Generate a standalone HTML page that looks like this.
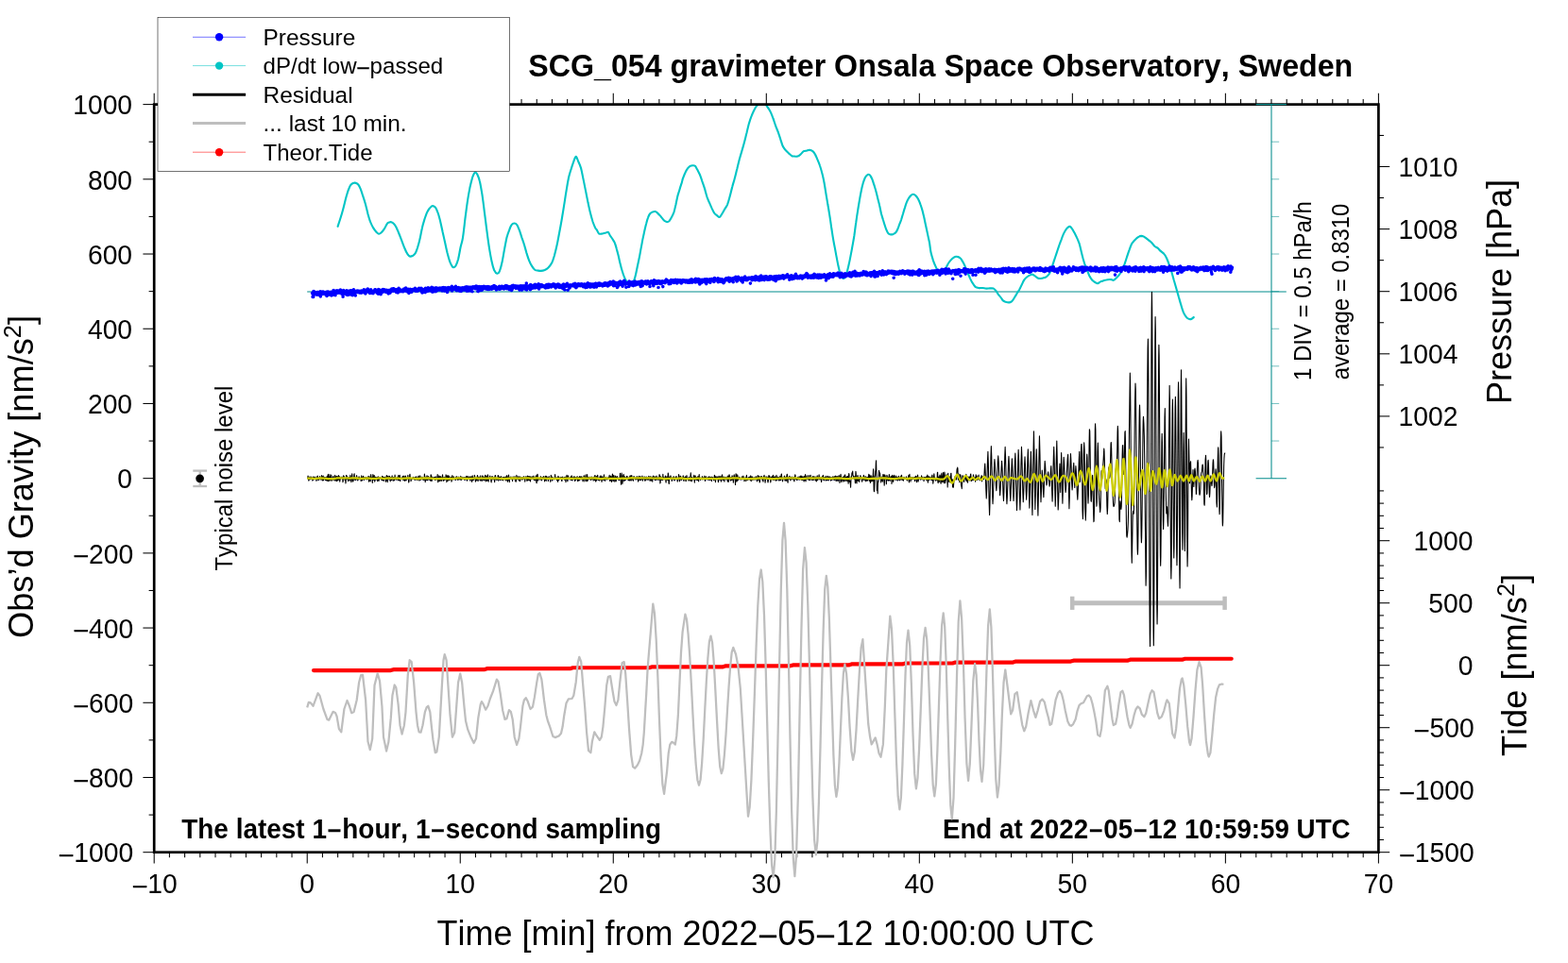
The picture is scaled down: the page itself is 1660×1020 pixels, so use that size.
<!DOCTYPE html>
<html lang="en">
<head>
<meta charset="utf-8">
<title>SCG_054 gravimeter Onsala Space Observatory, Sweden</title>
<style>
html,body{margin:0;padding:0;background:#fff;}
body{width:1660px;height:1020px;overflow:hidden;}
svg{display:block;}
text{font-family:"Liberation Sans",sans-serif;font-kerning:none;font-variant-ligatures:none;}
</style>
</head>
<body>
<svg width="1660" height="1020" viewBox="0 0 1660 1020">
<rect x="0" y="0" width="1660" height="1020" fill="#fff"/>
<defs><clipPath id="clip"><rect x="163.2" y="110.6" width="1296.2" height="792.1"/></clipPath></defs>
<g id="data" fill="none" stroke-linejoin="round" stroke-linecap="butt">
<line x1="325.2" y1="308.9" x2="1361.8" y2="308.9" stroke="#008b8b" stroke-width="1.05"/>
<path d="M357.6,239.8C358.5,237.1 361.3,228.8 362.7,223.5C364.2,218.3 365.4,212.4 366.6,208.2C367.7,204.1 368.8,200.9 369.8,198.7C370.7,196.4 371.3,195.7 372.3,194.9C373.3,194.0 374.7,193.5 375.9,193.6C377.0,193.7 378.3,194.3 379.3,195.5C380.3,196.7 381.0,198.5 381.9,200.6C382.7,202.7 383.6,205.6 384.4,208.2C385.3,210.9 386.1,213.4 387.0,216.5C387.8,219.6 388.7,223.6 389.5,226.7C390.4,229.8 391.1,232.6 392.1,235.0C393.0,237.4 394.2,239.6 395.2,241.4C396.3,243.2 397.5,244.8 398.4,245.8C399.4,246.9 400.1,247.6 401.0,247.7C401.8,247.8 402.6,247.3 403.5,246.5C404.5,245.6 405.6,244.2 406.7,242.6C407.8,241.0 409.0,238.1 409.9,236.9C410.7,235.7 411.1,235.9 411.8,235.6C412.5,235.4 413.3,235.0 414.1,235.2C415.0,235.5 416.0,236.0 416.9,236.9C417.8,237.8 418.6,239.1 419.5,240.7C420.3,242.3 421.0,244.1 422.0,246.5C423.0,248.8 424.1,252.0 425.2,254.7C426.2,257.5 427.3,260.6 428.4,263.0C429.4,265.5 430.6,268.0 431.6,269.4C432.5,270.8 433.2,271.4 434.1,271.6C435.1,271.8 436.3,271.2 437.3,270.7C438.3,270.1 439.1,269.4 439.8,268.1C440.6,266.9 441.0,265.4 441.8,263.0C442.5,260.7 443.5,257.7 444.3,254.1C445.2,250.5 446.0,245.0 446.9,241.4C447.7,237.8 448.6,235.1 449.4,232.4C450.3,229.8 451.1,227.3 451.9,225.4C452.8,223.5 453.6,222.1 454.5,221.0C455.3,219.8 456.4,218.9 457.0,218.4C457.7,218.0 457.9,218.0 458.6,218.2C459.2,218.4 460.1,218.6 460.9,219.7C461.7,220.8 462.6,222.5 463.4,224.8C464.3,227.1 465.1,230.3 466.0,233.7C466.8,237.1 467.7,241.4 468.5,245.2C469.4,249.0 470.2,252.8 471.1,256.7C471.9,260.5 472.8,264.7 473.6,268.1C474.5,271.5 475.3,274.7 476.2,277.0C477.0,279.4 478.0,281.1 478.7,282.1C479.4,283.2 479.6,283.3 480.2,283.2C480.9,283.1 481.7,283.0 482.5,281.5C483.3,280.1 484.2,277.8 485.1,274.5C485.9,271.2 486.8,265.6 487.6,261.8C488.5,257.9 489.2,256.7 490.0,251.6C490.8,246.5 491.7,237.8 492.5,231.2C493.4,224.6 494.2,217.6 495.1,212.1C495.9,206.5 496.8,202.1 497.6,198.0C498.5,194.0 499.5,190.3 500.2,187.8C500.9,185.4 501.6,184.3 502.1,183.4C502.6,182.5 502.8,182.3 503.4,182.5C503.9,182.7 504.5,183.1 505.3,184.7C506.0,186.2 507.0,188.2 507.8,191.7C508.7,195.2 509.5,200.2 510.4,205.7C511.2,211.2 512.1,218.2 512.9,224.8C513.8,231.4 514.6,238.8 515.5,245.2C516.3,251.6 517.2,257.7 518.0,263.0C518.9,268.3 519.7,273.2 520.6,277.0C521.4,280.9 522.2,283.8 523.1,286.0C524.1,288.1 525.4,289.6 526.3,289.8C527.3,290.0 528.0,289.2 528.9,287.2C529.7,285.3 530.6,282.1 531.4,278.3C532.3,274.5 533.1,268.8 534.0,264.3C534.8,259.8 535.7,255.0 536.5,251.6C537.4,248.2 538.2,246.1 539.1,243.9C539.9,241.7 540.7,239.4 541.6,238.2C542.5,236.9 543.6,236.5 544.5,236.5C545.5,236.5 546.5,236.9 547.3,238.2C548.2,239.4 549.0,241.7 549.9,243.9C550.7,246.1 551.6,249.0 552.4,251.6C553.3,254.1 554.1,256.4 555.0,259.2C555.8,262.0 556.7,265.4 557.5,268.1C558.4,270.9 559.1,273.4 560.1,275.8C561.0,278.1 562.2,280.4 563.3,282.1C564.3,283.8 565.4,285.2 566.5,286.0C567.5,286.7 568.6,286.5 569.6,286.6C570.7,286.8 571.7,287.0 572.8,286.9C574.0,286.8 575.4,286.5 576.7,286.0C577.9,285.4 579.2,284.7 580.5,283.4C581.8,282.1 583.2,280.4 584.3,278.3C585.4,276.2 586.0,273.6 586.9,270.7C587.7,267.7 588.6,264.3 589.4,260.5C590.3,256.7 591.1,252.2 591.9,247.7C592.8,243.3 593.6,238.6 594.5,233.7C595.3,228.8 596.2,223.7 597.0,218.4C597.9,213.1 598.7,207.0 599.6,201.9C600.4,196.8 601.3,191.7 602.1,187.8C603.0,184.0 603.8,181.7 604.7,178.9C605.5,176.2 606.4,173.5 607.2,171.3C608.1,169.1 608.9,165.9 609.8,165.9C610.6,165.9 611.5,169.3 612.3,171.3C613.2,173.2 614.0,174.7 614.9,177.6C615.7,180.6 616.6,185.1 617.4,189.1C618.3,193.2 619.1,197.6 620.0,201.9C620.8,206.1 621.7,210.6 622.5,214.6C623.4,218.6 624.2,222.7 625.1,226.1C625.9,229.5 626.8,232.4 627.6,235.0C628.5,237.5 629.5,239.9 630.2,241.4C630.9,242.8 631.3,242.7 631.9,243.7C632.6,244.7 633.1,246.9 634.1,247.5C635.0,248.2 636.4,247.7 637.6,247.5C638.9,247.4 640.4,246.8 641.5,246.5C642.5,246.2 643.0,245.4 643.8,245.9C644.5,246.4 645.1,248.2 645.9,249.5C646.7,250.7 647.6,251.9 648.5,253.3C649.3,254.7 650.3,255.9 651.0,257.7C651.8,259.5 652.3,261.8 652.9,264.1C653.6,266.4 654.2,269.1 654.9,271.8C655.5,274.4 656.1,277.5 656.8,280.0C657.4,282.6 657.9,284.7 658.7,287.0C659.4,289.4 660.4,292.3 661.2,294.1C662.0,295.9 662.4,296.7 663.4,297.9C664.3,299.1 665.7,301.3 667.0,301.3C668.2,301.3 669.8,299.4 670.8,297.9C671.7,296.4 672.1,294.6 672.7,292.1C673.3,289.7 674.0,286.2 674.6,283.2C675.2,280.3 675.9,277.5 676.5,274.3C677.2,271.1 677.8,267.5 678.4,264.1C679.1,260.7 679.7,257.1 680.3,253.9C681.0,250.7 681.6,247.9 682.2,245.0C682.9,242.1 683.5,239.2 684.2,236.7C684.8,234.3 685.4,232.0 686.1,230.3C686.7,228.6 687.2,227.5 688.0,226.5C688.7,225.6 689.6,225.0 690.5,224.6C691.5,224.2 692.8,223.8 693.7,224.0C694.7,224.2 695.4,225.1 696.3,225.9C697.1,226.6 698.0,227.5 698.8,228.4C699.7,229.4 700.5,230.7 701.4,231.6C702.2,232.6 703.1,233.6 703.9,234.2C704.7,234.7 705.5,235.1 706.2,235.1C707.0,235.1 707.6,234.9 708.4,234.2C709.2,233.4 710.1,231.9 710.9,230.3C711.8,228.7 712.7,226.8 713.5,224.6C714.2,222.4 714.7,219.7 715.4,217.0C716.0,214.2 716.7,210.6 717.3,208.0C717.9,205.5 718.5,204.1 719.2,201.7C719.9,199.2 721.1,195.5 721.8,193.4C722.4,191.3 722.3,191.0 722.9,189.2C723.6,187.4 724.6,184.6 725.5,182.8C726.3,181.0 727.2,179.5 728.0,178.4C728.9,177.2 729.7,176.4 730.6,175.8C731.5,175.3 732.5,175.2 733.4,175.2C734.3,175.2 735.1,175.1 735.9,175.8C736.7,176.6 737.4,178.2 738.2,179.6C739.0,181.1 739.9,182.7 740.8,184.7C741.6,186.8 742.5,189.3 743.3,191.8C744.2,194.2 745.0,196.6 745.9,199.4C746.7,202.2 747.6,205.8 748.4,208.3C749.3,210.9 750.1,212.7 751.0,214.7C751.8,216.7 752.7,218.6 753.5,220.4C754.4,222.2 755.2,224.3 756.1,225.5C757.0,226.8 757.9,227.3 758.9,228.1C759.8,228.8 760.8,230.4 761.8,230.0C762.8,229.6 764.0,227.0 765.0,225.5C765.9,224.0 766.7,222.6 767.5,221.1C768.4,219.6 769.2,218.7 770.1,216.6C770.9,214.5 771.8,211.4 772.6,208.3C773.5,205.2 774.3,201.3 775.2,198.1C776.0,194.9 776.9,192.4 777.7,189.2C778.6,186.0 779.4,182.4 780.3,179.0C781.1,175.6 782.0,172.0 782.8,168.8C783.7,165.6 784.5,162.9 785.4,159.9C786.2,156.9 787.1,154.2 787.9,151.0C788.8,147.8 789.6,144.2 790.5,140.8C791.3,137.4 792.2,133.6 793.0,130.6C793.9,127.6 794.7,125.2 795.6,122.9C796.4,120.7 797.3,118.9 798.1,117.2C799.0,115.5 799.9,113.8 800.7,112.7C801.4,111.7 801.9,111.6 802.6,111.0C803.3,110.3 804.1,109.2 804.8,108.7C805.4,108.2 806.0,107.9 806.7,107.9C807.3,107.9 807.9,108.2 808.6,108.7C809.3,109.2 810.1,110.0 810.9,111.0C811.7,112.0 812.6,113.3 813.4,114.7C814.3,116.0 815.1,117.3 816.0,119.1C816.8,120.9 817.7,123.2 818.5,125.5C819.4,127.8 820.2,130.8 821.1,133.1C821.9,135.5 822.8,137.2 823.6,139.5C824.5,141.8 825.3,144.6 826.2,147.2C827.0,149.7 827.9,152.9 828.7,154.8C829.6,156.7 830.2,157.3 831.3,158.6C832.3,159.9 833.9,161.3 835.1,162.4C836.3,163.5 837.4,164.7 838.3,165.2C839.1,165.8 839.0,165.5 840.0,165.5C841.0,165.6 843.2,165.9 844.5,165.5C845.7,165.2 846.6,164.3 847.6,163.4C848.7,162.5 849.8,160.8 850.8,160.2C851.9,159.6 853.0,159.8 854.0,159.6C855.1,159.3 856.1,158.8 857.2,158.9C858.3,159.0 859.4,159.5 860.4,160.2C861.3,160.9 862.1,161.9 862.9,163.4C863.8,164.9 864.6,167.1 865.5,169.1C866.3,171.1 867.2,172.9 868.0,175.5C868.9,178.0 869.8,181.4 870.6,184.4C871.3,187.4 871.9,189.9 872.5,193.3C873.1,196.7 873.8,201.0 874.4,204.8C875.0,208.6 875.7,212.4 876.3,216.3C877.0,220.1 877.6,223.7 878.2,227.7C878.9,231.8 879.5,236.2 880.1,240.5C880.8,244.7 881.4,249.4 882.1,253.2C882.7,257.0 883.3,260.0 884.0,263.4C884.6,266.8 885.3,270.6 885.9,273.6C886.5,276.6 886.8,278.6 887.4,281.3C888.0,283.9 888.8,287.5 889.4,289.5C890.1,291.6 890.7,292.8 891.2,293.7C891.8,294.7 892.3,295.0 892.9,295.0C893.4,295.0 894.0,294.7 894.5,293.7C895.1,292.8 895.7,291.6 896.3,289.5C897.0,287.5 897.7,284.3 898.4,281.3C899.1,278.2 899.9,274.5 900.5,271.1C901.2,267.7 901.8,264.5 902.4,260.9C903.1,257.3 903.7,253.6 904.4,249.4C905.0,245.2 905.6,239.8 906.3,235.4C906.9,230.9 907.5,226.7 908.2,222.6C908.8,218.6 909.5,214.8 910.1,211.2C910.7,207.6 911.4,203.9 912.0,201.0C912.6,198.0 913.3,195.5 913.9,193.3C914.6,191.2 915.2,189.5 915.8,188.2C916.5,187.0 917.1,186.3 917.7,185.7C918.4,185.1 919.0,184.7 919.6,184.8C920.3,184.9 920.9,185.4 921.6,186.3C922.2,187.2 922.8,188.5 923.5,190.1C924.1,191.7 924.7,193.9 925.4,195.9C926.0,197.9 926.7,199.9 927.3,202.2C927.9,204.6 928.6,207.3 929.2,209.9C929.8,212.4 930.5,214.8 931.1,217.5C931.8,220.3 932.4,223.9 933.0,226.5C933.7,229.0 934.3,230.7 934.9,232.8C935.6,235.0 936.2,237.3 936.9,239.2C937.5,241.1 938.1,242.9 938.8,244.3C939.4,245.7 940.0,246.8 940.7,247.5C941.4,248.2 942.1,248.3 943.0,248.4C943.8,248.4 944.9,248.2 945.8,247.9C946.7,247.5 947.6,247.0 948.3,246.2C949.1,245.4 949.6,244.4 950.2,243.0C950.9,241.6 951.5,239.6 952.1,237.9C952.8,236.2 953.4,234.7 954.1,232.8C954.7,230.9 955.3,228.6 956.0,226.5C956.6,224.3 957.2,222.1 957.9,220.1C958.5,218.1 959.2,215.9 959.8,214.4C960.4,212.8 961.0,211.7 961.7,210.5C962.4,209.3 963.4,207.9 964.3,207.1C965.1,206.3 966.0,205.8 966.8,205.8C967.6,205.8 968.5,206.3 969.3,207.1C970.2,207.9 971.0,209.0 971.9,210.5C972.7,212.1 973.7,214.2 974.4,216.3C975.2,218.3 975.7,220.3 976.4,222.6C977.0,225.0 977.6,227.5 978.3,230.3C978.9,233.0 979.5,236.2 980.2,239.2C980.8,242.2 981.5,245.2 982.1,248.1C982.7,251.1 983.4,253.9 984.0,257.0C984.6,260.2 984.8,264.0 985.5,267.2C986.2,270.3 987.2,273.5 988.0,276.1C988.9,278.6 989.7,280.5 990.6,282.4C991.4,284.4 992.3,286.3 993.1,287.5C994.0,288.8 994.6,289.8 995.7,289.8C996.7,289.8 998.4,288.8 999.5,287.5C1000.6,286.3 1001.2,284.0 1002.1,282.4C1002.9,280.9 1003.6,279.4 1004.6,278.0C1005.6,276.6 1006.7,275.2 1007.8,274.2C1008.9,273.2 1010.0,272.4 1011.0,272.0C1011.9,271.6 1012.6,271.6 1013.5,271.9C1014.5,272.1 1015.8,272.6 1016.7,273.5C1017.7,274.4 1018.4,275.9 1019.3,277.3C1020.1,278.8 1021.0,280.5 1021.8,282.4C1022.7,284.4 1023.5,286.8 1024.4,288.8C1025.2,290.8 1026.1,292.7 1026.9,294.6C1027.8,296.4 1028.5,298.1 1029.5,299.6C1030.4,301.2 1031.5,302.9 1032.6,303.9C1033.8,304.8 1035.2,304.9 1036.5,305.1C1037.7,305.3 1039.0,304.9 1040.3,305.0C1041.6,305.1 1042.8,305.6 1044.1,305.6C1045.4,305.7 1046.7,305.4 1047.9,305.4C1049.2,305.4 1050.7,305.2 1051.8,305.6C1052.8,306.1 1053.5,306.9 1054.3,307.9C1055.2,309.0 1056.0,310.6 1056.9,311.8C1057.7,312.9 1058.6,313.8 1059.4,314.9C1060.3,316.0 1061.1,317.6 1061.9,318.4C1062.8,319.2 1063.4,319.4 1064.5,319.8C1065.6,320.1 1067.3,320.5 1068.3,320.4C1069.4,320.4 1070.0,320.1 1070.9,319.4C1071.7,318.7 1072.6,317.5 1073.4,316.2C1074.3,314.9 1075.0,313.3 1076.0,311.8C1076.9,310.2 1078.2,308.4 1079.2,306.7C1080.1,305.0 1080.9,303.3 1081.7,301.6C1082.6,299.9 1083.3,297.8 1084.3,296.5C1085.2,295.1 1086.4,294.1 1087.4,293.3C1088.5,292.4 1089.7,291.8 1090.6,291.4C1091.6,290.9 1092.1,290.4 1093.2,290.7C1094.2,291.0 1095.9,292.6 1097.0,293.3C1098.1,294.0 1098.9,294.7 1100.0,294.9C1101.1,295.1 1102.5,294.8 1103.8,294.6C1105.1,294.3 1106.5,294.0 1107.6,293.3C1108.8,292.5 1109.9,291.7 1110.8,290.1C1111.8,288.5 1112.5,286.1 1113.4,283.7C1114.2,281.4 1115.1,278.6 1115.9,276.1C1116.8,273.5 1117.6,271.0 1118.5,268.4C1119.3,265.9 1120.2,263.2 1121.0,260.8C1121.9,258.3 1122.7,256.0 1123.6,253.8C1124.4,251.5 1125.3,249.2 1126.1,247.4C1127.0,245.6 1127.8,244.1 1128.7,242.9C1129.5,241.8 1130.5,240.9 1131.2,240.4C1131.9,239.9 1132.2,239.7 1132.9,240.0C1133.5,240.3 1134.3,241.2 1135.0,242.3C1135.8,243.4 1136.7,245.2 1137.6,246.8C1138.4,248.4 1139.3,249.9 1140.1,251.9C1141.0,253.8 1141.9,255.9 1142.7,258.2C1143.4,260.6 1144.0,263.3 1144.6,265.9C1145.2,268.4 1145.9,271.2 1146.5,273.5C1147.2,275.9 1147.7,277.8 1148.4,279.9C1149.2,282.0 1150.1,284.1 1151.0,286.3C1151.8,288.4 1152.7,290.9 1153.5,292.6C1154.4,294.3 1155.1,295.4 1156.1,296.5C1157.0,297.5 1158.3,298.4 1159.3,299.0C1160.3,299.6 1161.1,300.4 1162.1,300.3C1163.0,300.2 1163.9,298.9 1165.0,298.4C1166.1,297.8 1167.5,297.5 1168.8,297.1C1170.1,296.7 1171.4,296.4 1172.6,296.2C1173.9,296.0 1175.4,296.0 1176.5,296.1C1177.5,296.2 1178.2,297.1 1179.0,296.8C1179.9,296.6 1180.6,295.5 1181.6,294.6C1182.5,293.6 1183.7,292.7 1184.7,291.4C1185.8,290.0 1187.0,288.2 1187.9,286.3C1188.9,284.4 1189.6,282.2 1190.5,279.9C1191.3,277.6 1192.2,274.8 1193.0,272.2C1193.9,269.7 1194.7,266.9 1195.6,264.6C1196.4,262.3 1197.3,259.8 1198.1,258.2C1199.0,256.6 1199.8,256.0 1200.7,255.0C1201.5,254.1 1202.4,253.2 1203.2,252.5C1204.1,251.8 1204.9,251.0 1205.8,250.6C1206.6,250.2 1207.6,250.0 1208.3,249.9C1209.1,249.9 1209.5,249.9 1210.2,250.2C1211.0,250.5 1211.8,251.2 1212.8,251.9C1213.7,252.6 1214.9,253.6 1216.0,254.4C1217.0,255.3 1218.1,255.9 1219.2,257.0C1220.2,258.0 1221.3,259.8 1222.3,260.8C1223.4,261.7 1224.5,261.8 1225.5,262.7C1226.6,263.5 1227.5,264.8 1228.7,265.9C1229.9,266.9 1231.5,267.8 1232.5,269.1C1233.6,270.3 1234.2,271.7 1235.1,273.5C1235.9,275.3 1236.8,277.6 1237.6,279.9C1238.5,282.2 1239.3,284.8 1240.2,287.5C1241.0,290.3 1241.9,293.5 1242.7,296.5C1243.6,299.4 1244.4,302.4 1245.3,305.4C1246.1,308.4 1247.0,311.3 1247.8,314.3C1248.7,317.3 1249.5,320.5 1250.4,323.2C1251.2,326.0 1252.1,328.9 1252.9,330.9C1253.8,332.9 1254.5,334.2 1255.5,335.3C1256.4,336.5 1257.7,337.5 1258.7,337.9C1259.6,338.3 1260.4,338.2 1261.2,337.9C1262.1,337.6 1263.3,336.3 1263.8,336.0" stroke="#00c5c5" stroke-width="2.1" stroke-linecap="round" clip-path="url(#clip)"/>
<path d="M330.6,310.5h0M330.9,311.1h0M331.1,314.4h0M331.4,310.0h0M331.7,314.5h0M332.0,308.6h0M332.2,312.2h0M332.5,310.0h0M332.8,310.9h0M333.0,312.0h0M333.3,310.2h0M333.6,311.8h0M333.8,309.6h0M334.1,310.5h0M334.4,310.6h0M334.7,311.3h0M334.9,310.5h0M335.2,311.6h0M335.5,310.8h0M335.7,312.2h0M336.0,309.6h0M336.3,309.5h0M336.6,311.3h0M336.8,310.2h0M337.1,312.1h0M337.4,310.5h0M337.6,310.6h0M337.9,311.6h0M338.2,310.6h0M338.4,311.6h0M338.7,311.3h0M339.0,308.8h0M339.3,313.9h0M339.5,310.9h0M339.8,310.3h0M340.1,311.5h0M340.3,311.4h0M340.6,311.8h0M340.9,311.4h0M341.2,309.0h0M341.4,310.5h0M341.7,311.0h0M342.0,309.7h0M342.2,309.1h0M342.5,311.1h0M342.8,310.1h0M343.0,309.5h0M343.3,310.0h0M343.6,310.9h0M343.9,311.3h0M344.1,309.7h0M344.4,309.8h0M344.7,311.0h0M344.9,312.2h0M345.2,309.5h0M345.5,309.2h0M345.8,309.7h0M346.0,313.5h0M346.3,309.4h0M346.6,309.3h0M346.8,309.1h0M347.1,312.4h0M347.4,309.0h0M347.6,309.5h0M347.9,309.9h0M348.2,311.7h0M348.5,309.9h0M348.7,309.8h0M349.0,312.0h0M349.3,311.5h0M349.5,309.7h0M349.8,310.3h0M350.1,309.4h0M350.4,311.2h0M350.6,310.2h0M350.9,312.9h0M351.2,312.4h0M351.4,310.8h0M351.7,309.2h0M352.0,312.4h0M352.2,309.5h0M352.5,310.4h0M352.8,310.7h0M353.1,307.5h0M353.3,309.0h0M353.6,308.6h0M353.9,310.0h0M354.1,309.2h0M354.4,310.0h0M354.7,312.0h0M355.0,312.7h0M355.2,308.4h0M355.5,310.7h0M355.8,310.4h0M356.0,309.0h0M356.3,308.2h0M356.6,309.8h0M356.8,307.8h0M357.1,309.4h0M357.4,308.3h0M357.7,310.2h0M357.9,309.7h0M358.2,308.3h0M358.5,308.2h0M358.7,309.3h0M359.0,309.0h0M359.3,310.2h0M359.6,308.7h0M359.8,309.4h0M360.1,309.9h0M360.4,307.0h0M360.6,309.6h0M360.9,309.6h0M361.2,309.4h0M361.4,310.2h0M361.7,310.0h0M362.0,311.4h0M362.3,309.6h0M362.5,308.8h0M362.8,309.1h0M363.1,314.2h0M363.3,311.5h0M363.6,307.6h0M363.9,311.0h0M364.2,310.3h0M364.4,309.2h0M364.7,311.0h0M365.0,309.6h0M365.2,308.7h0M365.5,310.5h0M365.8,310.2h0M366.0,309.7h0M366.3,311.8h0M366.6,309.9h0M366.9,307.7h0M367.1,310.7h0M367.4,308.3h0M367.7,308.4h0M367.9,312.4h0M368.2,308.8h0M368.5,310.3h0M368.8,308.5h0M369.0,312.2h0M369.3,310.1h0M369.6,308.2h0M369.8,310.7h0M370.1,308.2h0M370.4,308.7h0M370.6,309.6h0M370.9,307.9h0M371.2,308.9h0M371.5,308.4h0M371.7,312.0h0M372.0,307.8h0M372.3,309.6h0M372.5,311.8h0M372.8,309.0h0M373.1,312.8h0M373.4,312.5h0M373.6,311.5h0M373.9,309.9h0M374.2,308.2h0M374.4,306.8h0M374.7,310.5h0M375.0,309.2h0M375.2,309.0h0M375.5,308.6h0M375.8,309.4h0M376.1,308.3h0M376.3,313.0h0M376.6,308.5h0M376.9,309.1h0M377.1,309.6h0M377.4,309.1h0M377.7,308.4h0M378.0,309.5h0M378.2,308.8h0M378.5,308.0h0M378.8,309.3h0M379.0,308.8h0M379.3,309.4h0M379.6,308.3h0M379.8,309.5h0M380.1,309.1h0M380.4,309.9h0M380.7,308.6h0M380.9,308.4h0M381.2,309.9h0M381.5,308.8h0M381.7,309.4h0M382.0,309.3h0M382.3,310.3h0M382.6,308.0h0M382.8,308.7h0M383.1,309.9h0M383.4,309.2h0M383.6,309.2h0M383.9,308.8h0M384.2,308.0h0M384.4,309.2h0M384.7,308.8h0M385.0,307.7h0M385.3,306.9h0M385.5,309.7h0M385.8,309.4h0M386.1,309.8h0M386.3,309.4h0M386.6,307.8h0M386.9,310.9h0M387.2,308.1h0M387.4,308.3h0M387.7,307.5h0M388.0,307.1h0M388.2,308.3h0M388.5,307.3h0M388.8,308.7h0M389.0,308.8h0M389.3,306.0h0M389.6,308.6h0M389.9,308.1h0M390.1,309.2h0M390.4,308.1h0M390.7,308.0h0M390.9,308.1h0M391.2,307.7h0M391.5,310.5h0M391.7,310.4h0M392.0,308.9h0M392.3,308.6h0M392.6,306.8h0M392.8,307.5h0M393.1,308.8h0M393.4,310.1h0M393.6,308.9h0M393.9,309.2h0M394.2,308.4h0M394.5,308.8h0M394.7,309.2h0M395.0,310.7h0M395.3,309.4h0M395.5,308.8h0M395.8,309.3h0M396.1,307.7h0M396.3,308.6h0M396.6,308.0h0M396.9,306.9h0M397.2,307.3h0M397.4,306.8h0M397.7,307.9h0M398.0,308.2h0M398.2,308.9h0M398.5,307.8h0M398.8,307.6h0M399.1,310.2h0M399.3,308.4h0M399.6,308.3h0M399.9,308.3h0M400.1,310.9h0M400.4,311.2h0M400.7,306.6h0M400.9,308.3h0M401.2,309.1h0M401.5,307.4h0M401.8,310.9h0M402.0,309.8h0M402.3,309.0h0M402.6,307.2h0M402.8,311.1h0M403.1,311.7h0M403.4,309.8h0M403.7,309.9h0M403.9,308.2h0M404.2,308.6h0M404.5,309.8h0M404.7,308.6h0M405.0,307.4h0M405.3,306.6h0M405.5,308.3h0M405.8,307.9h0M406.1,308.8h0M406.4,306.9h0M406.6,308.5h0M406.9,308.0h0M407.2,308.6h0M407.4,307.7h0M407.7,307.0h0M408.0,309.1h0M408.3,307.2h0M408.5,308.9h0M408.8,308.3h0M409.1,308.0h0M409.3,309.5h0M409.6,307.2h0M409.9,308.0h0M410.1,309.3h0M410.4,308.1h0M410.7,308.5h0M411.0,309.8h0M411.2,310.9h0M411.5,308.6h0M411.8,308.2h0M412.0,309.1h0M412.3,307.2h0M412.6,307.8h0M412.9,307.7h0M413.1,310.1h0M413.4,307.8h0M413.7,307.9h0M413.9,307.1h0M414.2,308.8h0M414.5,306.7h0M414.7,306.1h0M415.0,306.9h0M415.3,307.0h0M415.6,307.0h0M415.8,306.9h0M416.1,305.8h0M416.4,307.0h0M416.6,308.2h0M416.9,305.8h0M417.2,306.7h0M417.5,307.1h0M417.7,307.5h0M418.0,308.2h0M418.3,308.1h0M418.5,307.4h0M418.8,308.3h0M419.1,307.4h0M419.3,306.8h0M419.6,309.4h0M419.9,306.9h0M420.2,307.7h0M420.4,308.4h0M420.7,307.0h0M421.0,308.1h0M421.2,309.9h0M421.5,306.3h0M421.8,308.3h0M422.1,305.4h0M422.3,307.2h0M422.6,307.3h0M422.9,306.3h0M423.1,306.8h0M423.4,308.1h0M423.7,307.6h0M423.9,308.8h0M424.2,307.5h0M424.5,307.9h0M424.8,308.5h0M425.0,308.1h0M425.3,307.2h0M425.6,308.2h0M425.8,308.2h0M426.1,308.8h0M426.4,308.4h0M426.7,308.1h0M426.9,307.7h0M427.2,308.6h0M427.5,306.8h0M427.7,306.1h0M428.0,306.5h0M428.3,306.3h0M428.5,307.7h0M428.8,307.2h0M429.1,306.9h0M429.4,307.8h0M429.6,305.0h0M429.9,307.5h0M430.2,306.5h0M430.4,306.9h0M430.7,308.7h0M431.0,307.5h0M431.3,308.2h0M431.5,307.7h0M431.8,306.4h0M432.1,308.4h0M432.3,309.0h0M432.6,306.5h0M432.9,310.4h0M433.1,307.9h0M433.4,308.9h0M433.7,307.6h0M434.0,309.4h0M434.2,306.4h0M434.5,307.9h0M434.8,306.8h0M435.0,307.5h0M435.3,308.8h0M435.6,307.5h0M435.9,309.2h0M436.1,306.7h0M436.4,307.6h0M436.7,307.4h0M436.9,306.6h0M437.2,306.5h0M437.5,306.9h0M437.7,307.0h0M438.0,307.2h0M438.3,306.5h0M438.6,306.3h0M438.8,306.5h0M439.1,306.8h0M439.4,305.3h0M439.6,308.1h0M439.9,307.6h0M440.2,307.9h0M440.5,307.1h0M440.7,308.3h0M441.0,308.3h0M441.3,308.3h0M441.5,306.7h0M441.8,307.1h0M442.1,308.2h0M442.3,306.2h0M442.6,306.8h0M442.9,305.7h0M443.2,307.3h0M443.4,305.5h0M443.7,305.3h0M444.0,306.8h0M444.2,306.6h0M444.5,306.6h0M444.8,307.5h0M445.1,306.1h0M445.3,306.6h0M445.6,307.6h0M445.9,305.3h0M446.1,307.1h0M446.4,305.8h0M446.7,309.5h0M446.9,310.0h0M447.2,309.9h0M447.5,306.8h0M447.8,307.0h0M448.0,309.1h0M448.3,307.5h0M448.6,306.9h0M448.8,309.1h0M449.1,309.0h0M449.4,306.2h0M449.7,307.3h0M449.9,307.7h0M450.2,309.6h0M450.5,305.2h0M450.7,307.0h0M451.0,307.8h0M451.3,305.7h0M451.5,306.3h0M451.8,306.9h0M452.1,305.8h0M452.4,306.4h0M452.6,308.4h0M452.9,305.5h0M453.2,304.8h0M453.4,306.3h0M453.7,305.8h0M454.0,306.7h0M454.3,306.2h0M454.5,306.8h0M454.8,306.8h0M455.1,305.6h0M455.3,307.9h0M455.6,305.7h0M455.9,306.9h0M456.1,305.6h0M456.4,305.2h0M456.7,307.4h0M457.0,304.4h0M457.2,305.3h0M457.5,305.3h0M457.8,309.3h0M458.0,306.7h0M458.3,305.2h0M458.6,305.4h0M458.9,305.1h0M459.1,306.4h0M459.4,305.2h0M459.7,308.7h0M459.9,306.6h0M460.2,306.9h0M460.5,307.0h0M460.7,307.2h0M461.0,308.1h0M461.3,308.7h0M461.6,304.8h0M461.8,305.8h0M462.1,305.6h0M462.4,305.7h0M462.6,307.7h0M462.9,307.1h0M463.2,306.2h0M463.5,305.3h0M463.7,306.7h0M464.0,306.7h0M464.3,306.8h0M464.5,305.6h0M464.8,305.2h0M465.1,307.2h0M465.3,305.9h0M465.6,306.0h0M465.9,305.1h0M466.2,306.0h0M466.4,305.2h0M466.7,306.1h0M467.0,307.0h0M467.2,306.7h0M467.5,307.3h0M467.8,305.0h0M468.1,308.0h0M468.3,305.7h0M468.6,304.8h0M468.9,306.4h0M469.1,304.9h0M469.4,305.8h0M469.7,304.6h0M469.9,307.2h0M470.2,307.7h0M470.5,306.7h0M470.8,308.1h0M471.0,307.0h0M471.3,306.9h0M471.6,304.8h0M471.8,306.1h0M472.1,307.6h0M472.4,305.5h0M472.7,306.1h0M472.9,305.7h0M473.2,305.7h0M473.5,309.4h0M473.7,306.1h0M474.0,307.4h0M474.3,306.7h0M474.5,304.6h0M474.8,306.1h0M475.1,305.8h0M475.4,305.6h0M475.6,304.9h0M475.9,306.7h0M476.2,305.2h0M476.4,306.3h0M476.7,305.5h0M477.0,305.4h0M477.3,305.3h0M477.5,306.0h0M477.8,305.5h0M478.1,304.5h0M478.3,303.3h0M478.6,308.0h0M478.9,304.1h0M479.1,304.5h0M479.4,306.4h0M479.7,305.1h0M480.0,305.7h0M480.2,306.3h0M480.5,305.4h0M480.8,305.9h0M481.0,304.5h0M481.3,304.5h0M481.6,306.5h0M481.9,304.9h0M482.1,305.6h0M482.4,303.4h0M482.7,304.5h0M482.9,305.9h0M483.2,305.7h0M483.5,307.7h0M483.7,305.2h0M484.0,305.6h0M484.3,304.7h0M484.6,305.1h0M484.8,305.5h0M485.1,306.9h0M485.4,304.5h0M485.6,306.7h0M485.9,305.9h0M486.2,307.7h0M486.5,306.6h0M486.7,308.2h0M487.0,308.0h0M487.3,305.7h0M487.5,307.5h0M487.8,305.0h0M488.1,308.4h0M488.3,306.1h0M488.6,305.5h0M488.9,306.3h0M489.2,305.3h0M489.4,304.7h0M489.7,305.9h0M490.0,305.6h0M490.2,307.1h0M490.5,306.1h0M490.8,305.6h0M491.1,304.8h0M491.3,305.6h0M491.6,304.8h0M491.9,307.3h0M492.1,304.3h0M492.4,304.5h0M492.7,305.4h0M492.9,304.8h0M493.2,305.2h0M493.5,304.8h0M493.8,303.7h0M494.0,306.1h0M494.3,308.2h0M494.6,304.9h0M494.8,307.3h0M495.1,304.9h0M495.4,304.1h0M495.7,306.3h0M495.9,305.2h0M496.2,307.9h0M496.5,304.8h0M496.7,305.5h0M497.0,304.4h0M497.3,304.7h0M497.5,305.5h0M497.8,304.9h0M498.1,306.5h0M498.4,304.2h0M498.6,307.9h0M498.9,307.5h0M499.2,305.9h0M499.4,305.8h0M499.7,305.6h0M500.0,308.7h0M500.3,304.9h0M500.5,303.8h0M500.8,305.1h0M501.1,305.0h0M501.3,304.6h0M501.6,304.3h0M501.9,304.6h0M502.1,303.7h0M502.4,304.6h0M502.7,304.1h0M503.0,305.8h0M503.2,305.0h0M503.5,305.7h0M503.8,305.8h0M504.0,303.1h0M504.3,305.1h0M504.6,303.2h0M504.9,304.6h0M505.1,305.0h0M505.4,305.1h0M505.7,303.5h0M505.9,308.5h0M506.2,308.6h0M506.5,306.6h0M506.7,304.3h0M507.0,304.1h0M507.3,304.1h0M507.6,306.0h0M507.8,303.6h0M508.1,305.4h0M508.4,304.1h0M508.6,304.8h0M508.9,307.4h0M509.2,304.5h0M509.5,305.1h0M509.7,303.7h0M510.0,304.3h0M510.3,303.9h0M510.5,307.1h0M510.8,304.3h0M511.1,304.3h0M511.3,304.8h0M511.6,305.2h0M511.9,305.3h0M512.2,303.2h0M512.4,304.0h0M512.7,303.7h0M513.0,304.1h0M513.2,304.9h0M513.5,305.7h0M513.8,303.7h0M514.0,304.9h0M514.3,305.6h0M514.6,306.0h0M514.9,305.1h0M515.1,304.9h0M515.4,303.8h0M515.7,303.7h0M515.9,305.4h0M516.2,306.4h0M516.5,304.5h0M516.8,303.6h0M517.0,305.6h0M517.3,305.4h0M517.6,305.4h0M517.8,306.4h0M518.1,304.8h0M518.4,304.9h0M518.6,304.0h0M518.9,304.5h0M519.2,305.4h0M519.5,304.8h0M519.7,305.7h0M520.0,305.3h0M520.3,306.1h0M520.5,306.3h0M520.8,305.0h0M521.1,303.6h0M521.4,305.5h0M521.6,304.1h0M521.9,304.8h0M522.2,303.6h0M522.4,305.5h0M522.7,304.7h0M523.0,302.5h0M523.2,304.2h0M523.5,302.7h0M523.8,304.8h0M524.1,304.8h0M524.3,304.4h0M524.6,305.1h0M524.9,303.5h0M525.1,305.8h0M525.4,306.9h0M525.7,304.6h0M526.0,305.8h0M526.2,305.6h0M526.5,306.3h0M526.8,304.7h0M527.0,304.9h0M527.3,305.6h0M527.6,305.7h0M527.8,304.7h0M528.1,305.8h0M528.4,306.1h0M528.7,303.2h0M528.9,304.3h0M529.2,306.3h0M529.5,304.5h0M529.7,304.4h0M530.0,304.1h0M530.3,304.3h0M530.6,304.6h0M530.8,305.6h0M531.1,303.3h0M531.4,303.4h0M531.6,304.4h0M531.9,304.3h0M532.2,304.6h0M532.4,304.2h0M532.7,304.9h0M533.0,304.7h0M533.3,304.6h0M533.5,306.0h0M533.8,304.6h0M534.1,303.3h0M534.3,305.1h0M534.6,304.6h0M534.9,304.5h0M535.2,304.2h0M535.4,304.3h0M535.7,302.5h0M536.0,303.5h0M536.2,303.0h0M536.5,305.8h0M536.8,304.4h0M537.0,304.7h0M537.3,303.2h0M537.6,303.4h0M537.9,304.1h0M538.1,304.6h0M538.4,304.2h0M538.7,304.7h0M538.9,305.5h0M539.2,306.7h0M539.5,303.8h0M539.8,304.2h0M540.0,303.7h0M540.3,306.3h0M540.6,304.9h0M540.8,304.2h0M541.1,304.7h0M541.4,304.5h0M541.6,307.5h0M541.9,302.9h0M542.2,306.4h0M542.5,304.8h0M542.7,303.5h0M543.0,303.5h0M543.3,302.4h0M543.5,304.4h0M543.8,304.4h0M544.1,304.1h0M544.4,302.7h0M544.6,302.8h0M544.9,303.5h0M545.2,303.0h0M545.4,304.6h0M545.7,302.8h0M546.0,303.6h0M546.2,305.4h0M546.5,304.6h0M546.8,303.2h0M547.1,303.7h0M547.3,304.1h0M547.6,303.1h0M547.9,304.2h0M548.1,304.9h0M548.4,303.9h0M548.7,305.2h0M549.0,305.7h0M549.2,304.0h0M549.5,304.2h0M549.8,303.1h0M550.0,307.1h0M550.3,303.5h0M550.6,303.8h0M550.8,303.5h0M551.1,303.6h0M551.4,302.9h0M551.7,302.8h0M551.9,304.4h0M552.2,304.6h0M552.5,307.1h0M552.7,303.2h0M553.0,304.0h0M553.3,303.4h0M553.6,304.5h0M553.8,302.7h0M554.1,304.4h0M554.4,303.2h0M554.6,304.3h0M554.9,304.1h0M555.2,303.2h0M555.4,306.0h0M555.7,302.9h0M556.0,303.9h0M556.3,305.2h0M556.5,303.5h0M556.8,304.1h0M557.1,303.2h0M557.3,300.0h0M557.6,306.9h0M557.9,306.2h0M558.2,303.1h0M558.4,304.4h0M558.7,304.9h0M559.0,303.1h0M559.2,303.6h0M559.5,304.3h0M559.8,305.3h0M560.0,304.6h0M560.3,302.9h0M560.6,304.2h0M560.9,304.2h0M561.1,303.8h0M561.4,306.7h0M561.7,301.5h0M561.9,303.2h0M562.2,302.3h0M562.5,304.2h0M562.8,303.7h0M563.0,303.3h0M563.3,303.9h0M563.6,303.7h0M563.8,305.3h0M564.1,302.9h0M564.4,302.4h0M564.6,302.5h0M564.9,303.2h0M565.2,303.8h0M565.5,303.4h0M565.7,303.7h0M566.0,304.9h0M566.3,303.4h0M566.5,301.4h0M566.8,303.0h0M567.1,303.0h0M567.4,304.8h0M567.6,303.9h0M567.9,304.0h0M568.2,302.0h0M568.4,303.9h0M568.7,303.2h0M569.0,303.7h0M569.2,302.3h0M569.5,302.9h0M569.8,303.3h0M570.1,300.9h0M570.3,303.5h0M570.6,306.0h0M570.9,302.1h0M571.1,302.2h0M571.4,302.2h0M571.7,301.8h0M572.0,303.7h0M572.2,301.8h0M572.5,303.4h0M572.8,302.3h0M573.0,301.7h0M573.3,303.8h0M573.6,301.7h0M573.8,302.6h0M574.1,303.1h0M574.4,302.2h0M574.7,303.4h0M574.9,303.3h0M575.2,303.2h0M575.5,303.8h0M575.7,303.4h0M576.0,303.8h0M576.3,303.1h0M576.6,302.9h0M576.8,304.2h0M577.1,303.4h0M577.4,303.8h0M577.6,304.9h0M577.9,303.5h0M578.2,303.0h0M578.4,302.3h0M578.7,301.6h0M579.0,303.7h0M579.3,301.8h0M579.5,304.4h0M579.8,302.9h0M580.1,304.3h0M580.3,301.3h0M580.6,304.4h0M580.9,302.7h0M581.2,301.4h0M581.4,303.0h0M581.7,303.0h0M582.0,303.7h0M582.2,303.0h0M582.5,301.8h0M582.8,302.8h0M583.0,301.9h0M583.3,301.9h0M583.6,304.0h0M583.9,302.4h0M584.1,302.2h0M584.4,303.2h0M584.7,302.7h0M584.9,303.2h0M585.2,302.4h0M585.5,302.4h0M585.8,300.7h0M586.0,302.0h0M586.3,303.2h0M586.6,303.2h0M586.8,301.6h0M587.1,302.8h0M587.4,301.2h0M587.6,303.1h0M587.9,302.2h0M588.2,304.9h0M588.5,301.9h0M588.7,303.2h0M589.0,303.0h0M589.3,304.0h0M589.5,303.6h0M589.8,302.7h0M590.1,302.1h0M590.4,302.9h0M590.6,301.0h0M590.9,301.2h0M591.2,302.1h0M591.4,303.4h0M591.7,301.3h0M592.0,303.6h0M592.2,304.4h0M592.5,303.3h0M592.8,303.5h0M593.1,303.2h0M593.3,303.8h0M593.6,302.5h0M593.9,303.3h0M594.1,302.7h0M594.4,303.6h0M594.7,303.8h0M595.0,305.0h0M595.2,302.0h0M595.5,303.6h0M595.8,302.5h0M596.0,305.6h0M596.3,305.0h0M596.6,301.1h0M596.8,304.1h0M597.1,304.5h0M597.4,302.9h0M597.7,304.1h0M597.9,307.0h0M598.2,303.4h0M598.5,302.4h0M598.7,302.4h0M599.0,302.0h0M599.3,301.4h0M599.6,302.1h0M599.8,303.3h0M600.1,301.4h0M600.4,300.4h0M600.6,302.9h0M600.9,302.2h0M601.2,307.3h0M601.4,303.1h0M601.7,302.8h0M602.0,302.2h0M602.3,302.4h0M602.5,302.5h0M602.8,302.3h0M603.1,304.9h0M603.3,303.1h0M603.6,301.7h0M603.9,302.7h0M604.2,303.0h0M604.4,303.0h0M604.7,302.2h0M605.0,302.5h0M605.2,302.3h0M605.5,302.8h0M605.8,301.9h0M606.0,302.7h0M606.3,302.3h0M606.6,302.6h0M606.9,301.0h0M607.1,302.8h0M607.4,302.4h0M607.7,301.7h0M607.9,303.1h0M608.2,302.4h0M608.5,302.1h0M608.8,300.2h0M609.0,302.1h0M609.3,301.0h0M609.6,301.2h0M609.8,304.7h0M610.1,304.4h0M610.4,301.8h0M610.6,302.2h0M610.9,301.4h0M611.2,302.7h0M611.5,303.0h0M611.7,301.7h0M612.0,300.7h0M612.3,302.2h0M612.5,300.7h0M612.8,300.8h0M613.1,301.0h0M613.4,301.7h0M613.6,301.3h0M613.9,302.4h0M614.2,302.8h0M614.4,302.8h0M614.7,301.3h0M615.0,301.7h0M615.2,300.8h0M615.5,302.4h0M615.8,301.0h0M616.1,301.0h0M616.3,301.1h0M616.6,302.4h0M616.9,302.7h0M617.1,302.2h0M617.4,303.7h0M617.7,302.5h0M618.0,302.0h0M618.2,302.3h0M618.5,301.0h0M618.8,301.1h0M619.0,301.3h0M619.3,301.6h0M619.6,302.6h0M619.8,304.6h0M620.1,302.1h0M620.4,302.3h0M620.7,302.3h0M620.9,302.1h0M621.2,300.8h0M621.5,304.2h0M621.7,301.4h0M622.0,300.8h0M622.3,299.8h0M622.6,301.9h0M622.8,301.1h0M623.1,301.9h0M623.4,300.5h0M623.6,302.0h0M623.9,302.9h0M624.2,302.3h0M624.4,303.7h0M624.7,304.1h0M625.0,300.7h0M625.3,301.3h0M625.5,301.9h0M625.8,301.4h0M626.1,302.0h0M626.3,303.7h0M626.6,302.4h0M626.9,301.0h0M627.2,301.0h0M627.4,302.2h0M627.7,302.3h0M628.0,302.1h0M628.2,301.6h0M628.5,301.9h0M628.8,302.1h0M629.0,304.2h0M629.3,300.7h0M629.6,301.3h0M629.9,301.3h0M630.1,300.5h0M630.4,300.2h0M630.7,302.4h0M630.9,300.4h0M631.2,301.5h0M631.5,303.9h0M631.8,301.5h0M632.0,302.9h0M632.3,302.3h0M632.6,301.3h0M632.8,300.6h0M633.1,300.3h0M633.4,301.8h0M633.6,301.2h0M633.9,301.8h0M634.2,300.1h0M634.5,300.5h0M634.7,302.4h0M635.0,300.3h0M635.3,302.2h0M635.5,301.5h0M635.8,300.5h0M636.1,302.0h0M636.3,302.0h0M636.6,301.2h0M636.9,301.8h0M637.2,302.1h0M637.4,301.4h0M637.7,301.1h0M638.0,302.9h0M638.2,301.7h0M638.5,302.3h0M638.8,302.4h0M639.1,301.3h0M639.3,301.3h0M639.6,302.3h0M639.9,302.3h0M640.1,299.7h0M640.4,302.3h0M640.7,300.6h0M640.9,301.7h0M641.2,299.8h0M641.5,301.0h0M641.8,300.8h0M642.0,302.0h0M642.3,301.2h0M642.6,301.6h0M642.8,300.6h0M643.1,300.8h0M643.4,302.9h0M643.7,302.3h0M643.9,299.9h0M644.2,300.9h0M644.5,299.5h0M644.7,301.4h0M645.0,301.9h0M645.3,300.6h0M645.5,301.2h0M645.8,299.6h0M646.1,298.5h0M646.4,300.1h0M646.6,300.2h0M646.9,300.1h0M647.2,300.7h0M647.4,300.9h0M647.7,299.9h0M648.0,299.4h0M648.3,301.3h0M648.5,300.2h0M648.8,299.1h0M649.1,300.6h0M649.3,298.1h0M649.6,302.7h0M649.9,301.2h0M650.1,300.0h0M650.4,302.0h0M650.7,302.5h0M651.0,300.9h0M651.2,299.3h0M651.5,300.6h0M651.8,299.6h0M652.0,299.6h0M652.3,300.9h0M652.6,299.7h0M652.9,300.5h0M653.1,300.6h0M653.4,304.4h0M653.7,299.6h0M653.9,301.6h0M654.2,300.3h0M654.5,303.1h0M654.7,300.7h0M655.0,299.1h0M655.3,301.4h0M655.6,300.8h0M655.8,299.1h0M656.1,298.9h0M656.4,300.4h0M656.6,298.1h0M656.9,299.1h0M657.2,299.7h0M657.5,300.0h0M657.7,300.7h0M658.0,301.6h0M658.3,298.7h0M658.5,299.9h0M658.8,299.0h0M659.1,303.2h0M659.3,301.2h0M659.6,299.4h0M659.9,300.5h0M660.2,301.3h0M660.4,299.9h0M660.7,297.4h0M661.0,299.8h0M661.2,297.8h0M661.5,300.9h0M661.8,298.9h0M662.1,301.1h0M662.3,299.7h0M662.6,299.7h0M662.9,304.2h0M663.1,300.0h0M663.4,299.9h0M663.7,299.9h0M663.9,300.2h0M664.2,300.3h0M664.5,299.5h0M664.8,300.7h0M665.0,300.1h0M665.3,299.5h0M665.6,300.4h0M665.8,303.4h0M666.1,298.1h0M666.4,300.1h0M666.7,299.2h0M666.9,299.5h0M667.2,299.3h0M667.5,298.7h0M667.7,300.0h0M668.0,300.2h0M668.3,301.1h0M668.5,299.4h0M668.8,301.9h0M669.1,299.2h0M669.4,300.1h0M669.6,298.9h0M669.9,299.7h0M670.2,298.9h0M670.4,302.6h0M670.7,300.3h0M671.0,300.1h0M671.3,299.3h0M671.5,300.0h0M671.8,300.1h0M672.1,300.5h0M672.3,298.1h0M672.6,301.9h0M672.9,298.9h0M673.1,299.3h0M673.4,299.1h0M673.7,300.7h0M674.0,299.4h0M674.2,301.0h0M674.5,301.3h0M674.8,299.1h0M675.0,300.2h0M675.3,299.5h0M675.6,298.8h0M675.9,300.6h0M676.1,300.0h0M676.4,298.7h0M676.7,299.0h0M676.9,298.6h0M677.2,298.9h0M677.5,301.6h0M677.7,299.5h0M678.0,298.3h0M678.3,303.5h0M678.6,299.7h0M678.8,298.5h0M679.1,299.5h0M679.4,297.8h0M679.6,299.0h0M679.9,299.3h0M680.2,302.6h0M680.5,299.6h0M680.7,299.9h0M681.0,299.0h0M681.3,299.8h0M681.5,298.7h0M681.8,299.3h0M682.1,299.5h0M682.3,299.5h0M682.6,299.7h0M682.9,298.5h0M683.2,298.1h0M683.4,300.4h0M683.7,300.2h0M684.0,298.1h0M684.2,300.2h0M684.5,301.0h0M684.8,298.2h0M685.1,298.9h0M685.3,298.9h0M685.6,298.6h0M685.9,297.7h0M686.1,299.0h0M686.4,298.3h0M686.7,299.5h0M686.9,299.5h0M687.2,299.9h0M687.5,300.7h0M687.8,301.3h0M688.0,303.5h0M688.3,299.9h0M688.6,299.8h0M688.8,298.3h0M689.1,298.5h0M689.4,297.7h0M689.7,298.6h0M689.9,297.9h0M690.2,299.0h0M690.5,298.4h0M690.7,299.4h0M691.0,298.4h0M691.3,300.7h0M691.5,297.7h0M691.8,302.7h0M692.1,299.2h0M692.4,296.8h0M692.6,297.1h0M692.9,299.3h0M693.2,297.9h0M693.4,297.3h0M693.7,300.1h0M694.0,299.1h0M694.3,299.9h0M694.5,298.8h0M694.8,299.1h0M695.1,299.7h0M695.3,300.5h0M695.6,299.1h0M695.9,298.9h0M696.1,297.8h0M696.4,299.5h0M696.7,300.0h0M697.0,304.5h0M697.2,297.6h0M697.5,298.8h0M697.8,299.0h0M698.0,298.0h0M698.3,299.1h0M698.6,298.5h0M698.9,300.5h0M699.1,298.1h0M699.4,299.5h0M699.7,299.9h0M699.9,300.1h0M700.2,300.4h0M700.5,299.3h0M700.7,299.0h0M701.0,299.3h0M701.3,297.9h0M701.6,298.6h0M701.8,303.6h0M702.1,298.4h0M702.4,299.3h0M702.6,299.1h0M702.9,298.2h0M703.2,298.9h0M703.5,298.0h0M703.7,298.2h0M704.0,299.8h0M704.3,297.4h0M704.5,299.0h0M704.8,297.7h0M705.1,297.4h0M705.3,296.0h0M705.6,298.4h0M705.9,296.8h0M706.2,298.1h0M706.4,297.0h0M706.7,297.2h0M707.0,298.2h0M707.2,298.3h0M707.5,297.6h0M707.8,297.5h0M708.1,300.7h0M708.3,298.3h0M708.6,298.5h0M708.9,299.7h0M709.1,298.9h0M709.4,298.2h0M709.7,300.3h0M709.9,300.5h0M710.2,299.3h0M710.5,296.6h0M710.8,298.0h0M711.0,298.6h0M711.3,298.3h0M711.6,298.5h0M711.8,298.2h0M712.1,298.8h0M712.4,298.4h0M712.7,296.8h0M712.9,298.6h0M713.2,297.8h0M713.5,299.5h0M713.7,298.5h0M714.0,297.6h0M714.3,297.4h0M714.5,296.7h0M714.8,297.1h0M715.1,296.2h0M715.4,297.3h0M715.6,297.2h0M715.9,298.3h0M716.2,297.0h0M716.4,298.6h0M716.7,300.0h0M717.0,299.3h0M717.3,297.0h0M717.5,296.5h0M717.8,299.1h0M718.1,297.8h0M718.3,297.0h0M718.6,297.6h0M718.9,298.4h0M719.1,298.7h0M719.4,297.1h0M719.7,296.8h0M720.0,298.9h0M720.2,296.7h0M720.5,298.8h0M720.8,298.4h0M721.0,298.8h0M721.3,299.9h0M721.6,298.2h0M721.9,297.4h0M722.1,297.7h0M722.4,296.7h0M722.7,298.8h0M722.9,296.9h0M723.2,297.6h0M723.5,296.8h0M723.7,297.4h0M724.0,297.7h0M724.3,297.1h0M724.6,297.9h0M724.8,297.2h0M725.1,297.2h0M725.4,297.0h0M725.6,298.8h0M725.9,298.9h0M726.2,298.1h0M726.5,298.5h0M726.7,297.0h0M727.0,298.3h0M727.3,297.9h0M727.5,298.7h0M727.8,297.1h0M728.1,299.2h0M728.3,299.2h0M728.6,298.6h0M728.9,299.2h0M729.2,297.4h0M729.4,297.4h0M729.7,297.8h0M730.0,297.4h0M730.2,299.2h0M730.5,296.5h0M730.8,297.4h0M731.1,297.5h0M731.3,297.6h0M731.6,296.6h0M731.9,299.0h0M732.1,295.8h0M732.4,297.8h0M732.7,296.5h0M732.9,299.1h0M733.2,298.6h0M733.5,296.8h0M733.8,297.0h0M734.0,297.8h0M734.3,296.5h0M734.6,297.2h0M734.8,297.1h0M735.1,298.2h0M735.4,297.0h0M735.7,297.3h0M735.9,296.8h0M736.2,299.0h0M736.5,295.4h0M736.7,296.9h0M737.0,297.0h0M737.3,295.9h0M737.5,297.4h0M737.8,296.6h0M738.1,297.0h0M738.4,297.9h0M738.6,296.1h0M738.9,298.7h0M739.2,296.4h0M739.4,295.6h0M739.7,296.4h0M740.0,298.2h0M740.3,296.7h0M740.5,296.0h0M740.8,301.0h0M741.1,297.6h0M741.3,297.3h0M741.6,297.2h0M741.9,299.0h0M742.1,297.3h0M742.4,296.6h0M742.7,299.5h0M743.0,298.0h0M743.2,298.4h0M743.5,296.2h0M743.8,297.3h0M744.0,297.8h0M744.3,298.0h0M744.6,297.1h0M744.9,297.7h0M745.1,296.3h0M745.4,296.6h0M745.7,297.0h0M745.9,298.8h0M746.2,295.9h0M746.5,298.8h0M746.7,296.1h0M747.0,296.7h0M747.3,297.4h0M747.6,296.5h0M747.8,300.6h0M748.1,295.7h0M748.4,295.8h0M748.6,297.6h0M748.9,298.5h0M749.2,296.5h0M749.5,296.9h0M749.7,297.3h0M750.0,298.1h0M750.3,298.5h0M750.5,297.2h0M750.8,297.8h0M751.1,296.3h0M751.3,295.9h0M751.6,299.1h0M751.9,299.3h0M752.2,297.0h0M752.4,296.9h0M752.7,296.7h0M753.0,296.0h0M753.2,295.6h0M753.5,296.3h0M753.8,296.1h0M754.1,295.6h0M754.3,296.4h0M754.6,296.4h0M754.9,297.4h0M755.1,297.7h0M755.4,296.4h0M755.7,295.9h0M755.9,298.4h0M756.2,296.5h0M756.5,294.6h0M756.8,295.8h0M757.0,296.7h0M757.3,296.5h0M757.6,296.0h0M757.8,296.3h0M758.1,295.7h0M758.4,295.9h0M758.6,297.0h0M758.9,297.1h0M759.2,296.6h0M759.5,295.7h0M759.7,297.2h0M760.0,294.9h0M760.3,298.7h0M760.5,296.1h0M760.8,295.4h0M761.1,296.8h0M761.4,297.5h0M761.6,298.3h0M761.9,296.6h0M762.2,295.5h0M762.4,297.2h0M762.7,295.9h0M763.0,298.2h0M763.2,296.6h0M763.5,297.8h0M763.8,296.9h0M764.1,295.9h0M764.3,295.9h0M764.6,297.2h0M764.9,297.9h0M765.1,298.7h0M765.4,297.4h0M765.7,296.8h0M766.0,299.7h0M766.2,298.1h0M766.5,297.3h0M766.8,298.6h0M767.0,297.0h0M767.3,297.3h0M767.6,295.9h0M767.8,295.8h0M768.1,296.0h0M768.4,296.2h0M768.7,294.9h0M768.9,296.8h0M769.2,296.0h0M769.5,295.4h0M769.7,296.2h0M770.0,296.2h0M770.3,296.6h0M770.6,295.1h0M770.8,294.6h0M771.1,295.3h0M771.4,296.8h0M771.6,294.3h0M771.9,295.6h0M772.2,298.3h0M772.4,297.6h0M772.7,295.0h0M773.0,295.4h0M773.3,295.7h0M773.5,294.9h0M773.8,297.1h0M774.1,295.5h0M774.3,296.4h0M774.6,296.0h0M774.9,297.2h0M775.2,297.1h0M775.4,297.1h0M775.7,297.2h0M776.0,296.8h0M776.2,298.7h0M776.5,294.6h0M776.8,295.5h0M777.0,295.5h0M777.3,295.3h0M777.6,295.5h0M777.9,294.2h0M778.1,294.0h0M778.4,295.6h0M778.7,294.2h0M778.9,293.4h0M779.2,294.0h0M779.5,296.8h0M779.8,295.7h0M780.0,297.9h0M780.3,295.6h0M780.6,297.6h0M780.8,293.8h0M781.1,294.1h0M781.4,294.9h0M781.6,293.3h0M781.9,295.8h0M782.2,294.9h0M782.5,295.2h0M782.7,295.7h0M783.0,295.4h0M783.3,295.8h0M783.5,295.1h0M783.8,295.4h0M784.1,295.8h0M784.4,295.5h0M784.6,297.2h0M784.9,294.8h0M785.2,294.4h0M785.4,295.9h0M785.7,296.3h0M786.0,295.8h0M786.2,298.9h0M786.5,294.9h0M786.8,296.7h0M787.1,295.8h0M787.3,295.4h0M787.6,294.8h0M787.9,293.9h0M788.1,295.2h0M788.4,296.1h0M788.7,293.0h0M789.0,294.8h0M789.2,296.1h0M789.5,295.1h0M789.8,296.6h0M790.0,296.6h0M790.3,296.3h0M790.6,294.7h0M790.8,295.5h0M791.1,296.6h0M791.4,294.5h0M791.7,295.9h0M791.9,295.1h0M792.2,294.6h0M792.5,294.5h0M792.7,294.4h0M793.0,294.4h0M793.3,294.8h0M793.6,295.1h0M793.8,294.6h0M794.1,295.1h0M794.4,300.1h0M794.6,294.9h0M794.9,294.5h0M795.2,294.4h0M795.4,294.5h0M795.7,293.9h0M796.0,296.4h0M796.3,296.8h0M796.5,295.6h0M796.8,293.7h0M797.1,295.4h0M797.3,295.9h0M797.6,294.2h0M797.9,295.0h0M798.2,294.4h0M798.4,296.1h0M798.7,293.7h0M799.0,294.2h0M799.2,295.5h0M799.5,296.7h0M799.8,294.0h0M800.0,292.6h0M800.3,295.3h0M800.6,294.0h0M800.9,293.9h0M801.1,293.8h0M801.4,294.6h0M801.7,294.2h0M801.9,294.6h0M802.2,295.5h0M802.5,293.5h0M802.8,296.7h0M803.0,294.4h0M803.3,295.1h0M803.6,293.9h0M803.8,293.2h0M804.1,296.9h0M804.4,294.5h0M804.6,295.2h0M804.9,295.6h0M805.2,295.6h0M805.5,295.7h0M805.7,292.0h0M806.0,293.8h0M806.3,296.4h0M806.5,294.3h0M806.8,294.7h0M807.1,293.7h0M807.4,294.7h0M807.6,293.6h0M807.9,293.8h0M808.2,293.2h0M808.4,293.3h0M808.7,296.0h0M809.0,293.5h0M809.2,296.6h0M809.5,293.6h0M809.8,294.5h0M810.1,294.5h0M810.3,292.8h0M810.6,293.4h0M810.9,292.8h0M811.1,295.2h0M811.4,293.7h0M811.7,293.1h0M812.0,294.6h0M812.2,294.7h0M812.5,296.3h0M812.8,294.2h0M813.0,295.6h0M813.3,295.5h0M813.6,294.1h0M813.8,296.1h0M814.1,294.9h0M814.4,294.6h0M814.7,295.9h0M814.9,292.7h0M815.2,295.9h0M815.5,293.7h0M815.7,293.8h0M816.0,294.1h0M816.3,292.7h0M816.6,294.8h0M816.8,293.7h0M817.1,295.3h0M817.4,293.4h0M817.6,293.3h0M817.9,295.0h0M818.2,293.6h0M818.4,294.1h0M818.7,293.3h0M819.0,296.4h0M819.3,293.6h0M819.5,293.7h0M819.8,293.2h0M820.1,292.9h0M820.3,293.2h0M820.6,294.7h0M820.9,293.0h0M821.2,297.6h0M821.4,293.3h0M821.7,296.2h0M822.0,292.5h0M822.2,293.7h0M822.5,294.3h0M822.8,292.9h0M823.0,293.5h0M823.3,293.6h0M823.6,295.0h0M823.9,295.5h0M824.1,294.6h0M824.4,292.9h0M824.7,292.4h0M824.9,293.8h0M825.2,294.0h0M825.5,294.9h0M825.8,293.7h0M826.0,293.4h0M826.3,292.7h0M826.6,292.5h0M826.8,294.5h0M827.1,294.6h0M827.4,293.7h0M827.6,293.4h0M827.9,292.2h0M828.2,292.0h0M828.5,293.8h0M828.7,292.6h0M829.0,291.9h0M829.3,294.0h0M829.5,293.7h0M829.8,295.1h0M830.1,293.8h0M830.4,294.6h0M830.6,294.3h0M830.9,292.4h0M831.2,293.5h0M831.4,293.7h0M831.7,293.2h0M832.0,293.3h0M832.2,292.2h0M832.5,292.5h0M832.8,293.8h0M833.1,291.3h0M833.3,292.1h0M833.6,290.9h0M833.9,292.5h0M834.1,292.9h0M834.4,293.1h0M834.7,292.7h0M835.0,292.6h0M835.2,293.3h0M835.5,293.0h0M835.8,296.2h0M836.0,294.6h0M836.3,294.3h0M836.6,293.8h0M836.8,293.4h0M837.1,292.1h0M837.4,293.8h0M837.7,291.9h0M837.9,293.9h0M838.2,294.0h0M838.5,295.6h0M838.7,294.2h0M839.0,293.8h0M839.3,294.0h0M839.6,292.5h0M839.8,293.3h0M840.1,292.3h0M840.4,294.7h0M840.6,295.0h0M840.9,292.4h0M841.2,293.7h0M841.4,292.9h0M841.7,293.5h0M842.0,294.2h0M842.3,292.0h0M842.5,290.4h0M842.8,294.2h0M843.1,292.1h0M843.3,292.6h0M843.6,292.4h0M843.9,292.5h0M844.2,294.8h0M844.4,292.9h0M844.7,293.6h0M845.0,293.4h0M845.2,294.2h0M845.5,293.5h0M845.8,294.5h0M846.0,293.3h0M846.3,294.6h0M846.6,293.6h0M846.9,293.7h0M847.1,293.0h0M847.4,292.0h0M847.7,293.1h0M847.9,292.9h0M848.2,292.8h0M848.5,293.6h0M848.8,292.2h0M849.0,292.5h0M849.3,295.1h0M849.6,293.3h0M849.8,293.3h0M850.1,294.3h0M850.4,292.4h0M850.6,293.1h0M850.9,293.6h0M851.2,293.2h0M851.5,293.8h0M851.7,292.3h0M852.0,293.2h0M852.3,291.7h0M852.5,291.2h0M852.8,291.3h0M853.1,292.4h0M853.4,292.1h0M853.6,291.9h0M853.9,289.5h0M854.2,290.9h0M854.4,292.3h0M854.7,290.3h0M855.0,293.7h0M855.2,294.2h0M855.5,292.3h0M855.8,292.3h0M856.1,292.1h0M856.3,293.0h0M856.6,292.2h0M856.9,292.7h0M857.1,292.9h0M857.4,292.4h0M857.7,293.3h0M858.0,294.1h0M858.2,294.1h0M858.5,293.6h0M858.8,292.4h0M859.0,292.7h0M859.3,293.6h0M859.6,292.1h0M859.8,294.1h0M860.1,292.1h0M860.4,291.8h0M860.7,291.6h0M860.9,293.4h0M861.2,292.2h0M861.5,294.3h0M861.7,292.4h0M862.0,290.3h0M862.3,293.0h0M862.6,290.8h0M862.8,293.2h0M863.1,291.1h0M863.4,293.0h0M863.6,292.5h0M863.9,293.2h0M864.2,292.4h0M864.4,293.9h0M864.7,293.4h0M865.0,292.2h0M865.3,292.3h0M865.5,293.8h0M865.8,291.0h0M866.1,293.0h0M866.3,292.9h0M866.6,294.5h0M866.9,291.9h0M867.2,293.2h0M867.4,291.6h0M867.7,291.1h0M868.0,293.6h0M868.2,293.0h0M868.5,292.2h0M868.8,292.0h0M869.0,294.2h0M869.3,292.6h0M869.6,293.1h0M869.9,291.3h0M870.1,292.3h0M870.4,291.8h0M870.7,291.7h0M870.9,292.4h0M871.2,293.5h0M871.5,292.4h0M871.8,292.7h0M872.0,292.3h0M872.3,291.9h0M872.6,290.9h0M872.8,292.7h0M873.1,291.0h0M873.4,292.0h0M873.6,293.7h0M873.9,292.1h0M874.2,292.3h0M874.5,297.0h0M874.7,292.6h0M875.0,294.0h0M875.3,292.8h0M875.5,292.8h0M875.8,292.8h0M876.1,292.6h0M876.4,291.1h0M876.6,290.9h0M876.9,291.9h0M877.2,294.7h0M877.4,292.6h0M877.7,292.2h0M878.0,293.4h0M878.2,292.6h0M878.5,289.7h0M878.8,290.7h0M879.1,292.4h0M879.3,292.9h0M879.6,291.8h0M879.9,290.9h0M880.1,291.8h0M880.4,292.9h0M880.7,291.0h0M880.9,291.4h0M881.2,291.4h0M881.5,291.2h0M881.8,292.3h0M882.0,293.3h0M882.3,289.8h0M882.6,291.3h0M882.8,291.9h0M883.1,290.1h0M883.4,290.6h0M883.7,290.8h0M883.9,291.2h0M884.2,290.4h0M884.5,291.5h0M884.7,290.9h0M885.0,291.6h0M885.3,291.6h0M885.5,290.2h0M885.8,290.8h0M886.1,289.7h0M886.4,290.8h0M886.6,291.8h0M886.9,291.7h0M887.2,289.0h0M887.4,290.7h0M887.7,290.8h0M888.0,290.6h0M888.3,291.9h0M888.5,291.0h0M888.8,289.9h0M889.1,291.4h0M889.3,293.7h0M889.6,290.4h0M889.9,292.2h0M890.1,290.0h0M890.4,291.0h0M890.7,289.3h0M891.0,289.7h0M891.2,291.8h0M891.5,292.6h0M891.8,292.9h0M892.0,292.3h0M892.3,290.9h0M892.6,293.6h0M892.9,290.6h0M893.1,291.3h0M893.4,291.2h0M893.7,291.8h0M893.9,290.4h0M894.2,291.4h0M894.5,291.1h0M894.7,289.9h0M895.0,292.9h0M895.3,292.0h0M895.6,290.7h0M895.8,292.3h0M896.1,291.3h0M896.4,291.1h0M896.6,291.6h0M896.9,291.7h0M897.2,290.0h0M897.5,291.0h0M897.7,291.7h0M898.0,291.5h0M898.3,291.7h0M898.5,291.8h0M898.8,292.0h0M899.1,290.5h0M899.3,290.6h0M899.6,288.7h0M899.9,290.7h0M900.2,292.7h0M900.4,290.1h0M900.7,290.8h0M901.0,291.5h0M901.2,293.0h0M901.5,289.3h0M901.8,290.8h0M902.1,291.3h0M902.3,289.4h0M902.6,289.7h0M902.9,288.4h0M903.1,291.8h0M903.4,289.6h0M903.7,290.8h0M903.9,291.1h0M904.2,290.2h0M904.5,290.3h0M904.8,290.4h0M905.0,287.4h0M905.3,291.7h0M905.6,289.8h0M905.8,292.2h0M906.1,290.1h0M906.4,289.9h0M906.7,289.0h0M906.9,289.8h0M907.2,290.4h0M907.5,291.9h0M907.7,290.7h0M908.0,289.6h0M908.3,290.7h0M908.5,289.7h0M908.8,291.6h0M909.1,290.3h0M909.4,290.0h0M909.6,291.0h0M909.9,291.3h0M910.2,291.9h0M910.4,290.3h0M910.7,289.9h0M911.0,290.4h0M911.3,289.4h0M911.5,290.4h0M911.8,290.7h0M912.1,290.9h0M912.3,290.0h0M912.6,290.3h0M912.9,291.2h0M913.1,289.1h0M913.4,290.3h0M913.7,289.6h0M914.0,290.1h0M914.2,287.5h0M914.5,289.8h0M914.8,289.2h0M915.0,289.4h0M915.3,288.1h0M915.6,289.5h0M915.9,291.0h0M916.1,289.4h0M916.4,289.4h0M916.7,288.3h0M916.9,288.4h0M917.2,288.3h0M917.5,291.2h0M917.7,291.8h0M918.0,290.7h0M918.3,291.6h0M918.6,289.3h0M918.8,289.5h0M919.1,290.7h0M919.4,290.7h0M919.6,290.0h0M919.9,289.9h0M920.2,290.2h0M920.5,290.0h0M920.7,291.3h0M921.0,290.8h0M921.3,288.8h0M921.5,290.7h0M921.8,291.4h0M922.1,292.6h0M922.3,290.5h0M922.6,290.3h0M922.9,290.0h0M923.2,288.5h0M923.4,290.2h0M923.7,289.7h0M924.0,290.8h0M924.2,289.3h0M924.5,290.6h0M924.8,289.3h0M925.1,289.1h0M925.3,288.6h0M925.6,287.2h0M925.9,292.9h0M926.1,288.2h0M926.4,290.9h0M926.7,293.0h0M926.9,291.0h0M927.2,290.9h0M927.5,288.8h0M927.8,290.6h0M928.0,289.2h0M928.3,288.7h0M928.6,289.3h0M928.8,288.8h0M929.1,292.4h0M929.4,290.3h0M929.7,290.2h0M929.9,288.6h0M930.2,289.4h0M930.5,289.6h0M930.7,288.5h0M931.0,287.7h0M931.3,289.7h0M931.5,288.1h0M931.8,288.0h0M932.1,288.8h0M932.4,289.4h0M932.6,290.6h0M932.9,290.5h0M933.2,291.3h0M933.4,291.1h0M933.7,289.6h0M934.0,289.8h0M934.3,286.7h0M934.5,289.9h0M934.8,288.8h0M935.1,290.0h0M935.3,288.9h0M935.6,290.9h0M935.9,288.8h0M936.1,289.8h0M936.4,290.0h0M936.7,288.9h0M937.0,287.7h0M937.2,290.3h0M937.5,290.0h0M937.8,289.7h0M938.0,289.6h0M938.3,290.6h0M938.6,289.6h0M938.9,289.4h0M939.1,289.4h0M939.4,288.6h0M939.7,289.3h0M939.9,289.6h0M940.2,287.0h0M940.5,287.5h0M940.7,289.0h0M941.0,288.9h0M941.3,287.4h0M941.6,288.7h0M941.8,288.9h0M942.1,288.7h0M942.4,288.3h0M942.6,287.9h0M942.9,288.7h0M943.2,287.2h0M943.5,288.1h0M943.7,288.9h0M944.0,288.5h0M944.3,289.4h0M944.5,288.4h0M944.8,287.3h0M945.1,288.9h0M945.3,288.1h0M945.6,288.5h0M945.9,290.0h0M946.2,294.2h0M946.4,287.6h0M946.7,289.6h0M947.0,287.8h0M947.2,287.7h0M947.5,287.9h0M947.8,290.6h0M948.1,288.4h0M948.3,288.8h0M948.6,288.4h0M948.9,288.8h0M949.1,290.3h0M949.4,289.5h0M949.7,289.8h0M949.9,288.1h0M950.2,289.7h0M950.5,288.8h0M950.8,289.4h0M951.0,290.3h0M951.3,288.4h0M951.6,290.1h0M951.8,289.6h0M952.1,287.8h0M952.4,288.8h0M952.7,287.4h0M952.9,288.1h0M953.2,289.1h0M953.5,289.5h0M953.7,288.3h0M954.0,289.1h0M954.3,289.6h0M954.5,288.8h0M954.8,288.7h0M955.1,289.0h0M955.4,288.5h0M955.6,286.8h0M955.9,287.0h0M956.2,287.8h0M956.4,289.0h0M956.7,287.2h0M957.0,287.6h0M957.3,289.3h0M957.5,289.5h0M957.8,290.3h0M958.1,287.8h0M958.3,287.8h0M958.6,289.0h0M958.9,287.9h0M959.1,288.5h0M959.4,288.2h0M959.7,289.0h0M960.0,287.3h0M960.2,288.4h0M960.5,287.4h0M960.8,289.6h0M961.0,288.6h0M961.3,287.9h0M961.6,287.1h0M961.9,288.1h0M962.1,288.3h0M962.4,288.0h0M962.7,290.6h0M962.9,288.8h0M963.2,287.3h0M963.5,290.9h0M963.7,288.7h0M964.0,288.8h0M964.3,288.9h0M964.6,288.5h0M964.8,288.8h0M965.1,288.5h0M965.4,288.8h0M965.6,287.2h0M965.9,291.1h0M966.2,287.5h0M966.5,288.2h0M966.7,288.2h0M967.0,287.2h0M967.3,288.8h0M967.5,288.3h0M967.8,288.1h0M968.1,288.0h0M968.3,288.6h0M968.6,289.8h0M968.9,290.3h0M969.2,289.2h0M969.4,288.9h0M969.7,289.1h0M970.0,288.7h0M970.2,289.7h0M970.5,289.0h0M970.8,287.8h0M971.1,290.1h0M971.3,289.1h0M971.6,289.4h0M971.9,287.2h0M972.1,291.3h0M972.4,286.9h0M972.7,287.7h0M972.9,291.5h0M973.2,285.7h0M973.5,289.1h0M973.8,287.6h0M974.0,287.8h0M974.3,290.2h0M974.6,288.6h0M974.8,289.2h0M975.1,289.2h0M975.4,289.7h0M975.7,287.0h0M975.9,287.9h0M976.2,288.3h0M976.5,288.8h0M976.7,287.7h0M977.0,287.5h0M977.3,288.3h0M977.5,289.4h0M977.8,288.3h0M978.1,288.7h0M978.4,288.9h0M978.6,287.2h0M978.9,291.7h0M979.2,289.4h0M979.4,289.6h0M979.7,289.2h0M980.0,288.0h0M980.3,289.8h0M980.5,289.7h0M980.8,291.3h0M981.1,287.3h0M981.3,288.3h0M981.6,288.3h0M981.9,289.0h0M982.1,289.4h0M982.4,287.4h0M982.7,287.2h0M983.0,288.6h0M983.2,287.3h0M983.5,288.2h0M983.8,290.4h0M984.0,288.4h0M984.3,289.0h0M984.6,288.8h0M984.9,289.6h0M985.1,289.0h0M985.4,287.7h0M985.7,287.3h0M985.9,288.8h0M986.2,288.7h0M986.5,287.9h0M986.7,289.8h0M987.0,287.1h0M987.3,289.7h0M987.6,289.0h0M987.8,290.7h0M988.1,288.9h0M988.4,289.2h0M988.6,287.1h0M988.9,289.5h0M989.2,287.5h0M989.5,287.4h0M989.7,287.0h0M990.0,286.8h0M990.3,287.3h0M990.5,288.7h0M990.8,287.5h0M991.1,288.0h0M991.3,287.7h0M991.6,286.7h0M991.9,289.2h0M992.2,286.6h0M992.4,288.6h0M992.7,287.3h0M993.0,286.9h0M993.2,286.4h0M993.5,287.4h0M993.8,288.6h0M994.1,288.7h0M994.3,289.0h0M994.6,287.7h0M994.9,291.2h0M995.1,287.0h0M995.4,288.3h0M995.7,287.9h0M995.9,287.2h0M996.2,289.8h0M996.5,287.0h0M996.8,287.3h0M997.0,285.4h0M997.3,288.3h0M997.6,289.2h0M997.8,287.0h0M998.1,287.0h0M998.4,286.6h0M998.7,287.3h0M998.9,285.6h0M999.2,288.1h0M999.5,285.6h0M999.7,287.7h0M1000.0,287.9h0M1000.3,286.5h0M1000.5,287.4h0M1000.8,286.9h0M1001.1,289.9h0M1001.4,284.9h0M1001.6,288.3h0M1001.9,287.5h0M1002.2,287.1h0M1002.4,286.6h0M1002.7,287.3h0M1003.0,286.6h0M1003.2,285.5h0M1003.5,289.3h0M1003.8,287.5h0M1004.1,289.1h0M1004.3,285.1h0M1004.6,287.1h0M1004.9,286.2h0M1005.1,288.3h0M1005.4,288.1h0M1005.7,288.4h0M1006.0,288.8h0M1006.2,287.5h0M1006.5,287.7h0M1006.8,287.3h0M1007.0,289.7h0M1007.3,287.5h0M1007.6,287.9h0M1007.8,287.5h0M1008.1,287.6h0M1008.4,287.8h0M1008.7,295.2h0M1008.9,286.6h0M1009.2,287.3h0M1009.5,287.4h0M1009.7,286.9h0M1010.0,287.4h0M1010.3,286.8h0M1010.6,287.8h0M1010.8,287.2h0M1011.1,290.2h0M1011.4,286.2h0M1011.6,290.5h0M1011.9,287.8h0M1012.2,287.9h0M1012.4,287.5h0M1012.7,286.4h0M1013.0,286.7h0M1013.3,287.8h0M1013.5,287.7h0M1013.8,287.5h0M1014.1,290.1h0M1014.3,286.4h0M1014.6,286.4h0M1014.9,285.5h0M1015.2,286.7h0M1015.4,285.9h0M1015.7,288.7h0M1016.0,287.0h0M1016.2,287.1h0M1016.5,286.2h0M1016.8,286.7h0M1017.0,292.3h0M1017.3,286.8h0M1017.6,287.3h0M1017.9,287.2h0M1018.1,287.2h0M1018.4,287.2h0M1018.7,287.8h0M1018.9,286.9h0M1019.2,287.8h0M1019.5,286.3h0M1019.8,286.9h0M1020.0,287.1h0M1020.3,288.0h0M1020.6,284.8h0M1020.8,284.7h0M1021.1,286.5h0M1021.4,285.6h0M1021.6,284.7h0M1021.9,285.9h0M1022.2,290.1h0M1022.5,288.0h0M1022.7,286.8h0M1023.0,286.6h0M1023.3,285.5h0M1023.5,285.9h0M1023.8,286.2h0M1024.1,286.0h0M1024.4,287.0h0M1024.6,285.9h0M1024.9,286.8h0M1025.2,285.9h0M1025.4,288.1h0M1025.7,286.3h0M1026.0,286.2h0M1026.2,288.1h0M1026.5,286.6h0M1026.8,287.4h0M1027.1,288.6h0M1027.3,286.9h0M1027.6,286.8h0M1027.9,287.9h0M1028.1,285.8h0M1028.4,286.1h0M1028.7,287.5h0M1029.0,285.5h0M1029.2,287.3h0M1029.5,288.8h0M1029.8,287.3h0M1030.0,291.3h0M1030.3,286.7h0M1030.6,287.3h0M1030.8,287.6h0M1031.1,287.0h0M1031.4,286.4h0M1031.7,287.5h0M1031.9,286.4h0M1032.2,287.1h0M1032.5,285.7h0M1032.7,286.3h0M1033.0,291.2h0M1033.3,287.6h0M1033.6,287.4h0M1033.8,287.0h0M1034.1,285.9h0M1034.4,287.5h0M1034.6,286.3h0M1034.9,286.1h0M1035.2,287.9h0M1035.4,286.9h0M1035.7,288.1h0M1036.0,284.3h0M1036.3,286.9h0M1036.5,285.1h0M1036.8,286.2h0M1037.1,286.2h0M1037.3,286.3h0M1037.6,285.4h0M1037.9,287.1h0M1038.2,285.2h0M1038.4,284.3h0M1038.7,285.5h0M1039.0,286.8h0M1039.2,287.4h0M1039.5,285.7h0M1039.8,287.6h0M1040.0,285.5h0M1040.3,285.6h0M1040.6,285.7h0M1040.9,285.3h0M1041.1,287.6h0M1041.4,285.6h0M1041.7,287.2h0M1041.9,286.4h0M1042.2,286.3h0M1042.5,289.2h0M1042.8,286.7h0M1043.0,286.3h0M1043.3,288.3h0M1043.6,284.7h0M1043.8,288.0h0M1044.1,287.4h0M1044.4,286.8h0M1044.6,286.1h0M1044.9,286.8h0M1045.2,285.3h0M1045.5,285.7h0M1045.7,286.6h0M1046.0,287.0h0M1046.3,285.4h0M1046.5,285.6h0M1046.8,287.1h0M1047.1,284.9h0M1047.4,287.1h0M1047.6,286.9h0M1047.9,286.8h0M1048.2,286.6h0M1048.4,286.0h0M1048.7,286.9h0M1049.0,285.1h0M1049.2,286.0h0M1049.5,286.4h0M1049.8,285.2h0M1050.1,286.6h0M1050.3,286.5h0M1050.6,285.9h0M1050.9,286.6h0M1051.1,286.6h0M1051.4,286.2h0M1051.7,287.0h0M1052.0,287.3h0M1052.2,285.8h0M1052.5,287.2h0M1052.8,285.3h0M1053.0,287.5h0M1053.3,286.4h0M1053.6,288.6h0M1053.8,286.5h0M1054.1,285.6h0M1054.4,286.4h0M1054.7,286.5h0M1054.9,287.3h0M1055.2,287.7h0M1055.5,286.0h0M1055.7,286.1h0M1056.0,286.5h0M1056.3,286.2h0M1056.6,285.8h0M1056.8,287.1h0M1057.1,286.2h0M1057.4,286.1h0M1057.6,285.4h0M1057.9,287.9h0M1058.2,286.9h0M1058.4,285.7h0M1058.7,285.8h0M1059.0,289.0h0M1059.3,285.8h0M1059.5,286.5h0M1059.8,286.1h0M1060.1,285.0h0M1060.3,285.9h0M1060.6,286.3h0M1060.9,285.3h0M1061.2,289.0h0M1061.4,284.7h0M1061.7,285.6h0M1062.0,286.8h0M1062.2,284.4h0M1062.5,285.2h0M1062.8,286.6h0M1063.0,285.0h0M1063.3,285.3h0M1063.6,285.4h0M1063.9,286.8h0M1064.1,285.6h0M1064.4,284.9h0M1064.7,284.4h0M1064.9,287.4h0M1065.2,285.3h0M1065.5,285.4h0M1065.8,285.5h0M1066.0,285.6h0M1066.3,286.5h0M1066.6,288.2h0M1066.8,288.1h0M1067.1,286.4h0M1067.4,285.9h0M1067.6,286.2h0M1067.9,283.9h0M1068.2,285.7h0M1068.5,286.7h0M1068.7,287.5h0M1069.0,285.6h0M1069.3,285.3h0M1069.5,284.8h0M1069.8,285.8h0M1070.1,285.5h0M1070.4,286.4h0M1070.6,285.5h0M1070.9,287.1h0M1071.2,285.9h0M1071.4,286.2h0M1071.7,284.5h0M1072.0,285.9h0M1072.2,287.4h0M1072.5,287.8h0M1072.8,285.5h0M1073.1,285.6h0M1073.3,286.4h0M1073.6,286.1h0M1073.9,284.7h0M1074.1,285.8h0M1074.4,288.0h0M1074.7,286.6h0M1075.0,286.2h0M1075.2,286.7h0M1075.5,285.9h0M1075.8,285.6h0M1076.0,285.5h0M1076.3,286.2h0M1076.6,286.1h0M1076.8,286.0h0M1077.1,284.7h0M1077.4,285.9h0M1077.7,287.9h0M1077.9,284.3h0M1078.2,284.8h0M1078.5,284.7h0M1078.7,285.3h0M1079.0,284.6h0M1079.3,284.7h0M1079.6,284.2h0M1079.8,284.3h0M1080.1,285.6h0M1080.4,285.7h0M1080.6,285.1h0M1080.9,284.8h0M1081.2,285.2h0M1081.4,285.9h0M1081.7,285.4h0M1082.0,285.2h0M1082.3,286.5h0M1082.5,286.8h0M1082.8,285.0h0M1083.1,285.2h0M1083.3,285.1h0M1083.6,288.7h0M1083.9,284.7h0M1084.2,286.5h0M1084.4,286.3h0M1084.7,284.3h0M1085.0,284.9h0M1085.2,285.8h0M1085.5,287.2h0M1085.8,286.4h0M1086.0,285.6h0M1086.3,284.7h0M1086.6,284.4h0M1086.9,286.1h0M1087.1,285.2h0M1087.4,286.2h0M1087.7,284.0h0M1087.9,285.6h0M1088.2,287.5h0M1088.5,285.2h0M1088.8,284.8h0M1089.0,287.5h0M1089.3,288.1h0M1089.6,283.7h0M1089.8,286.2h0M1090.1,287.2h0M1090.4,288.2h0M1090.6,285.2h0M1090.9,285.6h0M1091.2,285.4h0M1091.5,287.6h0M1091.7,286.0h0M1092.0,286.7h0M1092.3,285.0h0M1092.5,284.8h0M1092.8,285.3h0M1093.1,285.8h0M1093.4,286.0h0M1093.6,285.4h0M1093.9,284.0h0M1094.2,285.5h0M1094.4,285.4h0M1094.7,284.0h0M1095.0,284.8h0M1095.2,285.1h0M1095.5,286.6h0M1095.8,284.4h0M1096.1,286.0h0M1096.3,286.7h0M1096.6,285.9h0M1096.9,285.9h0M1097.1,285.3h0M1097.4,285.0h0M1097.7,284.2h0M1098.0,285.6h0M1098.2,284.4h0M1098.5,285.4h0M1098.8,285.4h0M1099.0,285.3h0M1099.3,284.9h0M1099.6,285.7h0M1099.8,286.2h0M1100.1,284.3h0M1100.4,285.2h0M1100.7,285.1h0M1100.9,285.7h0M1101.2,283.6h0M1101.5,286.4h0M1101.7,284.8h0M1102.0,284.9h0M1102.3,285.6h0M1102.6,284.7h0M1102.8,285.7h0M1103.1,286.2h0M1103.4,284.9h0M1103.6,286.4h0M1103.9,285.4h0M1104.2,285.3h0M1104.4,285.5h0M1104.7,287.2h0M1105.0,286.2h0M1105.3,285.9h0M1105.5,285.7h0M1105.8,287.6h0M1106.1,285.7h0M1106.3,285.6h0M1106.6,286.2h0M1106.9,284.1h0M1107.2,287.0h0M1107.4,284.3h0M1107.7,284.9h0M1108.0,284.9h0M1108.2,285.5h0M1108.5,286.3h0M1108.8,285.0h0M1109.0,284.8h0M1109.3,285.3h0M1109.6,284.8h0M1109.9,285.4h0M1110.1,285.6h0M1110.4,284.3h0M1110.7,287.1h0M1110.9,284.6h0M1111.2,284.0h0M1111.5,284.8h0M1111.8,283.2h0M1112.0,285.1h0M1112.3,285.2h0M1112.6,283.9h0M1112.8,283.3h0M1113.1,285.5h0M1113.4,284.7h0M1113.6,284.0h0M1113.9,286.3h0M1114.2,285.6h0M1114.5,286.4h0M1114.7,285.5h0M1115.0,284.2h0M1115.3,282.8h0M1115.5,286.5h0M1115.8,285.1h0M1116.1,285.5h0M1116.4,287.3h0M1116.6,286.9h0M1116.9,286.2h0M1117.2,285.3h0M1117.4,285.8h0M1117.7,285.5h0M1118.0,285.7h0M1118.2,285.1h0M1118.5,286.1h0M1118.8,286.2h0M1119.1,287.9h0M1119.3,286.1h0M1119.6,288.7h0M1119.9,285.6h0M1120.1,286.0h0M1120.4,284.9h0M1120.7,285.3h0M1121.0,284.2h0M1121.2,285.2h0M1121.5,285.2h0M1121.8,284.9h0M1122.0,284.3h0M1122.3,283.2h0M1122.6,284.3h0M1122.8,284.2h0M1123.1,287.0h0M1123.4,285.6h0M1123.7,285.6h0M1123.9,285.3h0M1124.2,283.7h0M1124.5,286.0h0M1124.7,290.0h0M1125.0,285.7h0M1125.3,288.1h0M1125.5,284.1h0M1125.8,284.2h0M1126.1,285.8h0M1126.4,286.1h0M1126.6,283.3h0M1126.9,286.1h0M1127.2,285.8h0M1127.4,286.1h0M1127.7,285.8h0M1128.0,284.6h0M1128.3,285.0h0M1128.5,287.9h0M1128.8,284.2h0M1129.1,286.6h0M1129.3,285.5h0M1129.6,286.0h0M1129.9,285.4h0M1130.1,288.8h0M1130.4,284.4h0M1130.7,286.4h0M1131.0,284.9h0M1131.2,284.8h0M1131.5,282.8h0M1131.8,287.8h0M1132.0,286.4h0M1132.3,283.7h0M1132.6,286.0h0M1132.9,286.2h0M1133.1,286.0h0M1133.4,285.0h0M1133.7,286.2h0M1133.9,286.2h0M1134.2,286.1h0M1134.5,285.0h0M1134.7,286.9h0M1135.0,285.3h0M1135.3,286.2h0M1135.6,285.4h0M1135.8,284.7h0M1136.1,285.8h0M1136.4,282.8h0M1136.6,284.1h0M1136.9,284.4h0M1137.2,285.1h0M1137.5,284.1h0M1137.7,285.3h0M1138.0,284.5h0M1138.3,284.4h0M1138.5,285.3h0M1138.8,283.7h0M1139.1,284.3h0M1139.3,286.4h0M1139.6,284.8h0M1139.9,285.0h0M1140.2,284.1h0M1140.4,285.5h0M1140.7,284.6h0M1141.0,286.3h0M1141.2,284.9h0M1141.5,285.8h0M1141.8,286.7h0M1142.1,285.0h0M1142.3,285.4h0M1142.6,286.1h0M1142.9,286.0h0M1143.1,283.6h0M1143.4,284.4h0M1143.7,284.2h0M1143.9,284.3h0M1144.2,284.4h0M1144.5,283.9h0M1144.8,285.8h0M1145.0,283.1h0M1145.3,284.7h0M1145.6,285.1h0M1145.8,284.2h0M1146.1,288.5h0M1146.4,285.7h0M1146.7,283.0h0M1146.9,285.3h0M1147.2,285.4h0M1147.5,284.4h0M1147.7,285.5h0M1148.0,286.9h0M1148.3,283.3h0M1148.5,284.9h0M1148.8,284.3h0M1149.1,285.8h0M1149.4,286.3h0M1149.6,284.8h0M1149.9,285.1h0M1150.2,284.3h0M1150.4,284.8h0M1150.7,283.2h0M1151.0,285.0h0M1151.3,284.7h0M1151.5,284.1h0M1151.8,284.5h0M1152.1,284.7h0M1152.3,284.8h0M1152.6,285.6h0M1152.9,284.1h0M1153.1,285.5h0M1153.4,285.9h0M1153.7,284.6h0M1154.0,284.6h0M1154.2,286.3h0M1154.5,283.1h0M1154.8,286.6h0M1155.0,286.9h0M1155.3,285.3h0M1155.6,286.2h0M1155.9,284.8h0M1156.1,284.7h0M1156.4,284.3h0M1156.7,284.3h0M1156.9,286.3h0M1157.2,286.7h0M1157.5,285.5h0M1157.7,285.8h0M1158.0,285.1h0M1158.3,285.2h0M1158.6,285.3h0M1158.8,286.7h0M1159.1,286.7h0M1159.4,283.1h0M1159.6,284.7h0M1159.9,287.0h0M1160.2,287.3h0M1160.5,284.5h0M1160.7,284.7h0M1161.0,283.3h0M1161.3,286.0h0M1161.5,284.5h0M1161.8,285.3h0M1162.1,286.4h0M1162.3,287.0h0M1162.6,285.2h0M1162.9,285.0h0M1163.2,285.3h0M1163.4,284.9h0M1163.7,287.8h0M1164.0,285.6h0M1164.2,284.8h0M1164.5,285.5h0M1164.8,284.3h0M1165.1,285.2h0M1165.3,284.6h0M1165.6,286.3h0M1165.9,283.9h0M1166.1,285.3h0M1166.4,287.2h0M1166.7,285.5h0M1166.9,284.3h0M1167.2,284.4h0M1167.5,287.4h0M1167.8,285.3h0M1168.0,284.6h0M1168.3,283.6h0M1168.6,283.8h0M1168.8,283.9h0M1169.1,284.0h0M1169.4,284.2h0M1169.7,284.9h0M1169.9,287.7h0M1170.2,285.7h0M1170.5,285.0h0M1170.7,284.1h0M1171.0,284.8h0M1171.3,286.2h0M1171.5,285.9h0M1171.8,285.0h0M1172.1,284.1h0M1172.4,285.4h0M1172.6,284.2h0M1172.9,283.1h0M1173.2,286.9h0M1173.4,287.6h0M1173.7,284.3h0M1174.0,284.1h0M1174.3,283.8h0M1174.5,283.6h0M1174.8,286.2h0M1175.1,284.5h0M1175.3,286.0h0M1175.6,284.4h0M1175.9,284.8h0M1176.1,283.3h0M1176.4,285.6h0M1176.7,283.9h0M1177.0,285.3h0M1177.2,283.9h0M1177.5,283.5h0M1177.8,283.6h0M1178.0,284.0h0M1178.3,284.0h0M1178.6,285.8h0M1178.9,285.1h0M1179.1,284.4h0M1179.4,284.5h0M1179.7,285.4h0M1179.9,283.7h0M1180.2,283.0h0M1180.5,291.1h0M1180.7,286.8h0M1181.0,283.5h0M1181.3,284.0h0M1181.6,286.8h0M1181.8,282.6h0M1182.1,285.0h0M1182.4,284.5h0M1182.6,287.2h0M1182.9,284.8h0M1183.2,285.8h0M1183.5,284.2h0M1183.7,284.5h0M1184.0,285.1h0M1184.3,284.6h0M1184.5,284.9h0M1184.8,284.6h0M1185.1,286.1h0M1185.3,284.8h0M1185.6,285.8h0M1185.9,284.6h0M1186.2,284.4h0M1186.4,286.6h0M1186.7,283.7h0M1187.0,287.5h0M1187.2,286.2h0M1187.5,284.7h0M1187.8,283.8h0M1188.1,285.5h0M1188.3,285.2h0M1188.6,285.3h0M1188.9,284.6h0M1189.1,284.6h0M1189.4,284.0h0M1189.7,282.8h0M1189.9,284.3h0M1190.2,284.3h0M1190.5,283.5h0M1190.8,283.9h0M1191.0,283.9h0M1191.3,286.3h0M1191.6,284.4h0M1191.8,282.8h0M1192.1,284.8h0M1192.4,284.3h0M1192.7,284.4h0M1192.9,283.6h0M1193.2,283.1h0M1193.5,285.4h0M1193.7,285.7h0M1194.0,284.9h0M1194.3,284.4h0M1194.5,287.1h0M1194.8,287.8h0M1195.1,284.6h0M1195.4,285.4h0M1195.6,282.9h0M1195.9,285.5h0M1196.2,284.1h0M1196.4,283.6h0M1196.7,284.8h0M1197.0,284.5h0M1197.3,284.4h0M1197.5,285.5h0M1197.8,286.2h0M1198.1,285.4h0M1198.3,285.9h0M1198.6,286.7h0M1198.9,284.5h0M1199.1,287.0h0M1199.4,286.5h0M1199.7,285.9h0M1200.0,283.5h0M1200.2,283.9h0M1200.5,284.7h0M1200.8,283.5h0M1201.0,283.3h0M1201.3,283.7h0M1201.6,286.1h0M1201.9,287.2h0M1202.1,285.5h0M1202.4,282.8h0M1202.7,283.4h0M1202.9,284.7h0M1203.2,285.5h0M1203.5,284.9h0M1203.7,284.9h0M1204.0,284.8h0M1204.3,284.2h0M1204.6,284.2h0M1204.8,285.8h0M1205.1,284.5h0M1205.4,284.3h0M1205.6,286.2h0M1205.9,287.5h0M1206.2,283.8h0M1206.5,284.6h0M1206.7,286.4h0M1207.0,285.4h0M1207.3,283.6h0M1207.5,283.4h0M1207.8,285.3h0M1208.1,287.1h0M1208.3,286.6h0M1208.6,284.1h0M1208.9,283.7h0M1209.2,284.0h0M1209.4,283.6h0M1209.7,285.4h0M1210.0,283.9h0M1210.2,284.5h0M1210.5,283.0h0M1210.8,282.8h0M1211.1,287.6h0M1211.3,284.5h0M1211.6,283.6h0M1211.9,283.8h0M1212.1,284.7h0M1212.4,283.9h0M1212.7,284.3h0M1212.9,284.8h0M1213.2,285.1h0M1213.5,285.5h0M1213.8,284.7h0M1214.0,285.7h0M1214.3,283.9h0M1214.6,285.3h0M1214.8,285.3h0M1215.1,285.8h0M1215.4,284.8h0M1215.7,283.8h0M1215.9,286.3h0M1216.2,284.0h0M1216.5,284.9h0M1216.7,287.6h0M1217.0,285.6h0M1217.3,284.5h0M1217.5,285.6h0M1217.8,282.9h0M1218.1,284.8h0M1218.4,284.2h0M1218.6,283.2h0M1218.9,285.9h0M1219.2,283.8h0M1219.4,286.9h0M1219.7,285.3h0M1220.0,285.9h0M1220.3,283.6h0M1220.5,287.6h0M1220.8,286.5h0M1221.1,285.1h0M1221.3,284.0h0M1221.6,284.2h0M1221.9,284.2h0M1222.1,284.7h0M1222.4,284.8h0M1222.7,287.6h0M1223.0,285.7h0M1223.2,285.1h0M1223.5,283.8h0M1223.8,284.4h0M1224.0,286.2h0M1224.3,284.5h0M1224.6,285.9h0M1224.9,284.8h0M1225.1,283.8h0M1225.4,285.9h0M1225.7,285.4h0M1225.9,284.3h0M1226.2,283.3h0M1226.5,285.5h0M1226.7,284.9h0M1227.0,284.7h0M1227.3,285.9h0M1227.6,284.3h0M1227.8,285.3h0M1228.1,284.4h0M1228.4,286.2h0M1228.6,285.7h0M1228.9,283.8h0M1229.2,285.8h0M1229.5,285.5h0M1229.7,282.6h0M1230.0,283.8h0M1230.3,285.6h0M1230.5,284.8h0M1230.8,284.8h0M1231.1,286.2h0M1231.3,284.4h0M1231.6,288.2h0M1231.9,285.2h0M1232.2,284.7h0M1232.4,282.5h0M1232.7,284.7h0M1233.0,286.5h0M1233.2,285.0h0M1233.5,285.1h0M1233.8,283.2h0M1234.1,284.9h0M1234.3,283.4h0M1234.6,286.1h0M1234.9,286.5h0M1235.1,283.5h0M1235.4,284.7h0M1235.7,287.1h0M1235.9,284.3h0M1236.2,284.1h0M1236.5,284.2h0M1236.8,284.2h0M1237.0,284.4h0M1237.3,286.2h0M1237.6,285.7h0M1237.8,284.7h0M1238.1,282.1h0M1238.4,284.5h0M1238.7,284.7h0M1238.9,284.8h0M1239.2,283.7h0M1239.5,285.1h0M1239.7,283.1h0M1240.0,286.3h0M1240.3,284.2h0M1240.5,284.6h0M1240.8,282.8h0M1241.1,285.0h0M1241.4,283.9h0M1241.6,283.8h0M1241.9,286.0h0M1242.2,284.9h0M1242.4,285.9h0M1242.7,285.0h0M1243.0,285.0h0M1243.3,286.0h0M1243.5,285.1h0M1243.8,283.1h0M1244.1,285.6h0M1244.3,285.0h0M1244.6,284.2h0M1244.9,283.8h0M1245.1,284.4h0M1245.4,284.9h0M1245.7,285.4h0M1246.0,284.5h0M1246.2,284.5h0M1246.5,284.3h0M1246.8,289.4h0M1247.0,283.4h0M1247.3,283.9h0M1247.6,282.8h0M1247.8,285.0h0M1248.1,284.6h0M1248.4,284.5h0M1248.7,284.2h0M1248.9,284.2h0M1249.2,286.6h0M1249.5,282.1h0M1249.7,285.7h0M1250.0,287.8h0M1250.3,288.1h0M1250.6,284.8h0M1250.8,285.8h0M1251.1,284.9h0M1251.4,288.0h0M1251.6,283.6h0M1251.9,286.2h0M1252.2,285.5h0M1252.4,285.0h0M1252.7,286.4h0M1253.0,285.4h0M1253.3,283.7h0M1253.5,285.6h0M1253.8,285.9h0M1254.1,284.9h0M1254.3,284.9h0M1254.6,283.8h0M1254.9,284.9h0M1255.2,284.8h0M1255.4,284.8h0M1255.7,284.6h0M1256.0,284.6h0M1256.2,283.7h0M1256.5,284.7h0M1256.8,283.8h0M1257.0,285.4h0M1257.3,283.3h0M1257.6,284.2h0M1257.9,282.5h0M1258.1,284.5h0M1258.4,284.3h0M1258.7,284.5h0M1258.9,284.4h0M1259.2,282.7h0M1259.5,284.7h0M1259.8,284.6h0M1260.0,283.1h0M1260.3,283.1h0M1260.6,283.5h0M1260.8,283.4h0M1261.1,284.1h0M1261.4,283.8h0M1261.6,286.0h0M1261.9,285.2h0M1262.2,285.6h0M1262.5,285.0h0M1262.7,285.6h0M1263.0,285.6h0M1263.3,284.8h0M1263.5,282.7h0M1263.8,284.1h0M1264.1,284.4h0M1264.4,285.7h0M1264.6,283.9h0M1264.9,286.1h0M1265.2,283.9h0M1265.4,284.9h0M1265.7,285.0h0M1266.0,285.0h0M1266.2,284.1h0M1266.5,284.6h0M1266.8,287.2h0M1267.1,283.9h0M1267.3,285.7h0M1267.6,287.8h0M1267.9,284.1h0M1268.1,285.2h0M1268.4,284.8h0M1268.7,284.7h0M1269.0,285.1h0M1269.2,284.4h0M1269.5,285.5h0M1269.8,284.9h0M1270.0,285.7h0M1270.3,285.2h0M1270.6,284.2h0M1270.8,283.9h0M1271.1,283.3h0M1271.4,284.7h0M1271.7,284.5h0M1271.9,284.3h0M1272.2,284.1h0M1272.5,285.3h0M1272.7,284.3h0M1273.0,284.3h0M1273.3,283.8h0M1273.6,283.1h0M1273.8,283.6h0M1274.1,283.4h0M1274.4,283.2h0M1274.6,283.7h0M1274.9,286.6h0M1275.2,284.8h0M1275.4,285.4h0M1275.7,283.7h0M1276.0,285.1h0M1276.3,283.8h0M1276.5,284.8h0M1276.8,282.5h0M1277.1,286.5h0M1277.3,284.8h0M1277.6,283.6h0M1277.9,282.7h0M1278.2,284.0h0M1278.4,285.4h0M1278.7,286.5h0M1279.0,283.2h0M1279.2,284.1h0M1279.5,285.1h0M1279.8,284.2h0M1280.0,285.3h0M1280.3,285.2h0M1280.6,285.2h0M1280.9,285.4h0M1281.1,284.2h0M1281.4,284.3h0M1281.7,284.3h0M1281.9,283.4h0M1282.2,284.8h0M1282.5,288.4h0M1282.8,283.6h0M1283.0,290.2h0M1283.3,285.0h0M1283.6,284.6h0M1283.8,284.2h0M1284.1,283.6h0M1284.4,282.2h0M1284.6,283.9h0M1284.9,283.6h0M1285.2,285.1h0M1285.5,284.8h0M1285.7,283.6h0M1286.0,284.8h0M1286.3,285.6h0M1286.5,286.5h0M1286.8,283.5h0M1287.1,283.9h0M1287.4,283.8h0M1287.6,283.7h0M1287.9,284.4h0M1288.2,284.0h0M1288.4,284.5h0M1288.7,282.7h0M1289.0,283.1h0M1289.2,285.1h0M1289.5,283.2h0M1289.8,283.1h0M1290.1,284.3h0M1290.3,282.7h0M1290.6,286.0h0M1290.9,284.8h0M1291.1,284.2h0M1291.4,284.8h0M1291.7,283.5h0M1292.0,284.3h0M1292.2,284.5h0M1292.5,283.8h0M1292.8,283.2h0M1293.0,283.5h0M1293.3,284.4h0M1293.6,284.5h0M1293.8,286.2h0M1294.1,284.2h0M1294.4,285.3h0M1294.7,284.5h0M1294.9,285.0h0M1295.2,284.1h0M1295.5,285.1h0M1295.7,282.9h0M1296.0,285.5h0M1296.3,284.1h0M1296.6,284.1h0M1296.8,284.8h0M1297.1,286.7h0M1297.4,283.7h0M1297.6,283.2h0M1297.9,284.2h0M1298.2,283.4h0M1298.4,283.7h0M1298.7,282.7h0M1299.0,284.6h0M1299.3,283.9h0M1299.5,285.9h0M1299.8,285.4h0M1300.1,281.8h0M1300.3,283.4h0M1300.6,284.7h0M1300.9,282.6h0M1301.2,282.2h0M1301.4,283.9h0M1301.7,284.0h0M1302.0,283.0h0M1302.2,284.6h0M1302.5,282.6h0M1302.8,288.3h0M1303.0,282.0h0M1303.3,286.2h0M1303.6,285.0h0M1303.9,285.2h0M1304.1,284.8h0M1304.4,283.3h0" stroke="#0000ff" stroke-width="3.6" stroke-linecap="round"/>
<g stroke="#bebebe"><line x1="1135.2" y1="638.8" x2="1296.6" y2="638.8" stroke-width="5.0"/><line x1="1135.2" y1="631.7" x2="1135.2" y2="645.9" stroke-width="4.5"/><line x1="1296.6" y1="631.7" x2="1296.6" y2="645.9" stroke-width="4.5"/></g>
<path id="resid" d="M325.20,506.7L325.47,506.6L325.74,506.7L326.01,504.0L326.28,505.0L326.55,507.5L326.82,509.1L327.09,508.7L327.36,507.2L327.63,505.8L327.90,505.0L328.17,505.1L328.44,507.8L328.71,507.7L328.98,507.5L329.25,506.7L329.52,505.0L329.79,505.5L330.06,506.0L330.33,507.0L330.60,507.7L330.87,509.1L331.14,508.4L331.41,505.8L331.68,504.9L331.95,505.1L332.22,508.0L332.49,507.0L332.76,505.6L333.03,507.3L333.30,507.1L333.57,505.1L333.84,506.1L334.11,507.1L334.38,506.7L334.65,508.2L334.92,509.4L335.19,508.0L335.46,504.8L335.73,506.0L336.00,506.7L336.27,504.1L336.54,505.7L336.81,508.8L337.08,508.1L337.35,506.7L337.62,506.9L337.89,508.3L338.16,506.2L338.43,505.1L338.70,504.5L338.97,506.5L339.24,506.4L339.51,507.8L339.78,507.7L340.05,508.2L340.32,506.9L340.59,503.6L340.86,505.0L341.13,507.3L341.40,509.0L341.67,509.0L341.94,504.7L342.21,504.1L342.48,508.7L342.75,508.5L343.02,506.1L343.29,505.5L343.56,505.4L343.83,506.5L344.10,507.0L344.37,507.7L344.64,508.7L344.91,505.6L345.18,506.7L345.45,509.0L345.72,507.9L345.99,506.6L346.26,504.3L346.53,506.6L346.80,509.4L347.07,504.5L347.34,502.4L347.61,505.0L347.88,509.6L348.15,509.3L348.42,507.9L348.69,505.8L348.96,502.5L349.23,506.1L349.50,509.0L349.77,507.5L350.04,507.7L350.31,505.8L350.58,503.0L350.85,506.3L351.12,509.4L351.39,508.5L351.66,508.4L351.93,507.3L352.20,505.6L352.47,506.7L352.74,504.2L353.01,504.9L353.28,508.3L353.55,508.3L353.82,507.2L354.09,509.1L354.36,507.3L354.63,503.4L354.90,504.4L355.17,505.0L355.44,507.4L355.71,509.3L355.98,506.0L356.25,504.3L356.52,509.2L356.79,509.6L357.06,504.5L357.33,506.0L357.60,507.8L357.87,508.7L358.14,506.6L358.41,503.6L358.68,505.9L358.95,508.1L359.22,504.5L359.49,506.1L359.76,510.1L360.03,508.4L360.30,506.5L360.57,507.2L360.84,506.8L361.11,505.0L361.38,506.6L361.65,506.4L361.92,506.0L362.19,506.1L362.46,505.3L362.73,507.8L363.00,510.7L363.27,509.5L363.54,503.8L363.81,504.2L364.08,504.1L364.35,505.0L364.62,506.1L364.89,507.0L365.16,508.7L365.43,506.9L365.70,508.1L365.97,512.0L366.24,508.9L366.51,503.5L366.78,503.4L367.05,507.8L367.32,505.2L367.59,504.8L367.86,507.2L368.13,505.8L368.40,507.3L368.67,509.6L368.94,507.8L369.21,506.4L369.48,506.1L369.75,505.5L370.02,506.7L370.29,509.1L370.56,508.1L370.83,503.3L371.10,504.7L371.37,506.0L371.64,506.0L371.91,510.7L372.18,509.7L372.45,505.0L372.72,501.8L372.99,505.6L373.26,508.7L373.53,508.0L373.80,510.2L374.07,509.3L374.34,507.7L374.61,506.4L374.88,502.2L375.15,501.8L375.42,506.2L375.69,507.8L375.96,508.5L376.23,507.7L376.50,507.4L376.77,508.4L377.04,506.7L377.31,505.1L377.58,503.5L377.85,505.1L378.12,507.8L378.39,506.5L378.66,509.0L378.93,509.0L379.20,507.2L379.47,507.3L379.74,505.1L380.01,505.4L380.28,507.6L380.55,505.0L380.82,506.5L381.09,506.9L381.36,506.4L381.63,507.3L381.90,507.2L382.17,509.6L382.44,507.2L382.71,503.9L382.98,504.6L383.25,508.6L383.52,508.9L383.79,507.2L384.06,507.8L384.33,505.1L384.60,504.2L384.87,506.0L385.14,507.5L385.41,508.5L385.68,506.1L385.95,506.5L386.22,505.8L386.49,506.1L386.76,506.9L387.03,506.0L387.30,505.7L387.57,507.2L387.84,507.9L388.11,507.0L388.38,507.6L388.65,505.7L388.92,506.2L389.19,507.6L389.46,506.7L389.73,506.0L390.00,504.4L390.27,506.5L390.54,510.3L390.81,507.8L391.08,504.9L391.35,506.3L391.62,507.2L391.89,509.6L392.16,509.8L392.43,505.1L392.70,502.5L392.97,505.5L393.24,505.7L393.51,507.5L393.78,505.8L394.05,507.7L394.32,511.4L394.59,505.9L394.86,502.6L395.13,507.7L395.40,508.2L395.67,507.4L395.94,504.3L396.21,503.5L396.48,506.9L396.75,510.2L397.02,508.8L397.29,505.3L397.56,505.2L397.83,506.3L398.10,507.8L398.37,508.0L398.64,505.7L398.91,506.2L399.18,505.2L399.45,506.6L399.72,509.7L399.99,506.3L400.26,505.3L400.53,504.9L400.80,506.3L401.07,509.5L401.34,507.5L401.61,507.7L401.88,507.3L402.15,505.4L402.42,505.7L402.69,506.0L402.96,506.3L403.23,506.7L403.50,506.6L403.77,507.0L404.04,508.7L404.31,507.1L404.58,504.3L404.85,505.6L405.12,508.7L405.39,508.5L405.66,505.0L405.93,505.2L406.20,509.4L406.47,506.7L406.74,505.7L407.01,507.3L407.28,505.2L407.55,506.7L407.82,505.8L408.09,506.2L408.36,510.1L408.63,510.2L408.90,506.9L409.17,503.7L409.44,503.6L409.71,504.4L409.98,508.7L410.25,510.7L410.52,507.0L410.79,504.6L411.06,504.2L411.33,506.3L411.60,505.9L411.87,507.9L412.14,507.8L412.41,504.2L412.68,505.6L412.95,508.1L413.22,509.9L413.49,506.9L413.76,505.5L414.03,506.9L414.30,507.7L414.57,508.6L414.84,505.9L415.11,503.9L415.38,505.8L415.65,506.2L415.92,508.0L416.19,509.4L416.46,505.6L416.73,505.6L417.00,506.5L417.27,507.0L417.54,509.0L417.81,506.9L418.08,503.0L418.35,505.2L418.62,507.2L418.89,507.5L419.16,507.9L419.43,507.2L419.70,508.1L419.97,506.9L420.24,505.7L420.51,506.5L420.78,505.2L421.05,507.3L421.32,509.0L421.59,505.8L421.86,503.3L422.13,506.4L422.40,508.8L422.67,507.6L422.94,504.9L423.21,503.3L423.48,506.9L423.75,509.7L424.02,507.3L424.29,507.3L424.56,506.9L424.83,507.2L425.10,505.8L425.37,506.4L425.64,507.0L425.91,507.6L426.18,506.7L426.45,504.4L426.72,506.5L426.99,509.0L427.26,508.1L427.53,505.1L427.80,504.1L428.07,504.5L428.34,507.8L428.61,509.5L428.88,507.9L429.15,506.8L429.42,504.1L429.69,505.6L429.96,509.0L430.23,508.4L430.50,506.4L430.77,507.2L431.04,506.9L431.31,506.9L431.58,505.9L431.85,503.4L432.12,505.6L432.39,507.9L432.66,510.9L432.93,510.4L433.20,506.9L433.47,506.2L433.74,503.0L434.01,502.2L434.28,505.8L434.55,506.2L434.82,506.7L435.09,509.6L435.36,507.0L435.63,507.1L435.90,507.9L436.17,507.2L436.44,507.2L436.71,506.9L436.98,506.1L437.25,505.6L437.52,506.8L437.79,505.3L438.06,507.0L438.33,507.6L438.60,506.6L438.87,507.0L439.14,508.5L439.41,505.4L439.68,505.6L439.95,508.2L440.22,506.5L440.49,506.4L440.76,504.7L441.03,506.5L441.30,508.1L441.57,506.0L441.84,508.4L442.11,508.3L442.38,508.0L442.65,506.3L442.92,504.5L443.19,504.1L443.46,505.0L443.73,508.7L444.00,509.1L444.27,508.6L444.54,506.4L444.81,503.8L445.08,504.8L445.35,506.9L445.62,508.3L445.89,506.8L446.16,507.0L446.43,506.7L446.70,505.4L446.97,507.5L447.24,506.5L447.51,505.3L447.78,507.8L448.05,508.4L448.32,507.8L448.59,507.0L448.86,508.3L449.13,506.4L449.40,502.1L449.67,504.4L449.94,508.0L450.21,510.6L450.48,507.5L450.75,505.2L451.02,506.2L451.29,508.6L451.56,507.1L451.83,504.6L452.10,503.7L452.37,506.9L452.64,508.8L452.91,508.8L453.18,507.6L453.45,504.6L453.72,505.1L453.99,506.6L454.26,506.3L454.53,508.2L454.80,506.9L455.07,505.8L455.34,507.7L455.61,509.2L455.88,507.0L456.15,502.8L456.42,503.3L456.69,508.5L456.96,509.8L457.23,508.3L457.50,505.1L457.77,505.6L458.04,507.7L458.31,507.5L458.58,506.0L458.85,506.3L459.12,506.7L459.39,506.0L459.66,505.4L459.93,507.3L460.20,505.9L460.47,507.2L460.74,508.7L461.01,505.3L461.28,504.9L461.55,507.6L461.82,506.1L462.09,508.0L462.36,507.8L462.63,507.2L462.90,506.0L463.17,502.5L463.44,505.8L463.71,510.7L463.98,510.3L464.25,507.8L464.52,506.5L464.79,503.9L465.06,505.6L465.33,509.6L465.60,507.4L465.87,504.9L466.14,504.6L466.41,504.9L466.68,509.1L466.95,507.1L467.22,505.7L467.49,509.1L467.76,509.3L468.03,506.4L468.30,504.1L468.57,502.8L468.84,506.1L469.11,507.9L469.38,507.6L469.65,509.4L469.92,506.4L470.19,505.3L470.46,506.7L470.73,508.2L471.00,508.4L471.27,506.0L471.54,506.6L471.81,507.2L472.08,502.9L472.35,503.8L472.62,506.4L472.89,510.7L473.16,509.2L473.43,503.8L473.70,507.6L473.97,509.4L474.24,506.7L474.51,505.0L474.78,503.6L475.05,507.6L475.32,508.9L475.59,505.6L475.86,504.7L476.13,507.6L476.40,508.2L476.67,506.5L476.94,507.0L477.21,506.3L477.48,505.4L477.75,506.3L478.02,510.1L478.29,509.2L478.56,505.6L478.83,503.5L479.10,505.8L479.37,507.6L479.64,507.1L479.91,507.2L480.18,504.8L480.45,505.6L480.72,507.9L480.99,507.0L481.26,506.6L481.53,507.8L481.80,508.0L482.07,505.9L482.34,507.6L482.61,508.5L482.88,506.3L483.15,504.6L483.42,505.3L483.69,506.1L483.96,505.1L484.23,507.2L484.50,507.6L484.77,508.5L485.04,508.4L485.31,506.2L485.58,505.5L485.85,505.1L486.12,506.8L486.39,507.8L486.66,506.7L486.93,507.6L487.20,508.1L487.47,506.4L487.74,504.2L488.01,505.7L488.28,508.4L488.55,507.8L488.82,506.8L489.09,505.3L489.36,505.8L489.63,507.2L489.90,507.3L490.17,506.9L490.44,505.9L490.71,506.3L490.98,507.0L491.25,505.6L491.52,506.3L491.79,508.5L492.06,508.4L492.33,507.9L492.60,506.5L492.87,505.5L493.14,506.7L493.41,505.7L493.68,504.4L493.95,507.2L494.22,508.7L494.49,509.3L494.76,506.2L495.03,504.2L495.30,504.7L495.57,507.1L495.84,507.8L496.11,507.5L496.38,506.0L496.65,505.3L496.92,507.4L497.19,506.4L497.46,504.8L497.73,508.6L498.00,509.2L498.27,506.2L498.54,505.4L498.81,505.5L499.08,504.8L499.35,507.7L499.62,510.4L499.89,505.9L500.16,503.7L500.43,508.8L500.70,507.4L500.97,505.7L501.24,508.5L501.51,507.6L501.78,506.8L502.05,507.0L502.32,503.4L502.59,504.1L502.86,506.3L503.13,507.1L503.40,510.1L503.67,508.9L503.94,506.1L504.21,506.1L504.48,507.7L504.75,509.0L505.02,507.0L505.29,504.1L505.56,503.6L505.83,506.3L506.10,509.6L506.37,507.6L506.64,506.4L506.91,505.4L507.18,505.1L507.45,505.8L507.72,506.4L507.99,508.3L508.26,509.2L508.53,505.5L508.80,503.8L509.07,506.1L509.34,508.5L509.61,507.5L509.88,508.2L510.15,509.8L510.42,507.4L510.69,504.2L510.96,503.9L511.23,505.7L511.50,508.4L511.77,506.4L512.04,505.1L512.31,507.0L512.58,508.6L512.85,505.6L513.12,507.7L513.39,506.8L513.66,503.4L513.93,509.1L514.20,510.0L514.47,505.3L514.74,504.1L515.01,504.4L515.28,508.2L515.55,509.4L515.82,508.3L516.09,506.1L516.36,502.9L516.63,503.9L516.90,508.8L517.17,510.3L517.44,508.0L517.71,507.2L517.98,506.9L518.25,506.1L518.52,505.0L518.79,504.0L519.06,505.8L519.33,506.0L519.60,507.1L519.87,509.9L520.14,510.9L520.41,507.8L520.68,504.8L520.95,504.5L521.22,504.6L521.49,505.9L521.76,507.8L522.03,508.0L522.30,507.0L522.57,506.3L522.84,506.1L523.11,505.3L523.38,508.1L523.65,510.6L523.92,506.7L524.19,503.6L524.46,503.5L524.73,505.0L525.00,507.5L525.27,508.3L525.54,507.7L525.81,507.6L526.08,508.2L526.35,508.3L526.62,507.1L526.89,506.3L527.16,503.7L527.43,503.5L527.70,509.2L527.97,508.8L528.24,504.7L528.51,506.2L528.78,507.0L529.05,505.5L529.32,507.4L529.59,508.7L529.86,507.5L530.13,505.5L530.40,504.5L530.67,506.4L530.94,506.8L531.21,508.4L531.48,508.5L531.75,507.1L532.02,506.8L532.29,505.4L532.56,505.7L532.83,509.0L533.10,507.5L533.37,505.6L533.64,506.0L533.91,505.6L534.18,506.0L534.45,507.6L534.72,505.3L534.99,505.1L535.26,507.5L535.53,509.0L535.80,508.8L536.07,506.3L536.34,504.1L536.61,503.7L536.88,504.8L537.15,509.2L537.42,510.3L537.69,509.2L537.96,508.7L538.23,504.2L538.50,503.0L538.77,505.0L539.04,507.2L539.31,510.6L539.58,507.8L539.85,505.7L540.12,506.9L540.39,506.9L540.66,505.4L540.93,504.9L541.20,506.8L541.47,506.2L541.74,506.5L542.01,508.0L542.28,507.1L542.55,509.7L542.82,507.7L543.09,504.9L543.36,506.3L543.63,506.6L543.90,505.6L544.17,506.5L544.44,507.1L544.71,506.2L544.98,504.6L545.25,506.8L545.52,509.7L545.79,506.5L546.06,505.9L546.33,510.1L546.60,506.7L546.87,503.3L547.14,505.1L547.41,507.0L547.68,506.7L547.95,508.0L548.22,506.1L548.49,504.7L548.76,505.7L549.03,506.9L549.30,508.3L549.57,509.2L549.84,506.9L550.11,504.6L550.38,507.7L550.65,509.7L550.92,507.6L551.19,505.7L551.46,506.2L551.73,507.4L552.00,506.3L552.27,506.0L552.54,505.6L552.81,508.2L553.08,506.9L553.35,505.7L553.62,507.8L553.89,506.9L554.16,505.5L554.43,505.4L554.70,504.6L554.97,507.0L555.24,507.2L555.51,507.2L555.78,510.2L556.05,506.9L556.32,505.9L556.59,506.4L556.86,504.5L557.13,505.4L557.40,506.5L557.67,507.9L557.94,509.4L558.21,507.0L558.48,504.0L558.75,506.7L559.02,509.0L559.29,504.6L559.56,504.7L559.83,508.2L560.10,508.4L560.37,508.4L560.64,504.6L560.91,505.6L561.18,509.2L561.45,510.0L561.72,504.8L561.99,506.2L562.26,507.8L562.53,505.9L562.80,506.9L563.07,504.7L563.34,504.9L563.61,506.2L563.88,506.9L564.15,507.6L564.42,507.1L564.69,504.5L564.96,504.2L565.23,507.4L565.50,508.6L565.77,506.7L566.04,505.8L566.31,507.0L566.58,507.9L566.85,508.9L567.12,505.9L567.39,503.9L567.66,507.0L567.93,511.4L568.20,511.7L568.47,505.8L568.74,503.1L569.01,502.2L569.28,503.8L569.55,509.2L569.82,507.1L570.09,506.6L570.36,507.2L570.63,507.1L570.90,506.7L571.17,508.2L571.44,507.0L571.71,507.1L571.98,506.7L572.25,504.6L572.52,505.4L572.79,508.3L573.06,507.3L573.33,507.5L573.60,508.9L573.87,506.2L574.14,505.2L574.41,506.5L574.68,505.6L574.95,506.9L575.22,506.4L575.49,504.5L575.76,506.2L576.03,506.9L576.30,507.6L576.57,509.9L576.84,508.2L577.11,504.9L577.38,504.2L577.65,504.8L577.92,508.5L578.19,509.4L578.46,506.6L578.73,504.4L579.00,506.8L579.27,507.2L579.54,507.0L579.81,505.7L580.08,506.3L580.35,509.7L580.62,508.2L580.89,505.8L581.16,504.6L581.43,506.4L581.70,506.9L581.97,507.3L582.24,506.8L582.51,507.8L582.78,510.4L583.05,507.8L583.32,503.4L583.59,504.0L583.86,505.1L584.13,505.6L584.40,506.7L584.67,509.1L584.94,507.2L585.21,506.0L585.48,505.8L585.75,507.7L586.02,507.6L586.29,507.2L586.56,507.6L586.83,507.0L587.10,507.7L587.37,505.9L587.64,502.5L587.91,505.8L588.18,506.8L588.45,506.6L588.72,507.1L588.99,506.7L589.26,505.9L589.53,508.7L589.80,506.1L590.07,506.3L590.34,508.7L590.61,510.5L590.88,504.3L591.15,505.0L591.42,508.6L591.69,505.3L591.96,506.5L592.23,506.1L592.50,506.0L592.77,508.0L593.04,506.6L593.31,507.4L593.58,505.9L593.85,505.3L594.12,506.4L594.39,505.7L594.66,509.5L594.93,509.6L595.20,505.5L595.47,505.1L595.74,505.3L596.01,506.3L596.28,507.5L596.55,506.9L596.82,507.0L597.09,505.8L597.36,506.3L597.63,508.3L597.90,506.4L598.17,505.1L598.44,505.9L598.71,508.4L598.98,510.6L599.25,507.5L599.52,505.7L599.79,504.3L600.06,503.2L600.33,506.3L600.60,508.4L600.87,510.0L601.14,507.8L601.41,503.9L601.68,504.7L601.95,506.5L602.22,506.6L602.49,507.2L602.76,506.8L603.03,507.9L603.30,508.0L603.57,505.8L603.84,506.0L604.11,506.5L604.38,504.9L604.65,508.4L604.92,508.3L605.19,503.9L605.46,505.4L605.73,508.8L606.00,509.0L606.27,507.5L606.54,506.1L606.81,506.1L607.08,505.1L607.35,507.3L607.62,507.6L607.89,505.0L608.16,504.8L608.43,507.7L608.70,509.7L608.97,507.0L609.24,505.5L609.51,506.5L609.78,508.4L610.05,506.0L610.32,505.7L610.59,507.0L610.86,505.0L611.13,504.7L611.40,506.6L611.67,509.8L611.94,508.5L612.21,507.1L612.48,505.8L612.75,505.7L613.02,509.1L613.29,506.5L613.56,504.6L613.83,508.1L614.10,506.6L614.37,505.1L614.64,507.8L614.91,506.1L615.18,504.6L615.45,506.5L615.72,507.8L615.99,505.7L616.26,505.3L616.53,507.4L616.80,508.1L617.07,510.0L617.34,508.6L617.61,508.1L617.88,505.2L618.15,503.7L618.42,505.0L618.69,506.8L618.96,509.9L619.23,507.1L619.50,505.0L619.77,504.9L620.04,502.8L620.31,507.0L620.58,509.3L620.85,508.8L621.12,509.9L621.39,506.4L621.66,502.5L621.93,506.6L622.20,509.3L622.47,505.3L622.74,506.5L623.01,507.7L623.28,506.2L623.55,505.5L623.82,506.4L624.09,507.0L624.36,507.8L624.63,506.7L624.90,505.0L625.17,506.5L625.44,507.9L625.71,508.4L625.98,507.9L626.25,505.9L626.52,505.1L626.79,507.4L627.06,507.2L627.33,505.8L627.60,506.5L627.87,506.9L628.14,509.3L628.41,506.2L628.68,505.4L628.95,505.1L629.22,507.1L629.49,508.7L629.76,503.6L630.03,503.5L630.30,507.0L630.57,510.0L630.84,510.1L631.11,506.5L631.38,504.5L631.65,508.7L631.92,508.0L632.19,505.4L632.46,504.6L632.73,503.2L633.00,506.5L633.27,508.4L633.54,507.2L633.81,506.9L634.08,507.7L634.35,509.1L634.62,508.0L634.89,505.9L635.16,504.7L635.43,507.1L635.70,508.1L635.97,503.8L636.24,504.4L636.51,506.6L636.78,508.8L637.05,510.4L637.32,507.6L637.59,504.8L637.86,505.3L638.13,505.5L638.40,506.6L638.67,508.4L638.94,508.7L639.21,505.2L639.48,502.7L639.75,507.2L640.02,508.0L640.29,507.1L640.56,509.4L640.83,507.4L641.10,505.2L641.37,506.0L641.64,506.5L641.91,506.2L642.18,508.0L642.45,506.9L642.72,506.7L642.99,507.6L643.26,506.2L643.53,506.5L643.80,507.4L644.07,505.4L644.34,505.5L644.61,507.3L644.88,506.6L645.15,503.3L645.42,505.4L645.69,509.5L645.96,509.5L646.23,508.0L646.50,504.6L646.77,504.2L647.04,505.5L647.31,509.5L647.58,510.5L647.85,507.3L648.12,505.5L648.39,502.1L648.66,505.2L648.93,507.6L649.20,509.8L649.47,508.1L649.74,503.3L650.01,504.1L650.28,505.5L650.55,506.8L650.82,510.1L651.09,508.3L651.36,507.1L651.63,504.1L651.90,506.9L652.17,510.0L652.44,508.1L652.71,506.8L652.98,504.8L653.25,504.8L653.52,504.6L653.79,506.4L654.06,506.8L654.33,508.0L654.60,508.0L654.87,506.2L655.14,506.2L655.41,508.8L655.68,508.3L655.95,507.4L656.22,504.8L656.49,501.4L656.76,505.5L657.03,506.6L657.30,510.6L657.57,513.3L657.84,506.3L658.11,501.1L658.38,503.4L658.65,508.8L658.92,512.5L659.19,510.4L659.46,506.1L659.73,504.1L660.00,503.1L660.27,502.4L660.54,506.6L660.81,509.6L661.08,506.8L661.35,504.7L661.62,508.5L661.89,508.7L662.16,506.1L662.43,506.5L662.70,507.9L662.97,507.8L663.24,505.6L663.51,504.4L663.78,505.2L664.05,504.5L664.32,506.0L664.59,507.6L664.86,506.9L665.13,508.9L665.40,508.7L665.67,508.4L665.94,507.0L666.21,505.0L666.48,508.9L666.75,508.5L667.02,503.9L667.29,503.8L667.56,505.7L667.83,508.5L668.10,509.2L668.37,507.9L668.64,503.5L668.91,504.1L669.18,507.9L669.45,507.8L669.72,506.6L669.99,506.9L670.26,509.2L670.53,509.2L670.80,505.1L671.07,504.6L671.34,506.3L671.61,505.1L671.88,506.4L672.15,506.8L672.42,506.5L672.69,507.9L672.96,506.3L673.23,508.0L673.50,507.5L673.77,505.0L674.04,505.9L674.31,507.7L674.58,507.1L674.85,504.6L675.12,505.3L675.39,507.7L675.66,510.2L675.93,509.1L676.20,506.0L676.47,506.1L676.74,504.2L677.01,506.0L677.28,508.7L677.55,507.5L677.82,505.1L678.09,504.7L678.36,507.4L678.63,508.6L678.90,507.9L679.17,507.4L679.44,506.2L679.71,507.6L679.98,504.0L680.25,505.4L680.52,509.3L680.79,506.5L681.06,506.0L681.33,507.4L681.60,505.9L681.87,506.6L682.14,504.9L682.41,505.1L682.68,509.1L682.95,506.9L683.22,505.4L683.49,508.5L683.76,508.9L684.03,506.3L684.30,505.0L684.57,505.6L684.84,507.2L685.11,507.7L685.38,505.8L685.65,506.6L685.92,508.4L686.19,508.0L686.46,507.9L686.73,504.4L687.00,504.6L687.27,504.9L687.54,505.6L687.81,507.8L688.08,509.4L688.35,508.1L688.62,505.6L688.89,504.5L689.16,506.6L689.43,509.2L689.70,507.6L689.97,506.6L690.24,505.7L690.51,506.6L690.78,510.3L691.05,505.4L691.32,504.3L691.59,507.5L691.86,504.1L692.13,505.1L692.40,507.4L692.67,507.7L692.94,505.2L693.21,506.8L693.48,508.7L693.75,504.8L694.02,507.5L694.29,508.0L694.56,507.8L694.83,508.4L695.10,504.1L695.37,505.4L695.64,507.8L695.91,506.0L696.18,508.0L696.45,506.0L696.72,506.2L696.99,508.3L697.26,508.2L697.53,508.0L697.80,504.8L698.07,502.6L698.34,503.4L698.61,505.5L698.88,511.9L699.15,511.0L699.42,505.8L699.69,504.7L699.96,506.3L700.23,508.2L700.50,506.1L700.77,506.9L701.04,508.2L701.31,508.8L701.58,506.2L701.85,502.4L702.12,506.3L702.39,505.9L702.66,505.7L702.93,508.0L703.20,507.3L703.47,507.5L703.74,506.1L704.01,506.0L704.28,504.9L704.55,504.0L704.82,509.5L705.09,511.2L705.36,508.0L705.63,506.5L705.90,504.8L706.17,506.2L706.44,507.6L706.71,508.7L706.98,506.9L707.25,501.0L707.52,502.1L707.79,506.9L708.06,512.2L708.33,512.4L708.60,506.6L708.87,505.1L709.14,505.2L709.41,506.0L709.68,506.5L709.95,503.9L710.22,505.2L710.49,507.5L710.76,506.7L711.03,506.4L711.30,509.4L711.57,509.0L711.84,506.0L712.11,507.2L712.38,505.5L712.65,505.5L712.92,507.0L713.19,504.5L713.46,505.8L713.73,509.0L714.00,507.8L714.27,506.9L714.54,508.6L714.81,505.7L715.08,507.2L715.35,507.5L715.62,504.8L715.89,504.5L716.16,505.0L716.43,507.4L716.70,507.4L716.97,508.2L717.24,510.1L717.51,507.3L717.78,506.2L718.05,507.1L718.32,505.8L718.59,502.6L718.86,504.0L719.13,508.3L719.40,509.9L719.67,509.1L719.94,507.6L720.21,504.2L720.48,504.3L720.75,504.8L721.02,506.3L721.29,508.7L721.56,506.6L721.83,507.3L722.10,507.7L722.37,507.6L722.64,507.2L722.91,505.7L723.18,503.7L723.45,504.8L723.72,508.7L723.99,509.5L724.26,507.4L724.53,506.4L724.80,505.6L725.07,505.5L725.34,505.1L725.61,504.9L725.88,509.0L726.15,509.7L726.42,509.0L726.69,506.7L726.96,503.5L727.23,505.2L727.50,506.7L727.77,506.7L728.04,507.4L728.31,506.6L728.58,507.1L728.85,509.1L729.12,505.7L729.39,505.3L729.66,506.3L729.93,508.3L730.20,508.8L730.47,507.3L730.74,509.3L731.01,504.0L731.28,500.7L731.55,505.3L731.82,508.0L732.09,509.9L732.36,509.6L732.63,505.5L732.90,505.5L733.17,506.8L733.44,506.7L733.71,508.0L733.98,507.7L734.25,506.7L734.52,504.3L734.79,503.4L735.06,508.8L735.33,511.3L735.60,505.3L735.87,504.5L736.14,503.9L736.41,506.2L736.68,508.0L736.95,508.2L737.22,507.3L737.49,505.7L737.76,505.7L738.03,508.6L738.30,508.6L738.57,506.8L738.84,504.5L739.11,504.8L739.38,508.8L739.65,510.0L739.92,505.5L740.19,502.6L740.46,506.9L740.73,507.1L741.00,506.8L741.27,506.1L741.54,508.4L741.81,508.1L742.08,506.7L742.35,506.8L742.62,506.3L742.89,507.5L743.16,507.0L743.43,504.5L743.70,507.4L743.97,508.0L744.24,505.8L744.51,506.5L744.78,506.1L745.05,506.9L745.32,506.3L745.59,506.3L745.86,504.0L746.13,506.0L746.40,509.4L746.67,509.2L746.94,507.5L747.21,504.9L747.48,504.8L747.75,507.1L748.02,506.6L748.29,507.4L748.56,507.8L748.83,506.9L749.10,506.4L749.37,505.3L749.64,506.8L749.91,507.9L750.18,508.8L750.45,506.4L750.72,504.8L750.99,506.2L751.26,505.0L751.53,506.3L751.80,508.8L752.07,506.8L752.34,505.4L752.61,506.2L752.88,506.9L753.15,508.6L753.42,509.6L753.69,505.1L753.96,505.8L754.23,506.9L754.50,505.6L754.77,505.9L755.04,506.2L755.31,507.4L755.58,508.8L755.85,508.8L756.12,506.4L756.39,503.4L756.66,503.7L756.93,506.3L757.20,508.8L757.47,510.7L757.74,507.2L758.01,504.6L758.28,506.4L758.55,506.1L758.82,507.1L759.09,506.6L759.36,505.5L759.63,505.0L759.90,506.2L760.17,508.7L760.44,510.7L760.71,508.0L760.98,504.2L761.25,504.7L761.52,505.8L761.79,508.3L762.06,508.1L762.33,505.9L762.60,505.3L762.87,504.4L763.14,507.4L763.41,510.1L763.68,509.2L763.95,507.4L764.22,505.2L764.49,502.8L764.76,505.5L765.03,506.2L765.30,508.4L765.57,508.7L765.84,505.4L766.11,504.9L766.38,505.5L766.65,507.6L766.92,510.1L767.19,507.2L767.46,506.3L767.73,505.5L768.00,506.2L768.27,505.2L768.54,506.3L768.81,508.0L769.08,506.7L769.35,506.4L769.62,506.2L769.89,505.0L770.16,509.4L770.43,510.1L770.70,504.1L770.97,507.5L771.24,510.4L771.51,509.0L771.78,504.3L772.05,502.7L772.32,503.8L772.59,505.4L772.86,506.3L773.13,508.2L773.40,509.1L773.67,506.3L773.94,505.6L774.21,507.4L774.48,508.5L774.75,507.5L775.02,503.7L775.29,504.5L775.56,508.2L775.83,507.3L776.10,508.0L776.37,511.1L776.64,508.0L776.91,504.3L777.18,502.8L777.45,504.4L777.72,506.9L777.99,505.5L778.26,507.8L778.53,513.4L778.80,508.2L779.07,501.8L779.34,502.2L779.61,507.1L779.88,510.0L780.15,509.9L780.42,507.1L780.69,502.9L780.96,504.1L781.23,508.8L781.50,508.2L781.77,507.1L782.04,507.7L782.31,506.7L782.58,505.2L782.85,505.8L783.12,505.8L783.39,507.3L783.66,508.0L783.93,506.1L784.20,506.8L784.47,506.7L784.74,507.9L785.01,508.0L785.28,507.8L785.55,504.8L785.82,506.1L786.09,507.7L786.36,506.3L786.63,505.6L786.90,504.1L787.17,505.1L787.44,506.6L787.71,505.9L787.98,509.6L788.25,509.4L788.52,506.4L788.79,506.6L789.06,506.7L789.33,506.0L789.60,507.4L789.87,509.7L790.14,504.7L790.41,503.3L790.68,506.2L790.95,506.1L791.22,508.6L791.49,507.5L791.76,507.2L792.03,507.1L792.30,505.6L792.57,507.9L792.84,507.1L793.11,506.0L793.38,505.8L793.65,505.1L793.92,506.9L794.19,508.7L794.46,506.5L794.73,503.8L795.00,508.6L795.27,509.6L795.54,505.0L795.81,505.9L796.08,505.7L796.35,504.9L796.62,507.0L796.89,508.7L797.16,507.3L797.43,507.7L797.70,507.5L797.97,505.5L798.24,506.2L798.51,506.0L798.78,507.3L799.05,508.3L799.32,506.4L799.59,506.0L799.86,506.1L800.13,504.7L800.40,504.9L800.67,507.0L800.94,507.9L801.21,508.3L801.48,510.0L801.75,507.7L802.02,504.3L802.29,503.6L802.56,505.1L802.83,507.7L803.10,508.8L803.37,505.4L803.64,504.3L803.91,508.2L804.18,511.0L804.45,510.5L804.72,506.9L804.99,505.0L805.26,504.8L805.53,506.2L805.80,505.8L806.07,505.8L806.34,504.6L806.61,505.2L806.88,507.2L807.15,508.6L807.42,507.7L807.69,508.1L807.96,510.1L808.23,506.4L808.50,504.6L808.77,504.5L809.04,503.3L809.31,505.5L809.58,506.4L809.85,508.2L810.12,511.2L810.39,509.0L810.66,505.9L810.93,504.9L811.20,505.7L811.47,507.1L811.74,505.7L812.01,505.1L812.28,505.8L812.55,507.0L812.82,510.2L813.09,511.0L813.36,509.4L813.63,505.3L813.90,503.5L814.17,505.9L814.44,506.5L814.71,504.1L814.98,505.2L815.25,505.5L815.52,507.3L815.79,511.0L816.06,509.3L816.33,507.3L816.60,505.7L816.87,505.2L817.14,507.5L817.41,506.0L817.68,504.3L817.95,507.8L818.22,508.2L818.49,503.4L818.76,505.9L819.03,507.4L819.30,508.3L819.57,508.0L819.84,505.1L820.11,506.3L820.38,507.8L820.65,504.9L820.92,507.6L821.19,509.3L821.46,508.8L821.73,506.6L822.00,503.3L822.27,505.2L822.54,506.3L822.81,508.9L823.08,506.9L823.35,505.3L823.62,505.2L823.89,505.6L824.16,507.5L824.43,505.8L824.70,508.9L824.97,509.2L825.24,507.7L825.51,506.0L825.78,504.3L826.05,508.1L826.32,508.7L826.59,508.6L826.86,506.9L827.13,502.3L827.40,502.0L827.67,505.2L827.94,505.2L828.21,507.5L828.48,509.9L828.75,509.0L829.02,507.0L829.29,507.2L829.56,506.9L829.83,507.0L830.10,505.5L830.37,504.0L830.64,505.5L830.91,508.5L831.18,509.2L831.45,508.7L831.72,506.2L831.99,505.1L832.26,508.5L832.53,509.2L832.80,506.6L833.07,502.9L833.34,502.2L833.61,504.2L833.88,510.7L834.15,511.3L834.42,505.7L834.69,505.6L834.96,507.0L835.23,507.3L835.50,507.0L835.77,504.2L836.04,504.4L836.31,506.9L836.58,508.2L836.85,508.9L837.12,505.8L837.39,505.4L837.66,507.4L837.93,505.8L838.20,508.0L838.47,506.8L838.74,505.0L839.01,506.2L839.28,507.0L839.55,506.9L839.82,507.9L840.09,507.3L840.36,505.2L840.63,509.0L840.90,509.9L841.17,507.4L841.44,506.4L841.71,502.7L841.98,503.2L842.25,506.0L842.52,507.6L842.79,507.3L843.06,507.0L843.33,508.1L843.60,508.6L843.87,507.1L844.14,506.2L844.41,506.2L844.68,505.2L844.95,508.2L845.22,507.5L845.49,505.7L845.76,507.5L846.03,504.7L846.30,506.2L846.57,508.1L846.84,507.4L847.11,507.2L847.38,504.0L847.65,505.4L847.92,507.3L848.19,508.2L848.46,508.3L848.73,504.1L849.00,505.2L849.27,508.4L849.54,508.4L849.81,507.3L850.08,504.7L850.35,505.5L850.62,506.3L850.89,509.3L851.16,509.9L851.43,504.9L851.70,504.4L851.97,507.8L852.24,508.6L852.51,502.6L852.78,505.5L853.05,509.9L853.32,507.1L853.59,507.7L853.86,506.1L854.13,503.8L854.40,506.4L854.67,507.2L854.94,507.5L855.21,507.7L855.48,508.0L855.75,508.1L856.02,503.6L856.29,504.1L856.56,506.6L856.83,507.8L857.10,508.8L857.37,508.8L857.64,508.5L857.91,503.5L858.18,503.3L858.45,507.0L858.72,507.1L858.99,505.6L859.26,508.0L859.53,508.5L859.80,508.2L860.07,508.4L860.34,505.2L860.61,504.5L860.88,506.3L861.15,508.5L861.42,508.1L861.69,505.6L861.96,504.6L862.23,505.6L862.50,506.0L862.77,505.7L863.04,508.4L863.31,509.0L863.58,505.5L863.85,505.2L864.12,508.6L864.39,510.0L864.66,508.0L864.93,505.7L865.20,503.9L865.47,505.7L865.74,508.7L866.01,507.5L866.28,505.5L866.55,506.9L866.82,505.5L867.09,502.8L867.36,504.9L867.63,507.3L867.90,507.9L868.17,507.1L868.44,507.8L868.71,507.4L868.98,505.2L869.25,507.0L869.52,510.5L869.79,509.4L870.06,507.1L870.33,506.4L870.60,505.1L870.87,504.6L871.14,503.9L871.41,503.4L871.68,508.2L871.95,508.3L872.22,508.8L872.49,508.0L872.76,505.6L873.03,505.1L873.30,505.5L873.57,506.7L873.84,507.3L874.11,509.1L874.38,507.8L874.65,504.4L874.92,504.3L875.19,507.5L875.46,508.8L875.73,507.1L876.00,506.9L876.27,508.3L876.54,504.2L876.81,504.6L877.08,508.9L877.35,508.3L877.62,506.7L877.89,505.5L878.16,507.1L878.43,504.9L878.70,505.2L878.97,507.1L879.24,508.1L879.51,509.2L879.78,506.1L880.05,505.7L880.32,507.2L880.59,508.0L880.86,508.6L881.13,507.5L881.40,504.9L881.67,505.8L881.94,506.0L882.21,505.7L882.48,508.1L882.75,506.5L883.02,504.5L883.29,507.7L883.56,508.5L883.83,507.1L884.10,505.4L884.37,504.1L884.64,505.5L884.91,508.8L885.18,509.7L885.45,505.0L885.72,504.7L885.99,507.5L886.26,508.6L886.53,505.8L886.80,504.5L887.07,509.7L887.34,508.9L887.61,506.2L887.88,505.7L888.15,503.6L888.42,504.9L888.69,508.3L888.96,511.4L889.23,508.2L889.50,504.8L889.77,504.2L890.04,502.2L890.31,504.4L890.58,509.3L890.85,510.6L891.12,507.2L891.39,506.3L891.66,508.9L891.93,506.2L892.20,505.3L892.47,505.5L892.74,506.0L893.01,510.2L893.28,508.7L893.55,504.0L893.82,507.2L894.09,509.7L894.36,505.5L894.63,502.9L894.90,504.4L895.17,505.4L895.44,507.7L895.71,509.4L895.98,507.6L896.25,505.9L896.52,504.8L896.79,505.7L897.06,509.8L897.33,507.5L897.60,504.3L897.87,508.7L898.14,512.1L898.41,506.9L898.68,501.5L898.95,502.6L899.22,509.8L899.49,510.3L899.76,509.4L900.03,510.7L900.30,512.8L900.57,516.1L900.84,510.3L901.11,504.7L901.38,506.0L901.65,504.5L901.92,500.7L902.19,500.8L902.46,500.4L902.73,499.1L903.00,503.8L903.27,503.7L903.54,504.4L903.81,506.3L904.08,504.7L904.35,507.3L904.62,507.5L904.89,504.7L905.16,508.3L905.43,511.7L905.70,505.3L905.97,499.4L906.24,501.4L906.51,508.2L906.78,511.5L907.05,511.9L907.32,507.1L907.59,506.3L907.86,504.1L908.13,503.5L908.40,509.4L908.67,506.8L908.94,505.4L909.21,505.5L909.48,506.8L909.75,510.4L910.02,507.9L910.29,507.6L910.56,507.5L910.83,503.5L911.10,505.0L911.37,504.8L911.64,505.7L911.91,506.3L912.18,506.9L912.45,509.4L912.72,510.2L912.99,505.9L913.26,506.4L913.53,507.9L913.80,507.4L914.07,504.5L914.34,503.4L914.61,505.5L914.88,508.7L915.15,509.0L915.42,506.5L915.69,505.9L915.96,504.7L916.23,504.6L916.50,508.1L916.77,510.0L917.04,509.7L917.31,507.1L917.58,505.7L917.85,505.3L918.12,506.9L918.39,509.3L918.66,505.8L918.93,505.3L919.20,507.7L919.47,505.0L919.74,502.3L920.01,507.1L920.28,509.4L920.55,507.2L920.82,503.0L921.09,505.6L921.36,511.4L921.63,509.6L921.90,504.9L922.17,503.9L922.44,509.9L922.71,508.4L922.98,505.5L923.25,505.2L923.52,508.9L923.79,509.8L924.06,505.9L924.33,501.7L924.60,496.8L924.87,506.3L925.14,518.8L925.41,520.7L925.68,520.0L925.95,510.9L926.22,504.1L926.49,504.2L926.76,498.8L927.03,498.5L927.30,490.6L927.57,487.8L927.84,498.1L928.11,505.7L928.38,519.4L928.65,519.4L928.92,518.8L929.19,522.8L929.46,512.4L929.73,509.3L930.00,510.2L930.27,504.1L930.54,498.4L930.81,499.6L931.08,502.9L931.35,503.7L931.62,501.1L931.89,505.6L932.16,506.3L932.43,507.5L932.70,510.9L932.97,505.9L933.24,505.1L933.51,506.1L933.78,506.5L934.05,509.3L934.32,510.2L934.59,508.4L934.86,502.6L935.13,502.6L935.40,504.7L935.67,503.0L935.94,510.1L936.21,514.3L936.48,509.8L936.75,502.8L937.02,503.8L937.29,505.8L937.56,507.3L937.83,505.4L938.10,506.8L938.37,512.8L938.64,508.1L938.91,503.2L939.18,504.3L939.45,508.3L939.72,506.1L939.99,505.3L940.26,509.1L940.53,507.1L940.80,509.0L941.07,505.9L941.34,502.5L941.61,504.4L941.88,508.1L942.15,509.5L942.42,506.0L942.69,506.8L942.96,506.0L943.23,504.6L943.50,504.7L943.77,506.3L944.04,512.5L944.31,508.8L944.58,503.4L944.85,504.8L945.12,504.1L945.39,509.0L945.66,510.4L945.93,509.0L946.20,506.8L946.47,503.4L946.74,506.1L947.01,507.8L947.28,506.1L947.55,507.7L947.82,505.9L948.09,503.7L948.36,507.1L948.63,508.4L948.90,507.8L949.17,505.6L949.44,505.1L949.71,505.1L949.98,506.2L950.25,509.3L950.52,506.8L950.79,508.2L951.06,507.3L951.33,504.2L951.60,506.0L951.87,508.0L952.14,508.5L952.41,508.9L952.68,508.3L952.95,507.9L953.22,504.7L953.49,504.7L953.76,508.0L954.03,507.3L954.30,503.3L954.57,503.5L954.84,506.0L955.11,508.7L955.38,506.2L955.65,506.3L955.92,507.5L956.19,508.2L956.46,509.1L956.73,506.0L957.00,505.2L957.27,505.8L957.54,506.6L957.81,507.2L958.08,506.3L958.35,507.2L958.62,506.9L958.89,506.7L959.16,506.3L959.43,504.8L959.70,506.4L959.97,508.1L960.24,508.8L960.51,509.0L960.78,507.0L961.05,506.1L961.32,507.0L961.59,505.4L961.86,503.6L962.13,508.7L962.40,510.9L962.67,503.4L962.94,502.3L963.21,506.2L963.48,505.2L963.75,508.1L964.02,510.2L964.29,507.9L964.56,506.3L964.83,505.4L965.10,507.6L965.37,507.9L965.64,506.2L965.91,505.7L966.18,507.0L966.45,507.4L966.72,505.7L966.99,506.0L967.26,507.2L967.53,507.0L967.80,507.8L968.07,505.2L968.34,506.4L968.61,509.7L968.88,506.3L969.15,505.0L969.42,504.5L969.69,504.3L969.96,507.6L970.23,508.6L970.50,510.8L970.77,509.3L971.04,504.5L971.31,504.8L971.58,503.0L971.85,506.3L972.12,510.1L972.39,508.1L972.66,508.1L972.93,505.6L973.20,506.1L973.47,505.7L973.74,505.7L974.01,507.0L974.28,505.9L974.55,508.1L974.82,508.0L975.09,506.6L975.36,507.5L975.63,503.9L975.90,506.2L976.17,507.9L976.44,507.4L976.71,506.8L976.98,505.4L977.25,506.7L977.52,507.2L977.79,506.7L978.06,509.6L978.33,507.7L978.60,505.2L978.87,506.0L979.14,505.7L979.41,505.6L979.68,505.7L979.95,507.7L980.22,507.7L980.49,504.9L980.76,506.0L981.03,508.9L981.30,507.4L981.57,504.6L981.84,503.0L982.11,507.2L982.38,511.3L982.65,508.5L982.92,504.4L983.19,505.1L983.46,507.5L983.73,508.6L984.00,507.8L984.27,505.1L984.54,506.3L984.81,507.2L985.08,506.9L985.35,506.9L985.62,508.2L985.89,505.2L986.16,507.0L986.43,508.6L986.70,503.5L986.97,503.2L987.24,506.7L987.51,508.0L987.78,512.1L988.05,510.1L988.32,506.4L988.59,504.6L988.86,501.8L989.13,504.4L989.40,506.1L989.67,506.8L989.94,507.4L990.21,508.8L990.48,509.1L990.75,507.2L991.02,506.4L991.29,506.9L991.56,507.2L991.83,508.8L992.10,507.2L992.37,500.7L992.64,500.3L992.91,510.6L993.18,511.7L993.45,505.6L993.72,505.2L993.99,508.3L994.26,510.4L994.53,507.7L994.80,503.7L995.07,503.1L995.34,503.9L995.61,505.8L995.88,511.6L996.15,512.2L996.42,507.7L996.69,502.8L996.96,501.0L997.23,505.2L997.50,510.7L997.77,510.6L998.04,510.1L998.31,504.3L998.58,500.6L998.85,506.4L999.12,509.7L999.39,511.7L999.66,507.7L999.93,500.0L1000.20,503.0L1000.47,506.5L1000.74,511.8L1001.01,509.2L1001.28,508.7L1001.55,506.7L1001.82,504.0L1002.09,502.7L1002.36,503.0L1002.63,504.8L1002.90,505.9L1003.17,516.0L1003.44,510.3L1003.71,501.3L1003.98,505.6L1004.25,506.9L1004.52,510.1L1004.79,506.6L1005.06,504.7L1005.33,506.0L1005.60,507.2L1005.87,511.0L1006.14,508.5L1006.41,507.3L1006.68,501.4L1006.95,501.3L1007.22,507.3L1007.49,509.1L1007.76,510.5L1008.03,508.0L1008.30,507.8L1008.57,516.0L1008.84,509.8L1009.11,508.7L1009.38,516.2L1009.65,512.4L1009.92,509.4L1010.19,509.1L1010.46,508.5L1010.73,508.6L1011.00,504.9L1011.27,504.7L1011.54,505.9L1011.81,506.5L1012.08,505.4L1012.35,507.8L1012.62,508.0L1012.89,500.4L1013.16,496.5L1013.43,497.5L1013.70,495.1L1013.97,496.7L1014.24,505.0L1014.51,508.3L1014.78,506.9L1015.05,502.1L1015.32,504.2L1015.59,507.4L1015.86,510.6L1016.13,510.3L1016.40,505.5L1016.67,502.6L1016.94,503.3L1017.21,507.8L1017.48,513.1L1017.75,514.9L1018.02,515.5L1018.29,517.6L1018.56,511.5L1018.83,504.7L1019.10,503.5L1019.37,505.0L1019.64,504.9L1019.91,506.7L1020.18,509.2L1020.45,510.5L1020.72,509.5L1020.99,505.7L1021.26,505.7L1021.53,506.3L1021.80,505.9L1022.07,506.0L1022.34,508.1L1022.61,503.7L1022.88,502.4L1023.15,510.0L1023.42,506.8L1023.69,506.1L1023.96,504.5L1024.23,507.4L1024.50,511.1L1024.77,507.8L1025.04,508.6L1025.31,507.0L1025.58,505.2L1025.85,508.1L1026.12,504.8L1026.39,506.2L1026.66,507.9L1026.93,509.1L1027.20,508.6L1027.47,502.3L1027.74,502.0L1028.01,505.2L1028.28,509.2L1028.55,509.5L1028.82,506.0L1029.09,506.4L1029.36,507.7L1029.63,505.5L1029.90,508.6L1030.17,508.6L1030.44,502.8L1030.71,504.5L1030.98,507.8L1031.25,506.1L1031.52,507.4L1031.79,506.9L1032.06,505.9L1032.33,507.2L1032.60,510.2L1032.87,507.3L1033.14,502.7L1033.41,506.5L1033.68,508.5L1033.95,508.0L1034.22,504.0L1034.49,507.3L1034.76,508.4L1035.03,507.0L1035.30,507.5L1035.57,507.4L1035.84,505.2L1036.11,503.1L1036.38,505.3L1036.65,506.5L1036.92,508.3L1037.19,508.7L1037.46,507.6L1037.73,507.1L1038.00,508.7L1038.27,507.8L1038.54,505.8L1038.81,505.1L1039.08,503.5L1039.35,508.1L1039.62,510.0L1039.89,505.3L1040.16,504.8L1040.43,507.1L1040.70,505.2L1040.97,506.4L1041.24,506.8L1041.51,506.3L1041.60,507.7L1041.98,503.0L1042.36,495.6L1042.74,491.0L1043.25,501.3L1043.76,517.6L1044.27,527.9L1044.68,518.8L1045.10,503.1L1045.51,487.3L1045.92,478.2L1046.34,490.5L1046.75,511.8L1047.17,533.2L1047.58,545.5L1048.03,532.1L1048.47,509.0L1048.92,485.8L1049.36,472.5L1049.78,483.7L1050.19,503.1L1050.61,522.5L1051.02,533.6L1051.50,525.0L1051.97,510.1L1052.45,495.1L1052.93,486.5L1053.41,492.5L1053.89,503.1L1054.36,513.6L1054.84,519.6L1055.32,512.9L1055.80,501.1L1056.27,489.4L1056.75,482.7L1057.23,490.4L1057.71,503.7L1058.18,517.0L1058.66,524.7L1059.14,518.1L1059.62,506.6L1060.10,495.0L1060.57,488.4L1061.05,496.1L1061.53,509.4L1062.01,522.8L1062.48,530.4L1062.90,520.0L1063.31,501.9L1063.73,483.8L1064.14,473.4L1064.59,484.4L1065.03,503.5L1065.48,522.6L1065.92,533.6L1066.33,527.0L1066.74,515.3L1067.15,501.7L1067.55,490.0L1067.96,483.3L1068.41,491.9L1068.85,506.9L1069.30,521.8L1069.75,530.4L1070.16,522.3L1070.57,508.2L1070.99,494.0L1071.40,485.9L1071.82,494.0L1072.23,508.2L1072.64,522.3L1073.06,530.4L1073.50,521.3L1073.95,505.3L1074.39,489.3L1074.84,480.1L1075.25,491.1L1075.67,510.3L1076.08,529.4L1076.50,540.4L1076.91,528.7L1077.32,508.3L1077.74,488.0L1078.15,476.3L1078.60,487.9L1079.04,508.2L1079.49,528.4L1079.94,540.0L1080.45,521.4L1080.96,492.0L1081.46,473.4L1081.91,484.0L1082.36,502.5L1082.80,521.1L1083.25,531.7L1083.69,523.0L1084.14,507.8L1084.59,492.7L1085.03,483.9L1085.45,492.2L1085.86,506.6L1086.27,520.9L1086.69,529.2L1087.10,519.4L1087.52,502.5L1087.93,485.7L1088.34,475.9L1088.85,493.3L1089.36,520.7L1089.87,538.1L1090.38,521.4L1090.89,494.9L1091.40,478.2L1091.91,497.0L1092.42,526.7L1092.93,545.5L1093.44,520.7L1093.95,481.6L1094.46,456.8L1094.93,479.9L1095.39,516.3L1095.86,539.4L1096.33,521.6L1096.79,493.5L1097.26,475.7L1097.68,488.5L1098.09,510.9L1098.50,533.2L1098.92,546.1L1099.43,522.5L1099.94,485.2L1100.45,461.7L1100.96,481.2L1101.46,512.2L1101.97,531.7L1102.40,522.3L1102.82,507.4L1103.25,498.0L1103.66,503.2L1104.08,512.3L1104.49,521.4L1104.90,526.6L1105.33,515.9L1105.75,498.9L1106.18,488.2L1106.62,492.9L1107.07,501.0L1107.52,509.2L1107.96,513.9L1108.38,511.3L1108.79,506.9L1109.20,502.4L1109.62,499.9L1110.13,504.1L1110.64,510.9L1111.15,515.2L1111.56,511.2L1111.97,504.3L1112.39,497.5L1112.80,493.5L1113.23,504.0L1113.65,520.6L1114.08,531.1L1114.49,520.5L1114.90,502.2L1115.32,483.9L1115.73,473.4L1116.24,490.9L1116.75,518.6L1117.26,536.2L1117.77,516.9L1118.28,486.4L1118.79,467.1L1119.26,487.5L1119.72,519.7L1120.19,540.0L1120.64,531.0L1121.08,515.5L1121.53,499.9L1121.97,491.0L1122.36,506.2L1122.74,521.5L1123.18,500.5L1123.63,479.5L1124.06,494.5L1124.48,518.2L1124.90,533.2L1125.33,519.6L1125.75,498.0L1126.18,484.3L1126.66,491.1L1127.13,502.9L1127.61,514.7L1128.09,521.5L1128.51,517.4L1128.94,510.3L1129.36,501.5L1129.79,492.6L1130.21,485.5L1130.64,481.4L1131.06,497.4L1131.49,522.7L1131.91,538.7L1132.42,522.5L1132.93,496.8L1133.44,480.5L1133.85,487.5L1134.27,499.7L1134.68,512.0L1135.10,519.0L1135.51,513.7L1135.92,504.6L1136.34,495.6L1136.75,490.3L1137.26,503.4L1137.77,516.4L1138.15,510.0L1138.54,499.9L1138.92,493.5L1139.39,500.0L1139.87,511.3L1140.35,522.7L1140.83,529.2L1141.31,519.9L1141.78,503.7L1142.26,487.5L1142.74,478.2L1143.14,510.7L1143.53,509.6L1144.05,497.0L1144.45,478.2L1144.79,470.7L1145.10,470.4L1145.62,497.0L1146.01,541.0L1146.41,549.6L1146.80,537.8L1147.19,481.4L1147.71,468.8L1148.11,476.7L1148.50,503.3L1148.76,536.2L1149.28,551.1L1149.67,541.0L1150.07,515.9L1150.33,492.3L1150.72,481.0L1150.98,483.7L1151.37,501.7L1151.69,523.7L1152.03,533.1L1152.42,523.7L1152.68,509.6L1153.07,470.4L1153.38,454.7L1153.72,456.6L1154.12,478.2L1154.51,509.6L1154.77,523.7L1155.03,530.8L1155.34,531.2L1155.68,523.7L1156.08,509.6L1156.39,504.6L1156.65,503.3L1156.99,509.6L1157.25,525.3L1157.51,539.4L1157.91,552.7L1158.17,551.9L1158.56,536.2L1158.82,509.6L1159.08,481.4L1159.34,454.7L1159.55,448.7L1159.87,454.7L1160.13,478.2L1160.52,512.7L1160.91,536.2L1161.30,531.5L1161.57,509.6L1161.96,478.2L1162.30,469.1L1162.61,478.2L1163.00,503.3L1163.26,519.0L1163.66,528.4L1164.18,536.2L1164.70,542.5L1165.09,537.8L1165.49,515.9L1165.88,501.7L1166.09,498.6L1166.40,501.7L1166.79,507.2L1167.18,503.3L1167.58,495.5L1168.10,487.6L1168.75,475.1L1169.01,477.4L1169.41,490.8L1169.80,508.0L1170.19,517.4L1170.50,516.6L1170.92,507.7L1171.24,509.3L1171.55,517.4L1171.89,536.2L1172.28,544.4L1172.67,537.8L1172.93,525.3L1173.33,503.3L1173.59,497.0L1173.90,494.7L1174.24,498.6L1174.69,506.5L1175.10,504.1L1175.42,493.9L1175.81,478.2L1176.07,469.6L1176.33,468.5L1176.67,475.1L1176.70,476.7L1177.10,497.0L1177.49,512.7L1177.75,519.0L1178.14,525.3L1178.66,535.5L1179.06,536.6L1179.71,535.0L1180.10,532.3L1180.36,525.3L1180.62,514.3L1181.02,500.2L1181.41,495.8L1182.01,495.5L1182.32,492.3L1182.72,478.2L1183.06,457.8L1183.32,451.3L1183.63,456.3L1183.89,475.1L1184.28,503.3L1184.62,531.5L1184.94,550.4L1185.33,552.7L1185.59,541.0L1185.98,530.8L1186.37,534.7L1186.90,539.4L1187.24,536.2L1187.50,525.3L1187.81,504.9L1188.13,481.4L1188.41,472.3L1188.78,471.6L1189.12,484.5L1189.51,498.6L1189.85,502.5L1190.16,497.0L1190.48,478.2L1190.87,457.8L1191.21,456.6L1191.47,468.8L1191.78,497.0L1192.12,528.4L1192.46,555.1L1192.78,567.6L1193.12,569.2L1193.56,566.0L1193.95,561.3L1194.29,553.5L1194.55,544.1L1194.74,531.5L1194.92,512.7L1195.13,490.8L1195.39,462.5L1196.32,395.1L1196.60,405.1L1196.88,433.0L1197.16,473.3L1197.44,518.1L1197.72,558.4L1198.00,586.3L1198.28,596.3L1198.78,572.3L1199.05,553.5L1199.32,544.1L1199.63,541.3L1199.97,542.2L1200.23,544.1L1200.48,534.7L1200.75,512.7L1201.02,478.2L1201.27,446.9L1201.53,424.9L1202.00,406.1L1202.27,411.6L1202.54,427.3L1202.81,451.4L1203.08,480.9L1203.35,512.4L1203.62,541.9L1203.89,566.0L1204.16,581.7L1204.43,587.2L1204.69,581.2L1204.95,564.0L1205.21,538.4L1205.47,508.2L1205.74,477.9L1206.00,452.3L1206.26,435.1L1206.52,429.1L1206.79,436.3L1207.05,456.5L1207.32,485.7L1207.59,518.1L1207.86,547.3L1208.13,567.5L1208.40,574.7L1208.66,569.6L1208.92,555.2L1209.18,533.5L1209.44,508.0L1209.70,482.5L1209.96,460.8L1210.22,446.4L1210.48,441.3L1210.93,448.5L1211.33,461.0L1211.73,484.5L1213.10,620.2L1213.39,610.3L1213.67,581.9L1213.96,539.6L1214.24,489.6L1214.53,439.6L1214.81,397.3L1215.10,368.9L1215.38,359.0L1215.65,371.4L1215.92,406.7L1216.20,459.5L1216.47,521.8L1216.74,584.0L1217.01,636.8L1217.28,672.1L1217.55,684.5L1217.82,665.9L1218.09,613.9L1218.36,538.6L1218.63,455.2L1218.90,379.9L1219.16,327.9L1219.43,309.3L1219.70,327.8L1219.98,379.8L1220.25,454.8L1220.52,538.2L1220.79,613.2L1221.06,665.2L1221.33,683.7L1221.62,660.4L1221.92,596.7L1222.21,509.6L1222.50,422.6L1222.79,358.8L1223.08,335.5L1223.37,351.6L1223.65,396.8L1223.93,462.0L1224.22,534.4L1224.50,599.6L1224.78,644.8L1225.07,660.9L1225.33,646.3L1225.59,605.3L1225.85,546.0L1226.11,480.2L1226.38,420.9L1226.64,379.9L1226.90,365.3L1227.15,376.9L1227.40,409.4L1227.66,456.3L1227.91,508.3L1228.16,555.2L1228.41,587.7L1228.67,599.3L1228.92,589.9L1229.17,564.3L1229.42,529.2L1229.67,494.2L1229.92,468.6L1230.17,459.2L1230.46,468.9L1230.75,494.2L1231.04,525.4L1231.33,550.7L1231.62,560.4L1231.90,551.8L1232.19,528.5L1232.47,496.5L1232.76,464.6L1233.05,441.2L1233.33,432.6L1234.30,522.0L1234.62,536.1L1234.88,543.9L1235.55,536.9L1235.87,543.9L1236.18,553.3L1236.52,557.2L1236.92,543.9L1237.23,504.7L1237.48,465.5L1238.15,408.2L1238.43,421.9L1238.71,459.4L1238.99,510.5L1239.27,561.7L1239.55,599.2L1239.83,612.9L1240.09,600.2L1240.34,565.5L1240.59,518.0L1240.84,470.6L1241.10,435.8L1241.35,423.1L1241.63,439.1L1241.91,481.1L1242.19,532.9L1242.47,574.9L1242.75,590.9L1243.02,579.5L1243.29,548.2L1243.56,505.6L1243.83,462.9L1244.10,431.7L1244.37,420.3L1244.64,432.3L1244.91,464.9L1245.17,509.5L1245.44,554.2L1245.71,586.8L1245.98,598.8L1246.24,585.8L1246.51,550.3L1246.77,501.8L1247.03,453.3L1247.29,417.8L1247.55,404.8L1247.80,419.4L1248.06,459.3L1248.31,513.9L1248.56,568.4L1248.81,608.4L1249.07,623.0L1249.35,600.9L1249.64,543.1L1249.93,471.7L1250.21,413.9L1250.50,391.8L1250.79,410.0L1251.08,457.6L1251.37,516.5L1251.66,564.1L1251.95,582.3L1252.24,564.2L1252.53,520.4L1252.82,476.5L1253.12,458.4L1253.36,470.3L1253.61,501.6L1253.86,540.2L1254.10,571.5L1254.35,583.4L1254.63,566.0L1254.90,520.3L1255.18,464.0L1255.46,418.3L1255.73,400.9L1256.00,419.9L1256.27,469.7L1256.54,531.2L1256.81,581.0L1257.08,600.0L1257.36,587.1L1257.64,553.4L1257.92,511.6L1258.20,477.9L1258.48,465.0L1259.00,489.0L1259.47,511.8L1259.78,507.8L1260.17,490.6L1260.57,488.7L1260.97,504.7L1261.48,523.5L1261.82,529.8L1262.13,525.1L1262.53,511.0L1263.00,497.6L1263.43,507.8L1263.83,515.4L1264.22,507.8L1264.62,498.4L1265.02,496.1L1265.40,499.2L1265.80,509.4L1266.10,516.0L1266.35,523.4L1266.63,522.3L1266.95,512.1L1267.37,496.9L1267.80,489.2L1268.12,487.3L1268.44,490.5L1268.75,498.1L1269.07,508.3L1269.50,519.8L1269.82,523.6L1270.09,524.3L1270.45,522.6L1270.88,517.2L1271.20,508.3L1271.52,502.6L1271.83,500.7L1272.26,499.7L1272.58,496.2L1272.90,492.8L1273.21,492.0L1273.53,494.3L1273.85,500.7L1274.17,509.6L1274.49,519.8L1274.81,533.8L1275.19,535.3L1275.44,527.4L1275.76,507.0L1276.08,486.7L1276.51,482.2L1276.72,486.7L1277.04,502.0L1277.36,517.2L1277.57,523.6L1277.95,522.3L1278.20,514.7L1278.52,500.7L1278.84,488.6L1279.16,487.3L1279.44,491.8L1279.69,502.0L1280.01,514.7L1280.33,523.6L1280.54,526.4L1280.86,522.3L1281.18,513.4L1281.50,507.0L1281.86,503.9L1282.24,505.8L1282.56,512.1L1282.98,514.7L1283.30,510.9L1283.62,502.0L1284.05,490.5L1284.36,486.7L1284.68,488.6L1285.00,499.4L1285.32,510.9L1285.64,516.6L1286.06,514.7L1286.49,508.3L1286.81,500.7L1287.02,496.9L1287.40,500.7L1287.66,514.7L1287.97,532.5L1288.36,537.0L1288.61,527.4L1288.93,507.0L1289.25,485.4L1289.57,475.2L1289.72,473.9L1289.99,481.6L1290.31,502.0L1290.63,524.9L1290.95,541.5L1291.12,544.6L1291.37,537.6L1291.69,514.7L1292.01,486.7L1292.33,465.0L1292.69,456.7L1293.03,462.5L1293.28,480.3L1293.60,512.1L1293.92,540.2L1294.24,554.2L1294.39,557.0L1294.66,552.9L1294.98,533.8L1295.30,512.1L1295.62,494.3L1295.94,485.4L1296.26,480.9L1296.68,480.0L1297.00,480.3" fill="none" stroke="#000" stroke-width="1.1" stroke-linejoin="round"/>
<path id="lowpass" d="M325.2,506.7C326.0,506.7 328.4,506.7 330.0,506.7C331.6,506.8 333.0,506.9 334.5,506.9C336.0,506.8 337.5,506.5 339.0,506.5C340.5,506.5 342.0,506.6 343.5,506.7C345.0,506.8 346.5,507.0 348.0,507.1C349.5,507.1 351.0,507.2 352.5,507.1C354.0,506.9 355.5,506.5 357.0,506.4C358.5,506.3 360.0,506.4 361.5,506.4C363.0,506.4 364.5,506.3 366.0,506.3C367.5,506.3 369.0,506.6 370.5,506.6C372.0,506.6 373.5,506.3 375.0,506.3C376.5,506.3 378.0,506.6 379.5,506.7C381.0,506.8 382.5,506.9 384.0,506.8C385.5,506.8 387.0,506.5 388.5,506.5C390.0,506.5 391.5,506.8 393.0,506.9C394.5,506.9 396.0,506.9 397.5,506.8C399.0,506.7 400.5,506.3 402.0,506.3C403.5,506.3 405.0,506.7 406.5,506.8C408.0,506.8 409.5,506.5 411.0,506.5C412.5,506.5 414.0,506.6 415.5,506.6C417.0,506.6 418.5,506.5 420.0,506.5C421.5,506.5 423.0,506.9 424.5,506.9C426.0,506.9 427.5,506.7 429.0,506.6C430.5,506.6 432.0,506.4 433.5,506.4C435.0,506.4 436.5,506.6 438.0,506.7C439.5,506.8 441.0,507.0 442.5,507.0C444.0,506.9 445.5,506.6 447.0,506.5C448.5,506.4 450.0,506.4 451.5,506.4C453.0,506.5 454.5,506.5 456.0,506.6C457.5,506.7 459.0,507.0 460.5,507.1C462.0,507.2 463.5,507.2 465.0,507.1C466.5,507.1 468.0,506.9 469.5,506.9C471.0,506.8 472.5,507.0 474.0,507.1C475.5,507.1 477.0,507.1 478.5,507.0C480.0,506.9 481.5,506.7 483.0,506.6C484.5,506.5 486.0,506.3 487.5,506.3C489.0,506.4 490.5,506.8 492.0,506.8C493.5,506.9 495.0,506.8 496.5,506.8C498.0,506.7 499.5,506.6 501.0,506.6C502.5,506.5 504.0,506.4 505.5,506.5C507.0,506.5 508.5,506.6 510.0,506.6C511.5,506.7 513.0,506.7 514.5,506.7C516.0,506.7 517.5,506.5 519.0,506.5C520.5,506.5 522.0,506.5 523.5,506.5C525.0,506.5 526.5,506.6 528.0,506.7C529.5,506.7 531.0,507.0 532.5,507.0C534.0,507.0 535.5,506.9 537.0,506.8C538.5,506.7 540.0,506.6 541.5,506.5C543.0,506.5 544.5,506.5 546.0,506.5C547.5,506.5 549.0,506.7 550.5,506.7C552.0,506.6 553.5,506.5 555.0,506.4C556.5,506.4 558.0,506.4 559.5,506.4C561.0,506.5 562.5,506.7 564.0,506.7C565.5,506.7 567.0,506.3 568.5,506.3C570.0,506.3 571.5,506.6 573.0,506.7C574.5,506.7 576.0,506.5 577.5,506.6C579.0,506.6 580.5,506.8 582.0,506.9C583.5,506.9 585.0,506.9 586.5,506.9C588.0,506.9 589.5,506.9 591.0,506.9C592.5,506.9 594.0,506.9 595.5,506.9C597.0,506.8 598.5,506.6 600.0,506.6C601.5,506.6 603.0,506.9 604.5,506.9C606.0,506.8 607.5,506.6 609.0,506.6C610.5,506.5 612.0,506.8 613.5,506.8C615.0,506.8 616.5,506.6 618.0,506.5C619.5,506.5 621.0,506.7 622.5,506.7C624.0,506.6 625.5,506.3 627.0,506.3C628.5,506.3 630.0,506.3 631.5,506.5C633.0,506.6 634.5,507.1 636.0,507.1C637.5,507.1 639.0,506.5 640.5,506.5C642.0,506.4 643.5,506.8 645.0,506.9C646.5,506.9 648.0,506.8 649.5,506.8C651.0,506.8 652.5,506.9 654.0,506.9C655.5,506.9 657.0,506.7 658.5,506.7C660.0,506.7 661.5,506.8 663.0,506.8C664.5,506.7 666.0,506.4 667.5,506.3C669.0,506.2 670.5,506.3 672.0,506.3C673.5,506.3 675.0,506.4 676.5,506.4C678.0,506.4 679.5,506.4 681.0,506.4C682.5,506.4 684.0,506.3 685.5,506.3C687.0,506.3 688.5,506.3 690.0,506.4C691.5,506.4 693.0,506.7 694.5,506.7C696.0,506.8 697.5,506.4 699.0,506.4C700.5,506.5 702.0,507.0 703.5,507.1C705.0,507.2 706.5,506.9 708.0,506.9C709.5,506.8 711.0,506.7 712.5,506.7C714.0,506.7 715.5,506.9 717.0,506.9C718.5,506.8 720.0,506.5 721.5,506.5C723.0,506.5 724.5,507.0 726.0,507.1C727.5,507.2 729.0,507.0 730.5,507.0C732.0,507.0 733.5,507.0 735.0,506.9C736.5,506.8 738.0,506.7 739.5,506.7C741.0,506.7 742.5,507.0 744.0,507.0C745.5,507.0 747.0,506.9 748.5,506.9C750.0,506.9 751.5,506.8 753.0,506.8C754.5,506.9 756.0,507.1 757.5,507.1C759.0,507.1 760.5,506.9 762.0,506.8C763.5,506.7 765.0,506.6 766.5,506.6C768.0,506.6 769.5,506.8 771.0,506.7C772.5,506.7 774.0,506.5 775.5,506.4C777.0,506.4 778.5,506.3 780.0,506.4C781.5,506.5 783.0,506.8 784.5,506.9C786.0,507.0 787.5,506.9 789.0,507.0C790.5,507.0 792.0,507.1 793.5,507.1C795.0,507.1 796.5,507.1 798.0,507.0C799.5,507.0 801.0,506.9 802.5,506.7C804.0,506.6 805.5,506.3 807.0,506.3C808.5,506.3 810.0,506.6 811.5,506.7C813.0,506.8 814.5,507.0 816.0,507.1C817.5,507.1 819.0,507.0 820.5,507.0C822.0,506.9 823.5,506.7 825.0,506.7C826.5,506.6 828.0,506.7 829.5,506.7C831.0,506.6 832.5,506.5 834.0,506.4C835.5,506.4 837.0,506.4 838.5,506.4C840.0,506.4 841.5,506.2 843.0,506.3C844.5,506.4 846.0,507.0 847.5,507.1C849.0,507.1 850.5,506.9 852.0,506.8C853.5,506.7 855.0,506.4 856.5,506.4C858.0,506.3 859.5,506.6 861.0,506.6C862.5,506.6 864.0,506.3 865.5,506.3C867.0,506.3 868.5,506.3 870.0,506.4C871.5,506.5 873.0,506.8 874.5,506.9C876.0,507.0 877.5,506.9 879.0,506.8C880.5,506.8 882.0,506.7 883.5,506.7C885.0,506.6 886.5,506.5 888.0,506.5C889.5,506.5 891.0,506.7 892.5,506.8C894.0,506.9 895.5,507.1 897.0,507.1C898.5,507.1 900.0,506.8 901.5,506.6C903.0,506.5 904.5,506.4 906.0,506.3C907.5,506.3 909.0,506.3 910.5,506.3C912.0,506.3 913.5,506.2 915.0,506.3C916.5,506.5 918.0,507.0 919.5,507.1C921.0,507.2 922.5,506.8 924.0,506.7C925.5,506.7 927.0,507.1 928.5,507.0C930.0,506.9 931.5,506.5 933.0,506.4C934.5,506.3 936.0,506.4 937.5,506.5C939.0,506.6 940.5,506.8 942.0,506.9C943.5,507.0 945.0,507.1 946.5,507.1C948.0,507.0 949.5,506.7 951.0,506.6C952.5,506.4 954.0,506.2 955.5,506.3C957.0,506.4 958.5,507.0 960.0,507.0C961.5,507.1 963.0,506.5 964.5,506.5C966.0,506.5 967.5,506.9 969.0,506.9C970.5,506.9 972.0,506.4 973.5,506.4C975.0,506.4 976.5,506.8 978.0,506.9C979.5,507.0 981.0,507.0 982.5,507.0C984.0,507.0 985.5,506.9 987.0,506.9C988.5,506.9 990.1,506.9 991.6,507.0C993.2,507.2 995.0,507.6 996.3,507.7C997.6,507.7 998.3,507.9 999.4,507.3C1000.6,506.8 1001.9,503.5 1003.4,504.2C1004.8,504.9 1006.4,512.0 1008.1,511.7C1009.7,511.5 1011.7,503.0 1013.2,502.6C1014.8,502.3 1016.0,509.5 1017.5,509.7C1018.9,509.9 1020.7,504.2 1022.2,503.9C1023.6,503.6 1024.8,507.8 1026.1,508.1C1027.4,508.4 1028.9,505.8 1030.0,505.8C1031.1,505.8 1031.6,508.1 1032.5,508.2C1033.5,508.2 1034.7,506.2 1035.7,506.2C1036.8,506.2 1037.9,508.4 1038.9,508.2C1040.0,507.9 1040.9,505.0 1042.1,505.0C1043.3,505.0 1044.6,508.3 1045.9,508.2C1047.2,508.0 1048.5,504.2 1049.7,504.3C1051.0,504.4 1052.4,508.7 1053.6,508.8C1054.7,508.9 1055.6,505.0 1056.8,505.0C1057.9,505.0 1059.4,508.8 1060.6,508.8C1061.7,508.8 1062.7,505.0 1063.8,505.0C1064.8,505.0 1065.9,508.6 1066.9,508.8C1068.0,509.0 1069.0,506.6 1070.1,506.2C1071.3,505.9 1072.8,506.7 1073.9,506.9C1075.1,507.1 1076.0,507.9 1077.1,507.5C1078.3,507.1 1079.7,504.0 1081.0,504.3C1082.2,504.6 1083.7,509.0 1084.8,509.4C1085.8,509.9 1086.3,506.7 1087.3,506.9C1088.4,507.1 1089.9,511.5 1091.1,510.7C1092.4,509.9 1093.5,501.9 1094.7,501.8C1095.9,501.7 1097.1,509.9 1098.2,510.1C1099.2,510.3 1100.1,503.1 1101.1,503.1C1102.0,503.1 1102.9,510.0 1103.9,510.1C1104.9,510.2 1105.6,504.0 1107.1,503.7C1108.6,503.4 1111.1,508.3 1112.8,508.2C1114.5,508.0 1115.9,502.6 1117.3,503.1C1118.6,503.5 1119.8,510.5 1121.1,510.7C1122.4,510.9 1123.7,505.3 1124.9,504.3C1126.1,503.4 1127.0,504.0 1128.1,505.0C1129.2,505.9 1130.0,510.7 1131.3,510.1C1132.5,509.4 1134.2,500.5 1135.7,501.2C1137.2,501.8 1138.8,514.3 1140.2,513.9C1141.6,513.5 1142.6,498.7 1144.0,498.6C1145.5,498.5 1147.4,513.7 1148.9,513.3C1150.4,512.9 1151.6,495.1 1152.9,496.1C1154.3,497.0 1155.7,519.4 1157.0,519.0C1158.4,518.6 1159.7,493.4 1161.0,493.5C1162.2,493.6 1163.5,519.7 1164.7,519.7C1165.9,519.7 1167.0,493.5 1168.2,493.5C1169.4,493.5 1170.6,520.0 1171.8,519.7C1173.0,519.3 1174.3,490.8 1175.5,491.6C1176.7,492.5 1177.9,525.5 1179.1,524.8C1180.3,524.0 1181.5,486.8 1182.6,487.2C1183.8,487.5 1184.9,526.9 1186.1,526.7C1187.2,526.5 1188.5,484.7 1189.6,485.9C1190.8,487.1 1192.0,535.3 1193.1,533.7C1194.2,532.1 1195.3,476.1 1196.3,476.3C1197.3,476.5 1198.2,533.6 1199.2,535.0C1200.2,536.3 1201.3,487.3 1202.3,484.6C1203.3,482.0 1204.0,516.8 1205.2,519.0C1206.4,521.3 1208.4,497.4 1209.7,498.0C1210.9,498.6 1211.7,524.0 1212.6,522.8C1213.5,521.7 1214.2,491.5 1215.1,491.0C1216.0,490.5 1217.1,518.3 1217.9,519.7C1218.8,521.0 1219.2,500.4 1220.2,499.3C1221.3,498.1 1223.1,513.2 1224.3,512.6C1225.5,512.1 1226.3,495.4 1227.2,496.1C1228.2,496.7 1229.1,516.2 1230.1,516.5C1231.0,516.8 1232.0,498.2 1233.0,498.0C1233.9,497.8 1234.9,515.3 1235.8,515.2C1236.7,515.1 1237.5,497.6 1238.3,497.4C1239.2,497.1 1240.0,513.0 1240.9,513.9C1241.7,514.9 1242.5,503.8 1243.4,503.1C1244.4,502.3 1245.6,509.4 1246.6,509.5C1247.7,509.6 1248.7,503.7 1249.8,503.7C1250.9,503.7 1251.9,509.5 1253.0,509.5C1254.1,509.5 1255.2,503.7 1256.2,503.7C1257.1,503.7 1257.9,509.6 1258.7,509.5C1259.6,509.4 1260.4,503.1 1261.3,503.1C1262.1,503.1 1262.9,509.1 1263.8,509.5C1264.8,509.8 1266.0,504.9 1267.0,505.0C1268.1,505.1 1269.2,510.2 1270.2,510.1C1271.2,510.0 1271.8,504.5 1272.7,504.4C1273.7,504.3 1275.0,509.6 1275.9,509.5C1276.9,509.4 1277.5,503.7 1278.5,503.7C1279.4,503.7 1280.6,509.7 1281.7,509.5C1282.7,509.2 1283.8,502.5 1284.9,502.5C1285.9,502.5 1287.0,509.7 1288.0,509.5C1289.0,509.2 1289.9,501.7 1290.8,501.2C1291.8,500.6 1292.9,505.5 1293.8,506.3C1294.7,507.1 1295.9,506.1 1296.3,506.0" fill="none" stroke="#cdcd00" stroke-width="2.3" stroke-linejoin="round"/>
<path d="M332.0,710.10H413.5L416.5,709.15H512.5L515.5,708.20H603.5L606.5,707.25H687.5L690.5,706.30H765.5L768.5,705.35H836.5L839.5,704.40H898.5L901.5,703.45H955.5L958.5,702.50H1008.5L1011.5,701.55H1072.5L1075.5,700.60H1133.5L1136.5,699.65H1193.5L1196.5,698.70H1251.5L1254.5,697.75H1303.7" stroke="#ff0000" stroke-width="4.2" stroke-linecap="round" stroke-linejoin="round"/>
<g stroke="#bebebe" stroke-width="2.3"><line x1="211.7" y1="498.6" x2="211.7" y2="515.0"/><line x1="204.3" y1="498.6" x2="219.1" y2="498.6"/><line x1="204.3" y1="515.0" x2="219.1" y2="515.0"/></g>
<circle cx="211.6" cy="506.8" r="4.35" fill="#000"/>
</g>
<g id="frame" fill="none" stroke="#000">
<rect x="163.2" y="110.6" width="1296.20" height="792.10" stroke-width="2.7" stroke-linejoin="miter"/>
</g>
<g id="ticks" stroke="#000" stroke-width="1.05">
<line x1="163.20" y1="902.70" x2="163.20" y2="914.50" stroke="#000" stroke-width="1.05" />
<line x1="163.20" y1="110.60" x2="163.20" y2="98.80" stroke="#000" stroke-width="1.05" />
<line x1="179.40" y1="902.70" x2="179.40" y2="908.30" stroke="#000" stroke-width="1.05" />
<line x1="179.40" y1="110.60" x2="179.40" y2="105.00" stroke="#000" stroke-width="1.05" />
<line x1="195.60" y1="902.70" x2="195.60" y2="908.30" stroke="#000" stroke-width="1.05" />
<line x1="195.60" y1="110.60" x2="195.60" y2="105.00" stroke="#000" stroke-width="1.05" />
<line x1="211.81" y1="902.70" x2="211.81" y2="908.30" stroke="#000" stroke-width="1.05" />
<line x1="211.81" y1="110.60" x2="211.81" y2="105.00" stroke="#000" stroke-width="1.05" />
<line x1="228.01" y1="902.70" x2="228.01" y2="908.30" stroke="#000" stroke-width="1.05" />
<line x1="228.01" y1="110.60" x2="228.01" y2="105.00" stroke="#000" stroke-width="1.05" />
<line x1="244.21" y1="902.70" x2="244.21" y2="908.30" stroke="#000" stroke-width="1.05" />
<line x1="244.21" y1="110.60" x2="244.21" y2="105.00" stroke="#000" stroke-width="1.05" />
<line x1="260.41" y1="902.70" x2="260.41" y2="908.30" stroke="#000" stroke-width="1.05" />
<line x1="260.41" y1="110.60" x2="260.41" y2="105.00" stroke="#000" stroke-width="1.05" />
<line x1="276.62" y1="902.70" x2="276.62" y2="908.30" stroke="#000" stroke-width="1.05" />
<line x1="276.62" y1="110.60" x2="276.62" y2="105.00" stroke="#000" stroke-width="1.05" />
<line x1="292.82" y1="902.70" x2="292.82" y2="908.30" stroke="#000" stroke-width="1.05" />
<line x1="292.82" y1="110.60" x2="292.82" y2="105.00" stroke="#000" stroke-width="1.05" />
<line x1="309.02" y1="902.70" x2="309.02" y2="908.30" stroke="#000" stroke-width="1.05" />
<line x1="309.02" y1="110.60" x2="309.02" y2="105.00" stroke="#000" stroke-width="1.05" />
<line x1="325.23" y1="902.70" x2="325.23" y2="914.50" stroke="#000" stroke-width="1.05" />
<line x1="325.23" y1="110.60" x2="325.23" y2="98.80" stroke="#000" stroke-width="1.05" />
<line x1="341.43" y1="902.70" x2="341.43" y2="908.30" stroke="#000" stroke-width="1.05" />
<line x1="341.43" y1="110.60" x2="341.43" y2="105.00" stroke="#000" stroke-width="1.05" />
<line x1="357.63" y1="902.70" x2="357.63" y2="908.30" stroke="#000" stroke-width="1.05" />
<line x1="357.63" y1="110.60" x2="357.63" y2="105.00" stroke="#000" stroke-width="1.05" />
<line x1="373.83" y1="902.70" x2="373.83" y2="908.30" stroke="#000" stroke-width="1.05" />
<line x1="373.83" y1="110.60" x2="373.83" y2="105.00" stroke="#000" stroke-width="1.05" />
<line x1="390.03" y1="902.70" x2="390.03" y2="908.30" stroke="#000" stroke-width="1.05" />
<line x1="390.03" y1="110.60" x2="390.03" y2="105.00" stroke="#000" stroke-width="1.05" />
<line x1="406.24" y1="902.70" x2="406.24" y2="908.30" stroke="#000" stroke-width="1.05" />
<line x1="406.24" y1="110.60" x2="406.24" y2="105.00" stroke="#000" stroke-width="1.05" />
<line x1="422.44" y1="902.70" x2="422.44" y2="908.30" stroke="#000" stroke-width="1.05" />
<line x1="422.44" y1="110.60" x2="422.44" y2="105.00" stroke="#000" stroke-width="1.05" />
<line x1="438.64" y1="902.70" x2="438.64" y2="908.30" stroke="#000" stroke-width="1.05" />
<line x1="438.64" y1="110.60" x2="438.64" y2="105.00" stroke="#000" stroke-width="1.05" />
<line x1="454.85" y1="902.70" x2="454.85" y2="908.30" stroke="#000" stroke-width="1.05" />
<line x1="454.85" y1="110.60" x2="454.85" y2="105.00" stroke="#000" stroke-width="1.05" />
<line x1="471.05" y1="902.70" x2="471.05" y2="908.30" stroke="#000" stroke-width="1.05" />
<line x1="471.05" y1="110.60" x2="471.05" y2="105.00" stroke="#000" stroke-width="1.05" />
<line x1="487.25" y1="902.70" x2="487.25" y2="914.50" stroke="#000" stroke-width="1.05" />
<line x1="487.25" y1="110.60" x2="487.25" y2="98.80" stroke="#000" stroke-width="1.05" />
<line x1="503.45" y1="902.70" x2="503.45" y2="908.30" stroke="#000" stroke-width="1.05" />
<line x1="503.45" y1="110.60" x2="503.45" y2="105.00" stroke="#000" stroke-width="1.05" />
<line x1="519.65" y1="902.70" x2="519.65" y2="908.30" stroke="#000" stroke-width="1.05" />
<line x1="519.65" y1="110.60" x2="519.65" y2="105.00" stroke="#000" stroke-width="1.05" />
<line x1="535.86" y1="902.70" x2="535.86" y2="908.30" stroke="#000" stroke-width="1.05" />
<line x1="535.86" y1="110.60" x2="535.86" y2="105.00" stroke="#000" stroke-width="1.05" />
<line x1="552.06" y1="902.70" x2="552.06" y2="908.30" stroke="#000" stroke-width="1.05" />
<line x1="552.06" y1="110.60" x2="552.06" y2="105.00" stroke="#000" stroke-width="1.05" />
<line x1="568.26" y1="902.70" x2="568.26" y2="908.30" stroke="#000" stroke-width="1.05" />
<line x1="568.26" y1="110.60" x2="568.26" y2="105.00" stroke="#000" stroke-width="1.05" />
<line x1="584.47" y1="902.70" x2="584.47" y2="908.30" stroke="#000" stroke-width="1.05" />
<line x1="584.47" y1="110.60" x2="584.47" y2="105.00" stroke="#000" stroke-width="1.05" />
<line x1="600.67" y1="902.70" x2="600.67" y2="908.30" stroke="#000" stroke-width="1.05" />
<line x1="600.67" y1="110.60" x2="600.67" y2="105.00" stroke="#000" stroke-width="1.05" />
<line x1="616.87" y1="902.70" x2="616.87" y2="908.30" stroke="#000" stroke-width="1.05" />
<line x1="616.87" y1="110.60" x2="616.87" y2="105.00" stroke="#000" stroke-width="1.05" />
<line x1="633.07" y1="902.70" x2="633.07" y2="908.30" stroke="#000" stroke-width="1.05" />
<line x1="633.07" y1="110.60" x2="633.07" y2="105.00" stroke="#000" stroke-width="1.05" />
<line x1="649.27" y1="902.70" x2="649.27" y2="914.50" stroke="#000" stroke-width="1.05" />
<line x1="649.27" y1="110.60" x2="649.27" y2="98.80" stroke="#000" stroke-width="1.05" />
<line x1="665.48" y1="902.70" x2="665.48" y2="908.30" stroke="#000" stroke-width="1.05" />
<line x1="665.48" y1="110.60" x2="665.48" y2="105.00" stroke="#000" stroke-width="1.05" />
<line x1="681.68" y1="902.70" x2="681.68" y2="908.30" stroke="#000" stroke-width="1.05" />
<line x1="681.68" y1="110.60" x2="681.68" y2="105.00" stroke="#000" stroke-width="1.05" />
<line x1="697.88" y1="902.70" x2="697.88" y2="908.30" stroke="#000" stroke-width="1.05" />
<line x1="697.88" y1="110.60" x2="697.88" y2="105.00" stroke="#000" stroke-width="1.05" />
<line x1="714.09" y1="902.70" x2="714.09" y2="908.30" stroke="#000" stroke-width="1.05" />
<line x1="714.09" y1="110.60" x2="714.09" y2="105.00" stroke="#000" stroke-width="1.05" />
<line x1="730.29" y1="902.70" x2="730.29" y2="908.30" stroke="#000" stroke-width="1.05" />
<line x1="730.29" y1="110.60" x2="730.29" y2="105.00" stroke="#000" stroke-width="1.05" />
<line x1="746.49" y1="902.70" x2="746.49" y2="908.30" stroke="#000" stroke-width="1.05" />
<line x1="746.49" y1="110.60" x2="746.49" y2="105.00" stroke="#000" stroke-width="1.05" />
<line x1="762.69" y1="902.70" x2="762.69" y2="908.30" stroke="#000" stroke-width="1.05" />
<line x1="762.69" y1="110.60" x2="762.69" y2="105.00" stroke="#000" stroke-width="1.05" />
<line x1="778.89" y1="902.70" x2="778.89" y2="908.30" stroke="#000" stroke-width="1.05" />
<line x1="778.89" y1="110.60" x2="778.89" y2="105.00" stroke="#000" stroke-width="1.05" />
<line x1="795.10" y1="902.70" x2="795.10" y2="908.30" stroke="#000" stroke-width="1.05" />
<line x1="795.10" y1="110.60" x2="795.10" y2="105.00" stroke="#000" stroke-width="1.05" />
<line x1="811.30" y1="902.70" x2="811.30" y2="914.50" stroke="#000" stroke-width="1.05" />
<line x1="811.30" y1="110.60" x2="811.30" y2="98.80" stroke="#000" stroke-width="1.05" />
<line x1="827.50" y1="902.70" x2="827.50" y2="908.30" stroke="#000" stroke-width="1.05" />
<line x1="827.50" y1="110.60" x2="827.50" y2="105.00" stroke="#000" stroke-width="1.05" />
<line x1="843.70" y1="902.70" x2="843.70" y2="908.30" stroke="#000" stroke-width="1.05" />
<line x1="843.70" y1="110.60" x2="843.70" y2="105.00" stroke="#000" stroke-width="1.05" />
<line x1="859.91" y1="902.70" x2="859.91" y2="908.30" stroke="#000" stroke-width="1.05" />
<line x1="859.91" y1="110.60" x2="859.91" y2="105.00" stroke="#000" stroke-width="1.05" />
<line x1="876.11" y1="902.70" x2="876.11" y2="908.30" stroke="#000" stroke-width="1.05" />
<line x1="876.11" y1="110.60" x2="876.11" y2="105.00" stroke="#000" stroke-width="1.05" />
<line x1="892.31" y1="902.70" x2="892.31" y2="908.30" stroke="#000" stroke-width="1.05" />
<line x1="892.31" y1="110.60" x2="892.31" y2="105.00" stroke="#000" stroke-width="1.05" />
<line x1="908.52" y1="902.70" x2="908.52" y2="908.30" stroke="#000" stroke-width="1.05" />
<line x1="908.52" y1="110.60" x2="908.52" y2="105.00" stroke="#000" stroke-width="1.05" />
<line x1="924.72" y1="902.70" x2="924.72" y2="908.30" stroke="#000" stroke-width="1.05" />
<line x1="924.72" y1="110.60" x2="924.72" y2="105.00" stroke="#000" stroke-width="1.05" />
<line x1="940.92" y1="902.70" x2="940.92" y2="908.30" stroke="#000" stroke-width="1.05" />
<line x1="940.92" y1="110.60" x2="940.92" y2="105.00" stroke="#000" stroke-width="1.05" />
<line x1="957.12" y1="902.70" x2="957.12" y2="908.30" stroke="#000" stroke-width="1.05" />
<line x1="957.12" y1="110.60" x2="957.12" y2="105.00" stroke="#000" stroke-width="1.05" />
<line x1="973.33" y1="902.70" x2="973.33" y2="914.50" stroke="#000" stroke-width="1.05" />
<line x1="973.33" y1="110.60" x2="973.33" y2="98.80" stroke="#000" stroke-width="1.05" />
<line x1="989.53" y1="902.70" x2="989.53" y2="908.30" stroke="#000" stroke-width="1.05" />
<line x1="989.53" y1="110.60" x2="989.53" y2="105.00" stroke="#000" stroke-width="1.05" />
<line x1="1005.73" y1="902.70" x2="1005.73" y2="908.30" stroke="#000" stroke-width="1.05" />
<line x1="1005.73" y1="110.60" x2="1005.73" y2="105.00" stroke="#000" stroke-width="1.05" />
<line x1="1021.93" y1="902.70" x2="1021.93" y2="908.30" stroke="#000" stroke-width="1.05" />
<line x1="1021.93" y1="110.60" x2="1021.93" y2="105.00" stroke="#000" stroke-width="1.05" />
<line x1="1038.13" y1="902.70" x2="1038.13" y2="908.30" stroke="#000" stroke-width="1.05" />
<line x1="1038.13" y1="110.60" x2="1038.13" y2="105.00" stroke="#000" stroke-width="1.05" />
<line x1="1054.34" y1="902.70" x2="1054.34" y2="908.30" stroke="#000" stroke-width="1.05" />
<line x1="1054.34" y1="110.60" x2="1054.34" y2="105.00" stroke="#000" stroke-width="1.05" />
<line x1="1070.54" y1="902.70" x2="1070.54" y2="908.30" stroke="#000" stroke-width="1.05" />
<line x1="1070.54" y1="110.60" x2="1070.54" y2="105.00" stroke="#000" stroke-width="1.05" />
<line x1="1086.74" y1="902.70" x2="1086.74" y2="908.30" stroke="#000" stroke-width="1.05" />
<line x1="1086.74" y1="110.60" x2="1086.74" y2="105.00" stroke="#000" stroke-width="1.05" />
<line x1="1102.95" y1="902.70" x2="1102.95" y2="908.30" stroke="#000" stroke-width="1.05" />
<line x1="1102.95" y1="110.60" x2="1102.95" y2="105.00" stroke="#000" stroke-width="1.05" />
<line x1="1119.15" y1="902.70" x2="1119.15" y2="908.30" stroke="#000" stroke-width="1.05" />
<line x1="1119.15" y1="110.60" x2="1119.15" y2="105.00" stroke="#000" stroke-width="1.05" />
<line x1="1135.35" y1="902.70" x2="1135.35" y2="914.50" stroke="#000" stroke-width="1.05" />
<line x1="1135.35" y1="110.60" x2="1135.35" y2="98.80" stroke="#000" stroke-width="1.05" />
<line x1="1151.55" y1="902.70" x2="1151.55" y2="908.30" stroke="#000" stroke-width="1.05" />
<line x1="1151.55" y1="110.60" x2="1151.55" y2="105.00" stroke="#000" stroke-width="1.05" />
<line x1="1167.76" y1="902.70" x2="1167.76" y2="908.30" stroke="#000" stroke-width="1.05" />
<line x1="1167.76" y1="110.60" x2="1167.76" y2="105.00" stroke="#000" stroke-width="1.05" />
<line x1="1183.96" y1="902.70" x2="1183.96" y2="908.30" stroke="#000" stroke-width="1.05" />
<line x1="1183.96" y1="110.60" x2="1183.96" y2="105.00" stroke="#000" stroke-width="1.05" />
<line x1="1200.16" y1="902.70" x2="1200.16" y2="908.30" stroke="#000" stroke-width="1.05" />
<line x1="1200.16" y1="110.60" x2="1200.16" y2="105.00" stroke="#000" stroke-width="1.05" />
<line x1="1216.36" y1="902.70" x2="1216.36" y2="908.30" stroke="#000" stroke-width="1.05" />
<line x1="1216.36" y1="110.60" x2="1216.36" y2="105.00" stroke="#000" stroke-width="1.05" />
<line x1="1232.57" y1="902.70" x2="1232.57" y2="908.30" stroke="#000" stroke-width="1.05" />
<line x1="1232.57" y1="110.60" x2="1232.57" y2="105.00" stroke="#000" stroke-width="1.05" />
<line x1="1248.77" y1="902.70" x2="1248.77" y2="908.30" stroke="#000" stroke-width="1.05" />
<line x1="1248.77" y1="110.60" x2="1248.77" y2="105.00" stroke="#000" stroke-width="1.05" />
<line x1="1264.97" y1="902.70" x2="1264.97" y2="908.30" stroke="#000" stroke-width="1.05" />
<line x1="1264.97" y1="110.60" x2="1264.97" y2="105.00" stroke="#000" stroke-width="1.05" />
<line x1="1281.17" y1="902.70" x2="1281.17" y2="908.30" stroke="#000" stroke-width="1.05" />
<line x1="1281.17" y1="110.60" x2="1281.17" y2="105.00" stroke="#000" stroke-width="1.05" />
<line x1="1297.38" y1="902.70" x2="1297.38" y2="914.50" stroke="#000" stroke-width="1.05" />
<line x1="1297.38" y1="110.60" x2="1297.38" y2="98.80" stroke="#000" stroke-width="1.05" />
<line x1="1313.58" y1="902.70" x2="1313.58" y2="908.30" stroke="#000" stroke-width="1.05" />
<line x1="1313.58" y1="110.60" x2="1313.58" y2="105.00" stroke="#000" stroke-width="1.05" />
<line x1="1329.78" y1="902.70" x2="1329.78" y2="908.30" stroke="#000" stroke-width="1.05" />
<line x1="1329.78" y1="110.60" x2="1329.78" y2="105.00" stroke="#000" stroke-width="1.05" />
<line x1="1345.98" y1="902.70" x2="1345.98" y2="908.30" stroke="#000" stroke-width="1.05" />
<line x1="1345.98" y1="110.60" x2="1345.98" y2="105.00" stroke="#000" stroke-width="1.05" />
<line x1="1362.19" y1="902.70" x2="1362.19" y2="908.30" stroke="#000" stroke-width="1.05" />
<line x1="1362.19" y1="110.60" x2="1362.19" y2="105.00" stroke="#000" stroke-width="1.05" />
<line x1="1378.39" y1="902.70" x2="1378.39" y2="908.30" stroke="#000" stroke-width="1.05" />
<line x1="1378.39" y1="110.60" x2="1378.39" y2="105.00" stroke="#000" stroke-width="1.05" />
<line x1="1394.59" y1="902.70" x2="1394.59" y2="908.30" stroke="#000" stroke-width="1.05" />
<line x1="1394.59" y1="110.60" x2="1394.59" y2="105.00" stroke="#000" stroke-width="1.05" />
<line x1="1410.79" y1="902.70" x2="1410.79" y2="908.30" stroke="#000" stroke-width="1.05" />
<line x1="1410.79" y1="110.60" x2="1410.79" y2="105.00" stroke="#000" stroke-width="1.05" />
<line x1="1427.00" y1="902.70" x2="1427.00" y2="908.30" stroke="#000" stroke-width="1.05" />
<line x1="1427.00" y1="110.60" x2="1427.00" y2="105.00" stroke="#000" stroke-width="1.05" />
<line x1="1443.20" y1="902.70" x2="1443.20" y2="908.30" stroke="#000" stroke-width="1.05" />
<line x1="1443.20" y1="110.60" x2="1443.20" y2="105.00" stroke="#000" stroke-width="1.05" />
<line x1="1459.40" y1="902.70" x2="1459.40" y2="914.50" stroke="#000" stroke-width="1.05" />
<line x1="1459.40" y1="110.60" x2="1459.40" y2="98.80" stroke="#000" stroke-width="1.05" />
<line x1="163.20" y1="902.70" x2="151.40" y2="902.70" stroke="#000" stroke-width="1.05" />
<line x1="163.20" y1="863.10" x2="157.60" y2="863.10" stroke="#000" stroke-width="1.05" />
<line x1="163.20" y1="823.49" x2="151.40" y2="823.49" stroke="#000" stroke-width="1.05" />
<line x1="163.20" y1="783.88" x2="157.60" y2="783.88" stroke="#000" stroke-width="1.05" />
<line x1="163.20" y1="744.28" x2="151.40" y2="744.28" stroke="#000" stroke-width="1.05" />
<line x1="163.20" y1="704.68" x2="157.60" y2="704.68" stroke="#000" stroke-width="1.05" />
<line x1="163.20" y1="665.07" x2="151.40" y2="665.07" stroke="#000" stroke-width="1.05" />
<line x1="163.20" y1="625.47" x2="157.60" y2="625.47" stroke="#000" stroke-width="1.05" />
<line x1="163.20" y1="585.86" x2="151.40" y2="585.86" stroke="#000" stroke-width="1.05" />
<line x1="163.20" y1="546.25" x2="157.60" y2="546.25" stroke="#000" stroke-width="1.05" />
<line x1="163.20" y1="506.65" x2="151.40" y2="506.65" stroke="#000" stroke-width="1.05" />
<line x1="163.20" y1="467.04" x2="157.60" y2="467.04" stroke="#000" stroke-width="1.05" />
<line x1="163.20" y1="427.44" x2="151.40" y2="427.44" stroke="#000" stroke-width="1.05" />
<line x1="163.20" y1="387.84" x2="157.60" y2="387.84" stroke="#000" stroke-width="1.05" />
<line x1="163.20" y1="348.23" x2="151.40" y2="348.23" stroke="#000" stroke-width="1.05" />
<line x1="163.20" y1="308.62" x2="157.60" y2="308.62" stroke="#000" stroke-width="1.05" />
<line x1="163.20" y1="269.02" x2="151.40" y2="269.02" stroke="#000" stroke-width="1.05" />
<line x1="163.20" y1="229.41" x2="157.60" y2="229.41" stroke="#000" stroke-width="1.05" />
<line x1="163.20" y1="189.81" x2="151.40" y2="189.81" stroke="#000" stroke-width="1.05" />
<line x1="163.20" y1="150.20" x2="157.60" y2="150.20" stroke="#000" stroke-width="1.05" />
<line x1="163.20" y1="110.60" x2="151.40" y2="110.60" stroke="#000" stroke-width="1.05" />
<line x1="1459.40" y1="473.95" x2="1465.00" y2="473.95" stroke="#000" stroke-width="1.05" />
<line x1="1459.40" y1="440.90" x2="1471.20" y2="440.90" stroke="#000" stroke-width="1.05" />
<line x1="1459.40" y1="407.85" x2="1465.00" y2="407.85" stroke="#000" stroke-width="1.05" />
<line x1="1459.40" y1="374.80" x2="1471.20" y2="374.80" stroke="#000" stroke-width="1.05" />
<line x1="1459.40" y1="341.75" x2="1465.00" y2="341.75" stroke="#000" stroke-width="1.05" />
<line x1="1459.40" y1="308.70" x2="1471.20" y2="308.70" stroke="#000" stroke-width="1.05" />
<line x1="1459.40" y1="275.65" x2="1465.00" y2="275.65" stroke="#000" stroke-width="1.05" />
<line x1="1459.40" y1="242.60" x2="1471.20" y2="242.60" stroke="#000" stroke-width="1.05" />
<line x1="1459.40" y1="209.55" x2="1465.00" y2="209.55" stroke="#000" stroke-width="1.05" />
<line x1="1459.40" y1="176.50" x2="1471.20" y2="176.50" stroke="#000" stroke-width="1.05" />
<line x1="1459.40" y1="143.45" x2="1465.00" y2="143.45" stroke="#000" stroke-width="1.05" />
<line x1="1459.40" y1="902.70" x2="1471.20" y2="902.70" stroke="#000" stroke-width="1.05" />
<line x1="1459.40" y1="889.50" x2="1465.00" y2="889.50" stroke="#000" stroke-width="1.05" />
<line x1="1459.40" y1="876.30" x2="1465.00" y2="876.30" stroke="#000" stroke-width="1.05" />
<line x1="1459.40" y1="863.10" x2="1465.00" y2="863.10" stroke="#000" stroke-width="1.05" />
<line x1="1459.40" y1="849.90" x2="1465.00" y2="849.90" stroke="#000" stroke-width="1.05" />
<line x1="1459.40" y1="836.70" x2="1471.20" y2="836.70" stroke="#000" stroke-width="1.05" />
<line x1="1459.40" y1="823.50" x2="1465.00" y2="823.50" stroke="#000" stroke-width="1.05" />
<line x1="1459.40" y1="810.30" x2="1465.00" y2="810.30" stroke="#000" stroke-width="1.05" />
<line x1="1459.40" y1="797.10" x2="1465.00" y2="797.10" stroke="#000" stroke-width="1.05" />
<line x1="1459.40" y1="783.90" x2="1465.00" y2="783.90" stroke="#000" stroke-width="1.05" />
<line x1="1459.40" y1="770.70" x2="1471.20" y2="770.70" stroke="#000" stroke-width="1.05" />
<line x1="1459.40" y1="757.50" x2="1465.00" y2="757.50" stroke="#000" stroke-width="1.05" />
<line x1="1459.40" y1="744.30" x2="1465.00" y2="744.30" stroke="#000" stroke-width="1.05" />
<line x1="1459.40" y1="731.10" x2="1465.00" y2="731.10" stroke="#000" stroke-width="1.05" />
<line x1="1459.40" y1="717.90" x2="1465.00" y2="717.90" stroke="#000" stroke-width="1.05" />
<line x1="1459.40" y1="704.70" x2="1471.20" y2="704.70" stroke="#000" stroke-width="1.05" />
<line x1="1459.40" y1="691.50" x2="1465.00" y2="691.50" stroke="#000" stroke-width="1.05" />
<line x1="1459.40" y1="678.30" x2="1465.00" y2="678.30" stroke="#000" stroke-width="1.05" />
<line x1="1459.40" y1="665.10" x2="1465.00" y2="665.10" stroke="#000" stroke-width="1.05" />
<line x1="1459.40" y1="651.90" x2="1465.00" y2="651.90" stroke="#000" stroke-width="1.05" />
<line x1="1459.40" y1="638.70" x2="1471.20" y2="638.70" stroke="#000" stroke-width="1.05" />
<line x1="1459.40" y1="625.50" x2="1465.00" y2="625.50" stroke="#000" stroke-width="1.05" />
<line x1="1459.40" y1="612.30" x2="1465.00" y2="612.30" stroke="#000" stroke-width="1.05" />
<line x1="1459.40" y1="599.10" x2="1465.00" y2="599.10" stroke="#000" stroke-width="1.05" />
<line x1="1459.40" y1="585.90" x2="1465.00" y2="585.90" stroke="#000" stroke-width="1.05" />
<line x1="1459.40" y1="572.70" x2="1471.20" y2="572.70" stroke="#000" stroke-width="1.05" />
<line x1="1459.40" y1="559.50" x2="1465.00" y2="559.50" stroke="#000" stroke-width="1.05" />
<line x1="1459.40" y1="546.30" x2="1465.00" y2="546.30" stroke="#000" stroke-width="1.05" />
<line x1="1459.40" y1="533.10" x2="1465.00" y2="533.10" stroke="#000" stroke-width="1.05" />
<line x1="1459.40" y1="519.90" x2="1465.00" y2="519.90" stroke="#000" stroke-width="1.05" />
</g>
<g id="annot" font-family="Liberation Sans, sans-serif" fill="#000">
<text transform="translate(163.20 946.40) scale(0.957 1)" font-size="29.57" text-anchor="middle" font-weight="normal" ><tspan dx="0.046em" dy="-0.3" style="font-size:90%" stroke="#000" stroke-width="0.35">–</tspan><tspan dx="0.042em" dy="0.3">1</tspan>0</text>
<text transform="translate(325.23 946.40) scale(0.957 1)" font-size="29.57" text-anchor="middle" font-weight="normal" >0</text>
<text transform="translate(487.25 946.40) scale(0.957 1)" font-size="29.57" text-anchor="middle" font-weight="normal" >10</text>
<text transform="translate(649.27 946.40) scale(0.957 1)" font-size="29.57" text-anchor="middle" font-weight="normal" >20</text>
<text transform="translate(811.30 946.40) scale(0.957 1)" font-size="29.57" text-anchor="middle" font-weight="normal" >30</text>
<text transform="translate(973.33 946.40) scale(0.957 1)" font-size="29.57" text-anchor="middle" font-weight="normal" >40</text>
<text transform="translate(1135.35 946.40) scale(0.957 1)" font-size="29.57" text-anchor="middle" font-weight="normal" >50</text>
<text transform="translate(1297.38 946.40) scale(0.957 1)" font-size="29.57" text-anchor="middle" font-weight="normal" >60</text>
<text transform="translate(1459.40 946.40) scale(0.957 1)" font-size="29.57" text-anchor="middle" font-weight="normal" >70</text>
<text transform="translate(140.10 913.40) scale(0.957 1)" font-size="29.57" text-anchor="end" font-weight="normal" ><tspan dx="0.046em" dy="-0.3" style="font-size:90%" stroke="#000" stroke-width="0.35">–</tspan><tspan dx="0.042em" dy="0.3">1</tspan>000</text>
<text transform="translate(140.10 834.19) scale(0.957 1)" font-size="29.57" text-anchor="end" font-weight="normal" ><tspan dx="0.046em" dy="-0.3" style="font-size:90%" stroke="#000" stroke-width="0.35">–</tspan><tspan dx="0.042em" dy="0.3">8</tspan>00</text>
<text transform="translate(140.10 754.98) scale(0.957 1)" font-size="29.57" text-anchor="end" font-weight="normal" ><tspan dx="0.046em" dy="-0.3" style="font-size:90%" stroke="#000" stroke-width="0.35">–</tspan><tspan dx="0.042em" dy="0.3">6</tspan>00</text>
<text transform="translate(140.10 675.77) scale(0.957 1)" font-size="29.57" text-anchor="end" font-weight="normal" ><tspan dx="0.046em" dy="-0.3" style="font-size:90%" stroke="#000" stroke-width="0.35">–</tspan><tspan dx="0.042em" dy="0.3">4</tspan>00</text>
<text transform="translate(140.10 596.56) scale(0.957 1)" font-size="29.57" text-anchor="end" font-weight="normal" ><tspan dx="0.046em" dy="-0.3" style="font-size:90%" stroke="#000" stroke-width="0.35">–</tspan><tspan dx="0.042em" dy="0.3">2</tspan>00</text>
<text transform="translate(140.10 517.35) scale(0.957 1)" font-size="29.57" text-anchor="end" font-weight="normal" >0</text>
<text transform="translate(140.10 438.14) scale(0.957 1)" font-size="29.57" text-anchor="end" font-weight="normal" >200</text>
<text transform="translate(140.10 358.93) scale(0.957 1)" font-size="29.57" text-anchor="end" font-weight="normal" >400</text>
<text transform="translate(140.10 279.72) scale(0.957 1)" font-size="29.57" text-anchor="end" font-weight="normal" >600</text>
<text transform="translate(140.10 200.51) scale(0.957 1)" font-size="29.57" text-anchor="end" font-weight="normal" >800</text>
<text transform="translate(140.10 121.30) scale(0.957 1)" font-size="29.57" text-anchor="end" font-weight="normal" >1000</text>
<text transform="translate(1543.40 451.40) scale(0.957 1)" font-size="29.57" text-anchor="end" font-weight="normal" >1002</text>
<text transform="translate(1543.40 385.30) scale(0.957 1)" font-size="29.57" text-anchor="end" font-weight="normal" >1004</text>
<text transform="translate(1543.40 319.20) scale(0.957 1)" font-size="29.57" text-anchor="end" font-weight="normal" >1006</text>
<text transform="translate(1543.40 253.10) scale(0.957 1)" font-size="29.57" text-anchor="end" font-weight="normal" >1008</text>
<text transform="translate(1543.40 187.00) scale(0.957 1)" font-size="29.57" text-anchor="end" font-weight="normal" >1010</text>
<text transform="translate(1559.50 913.20) scale(0.957 1)" font-size="29.57" text-anchor="end" font-weight="normal" ><tspan dx="0.046em" dy="-0.3" style="font-size:90%" stroke="#000" stroke-width="0.35">–</tspan><tspan dx="0.042em" dy="0.3">1</tspan>500</text>
<text transform="translate(1559.50 847.20) scale(0.957 1)" font-size="29.57" text-anchor="end" font-weight="normal" ><tspan dx="0.046em" dy="-0.3" style="font-size:90%" stroke="#000" stroke-width="0.35">–</tspan><tspan dx="0.042em" dy="0.3">1</tspan>000</text>
<text transform="translate(1559.50 781.20) scale(0.957 1)" font-size="29.57" text-anchor="end" font-weight="normal" ><tspan dx="0.046em" dy="-0.3" style="font-size:90%" stroke="#000" stroke-width="0.35">–</tspan><tspan dx="0.042em" dy="0.3">5</tspan>00</text>
<text transform="translate(1559.50 715.20) scale(0.957 1)" font-size="29.57" text-anchor="end" font-weight="normal" >0</text>
<text transform="translate(1559.50 649.20) scale(0.957 1)" font-size="29.57" text-anchor="end" font-weight="normal" >500</text>
<text transform="translate(1559.50 583.20) scale(0.957 1)" font-size="29.57" text-anchor="end" font-weight="normal" >1000</text>
</g>
<g id="labels" font-family="Liberation Sans, sans-serif" fill="#000">
<text transform="translate(810.50 1000.50) scale(0.951 1)" font-size="37.83" text-anchor="middle" font-weight="normal" >Time [min] from 2022<tspan dx="0.046em" dy="-0.3" style="font-size:90%" stroke="#000" stroke-width="0.35">–</tspan><tspan dx="0.042em" dy="0.3">0</tspan>5<tspan dx="0.046em" dy="-0.3" style="font-size:90%" stroke="#000" stroke-width="0.35">–</tspan><tspan dx="0.042em" dy="0.3">1</tspan>2 10:00:00 UTC</text>
<text transform="translate(35.20 505.00) rotate(-90) scale(0.957 1)" font-size="37.83" text-anchor="middle" font-weight="normal" >Obs’d Gravity [nm/s<tspan font-size="26.5" dy="-13.5">2</tspan><tspan dy="13.5">]</tspan></text>
<text transform="translate(1600.00 309.00) rotate(-90) scale(0.952 1)" font-size="37.83" text-anchor="middle" font-weight="normal" >Pressure [hPa]</text>
<text transform="translate(1616.00 704.50) rotate(-90) scale(0.957 1)" font-size="37.83" text-anchor="middle" font-weight="normal" >Tide [nm/s<tspan font-size="26.5" dy="-13.5">2</tspan><tspan dy="13.5">]</tspan></text>
<text transform="translate(995.80 81.30) scale(0.954 1)" font-size="33.75" text-anchor="middle" font-weight="bold" >SCG_054 gravimeter Onsala Space Observatory, Sweden</text>
<text transform="translate(192.20 887.50) scale(0.957 1)" font-size="29.21" text-anchor="start" font-weight="bold" >The latest 1<tspan dx="0.046em" dy="-0.3" style="font-size:90%" stroke="#000" stroke-width="0.35">–</tspan><tspan dx="0.042em" dy="0.3">h</tspan>our, 1<tspan dx="0.046em" dy="-0.3" style="font-size:90%" stroke="#000" stroke-width="0.35">–</tspan><tspan dx="0.042em" dy="0.3">s</tspan>econd sampling</text>
<text transform="translate(1429.60 887.50) scale(0.95 1)" font-size="29.21" text-anchor="end" font-weight="bold" >End at 2022<tspan dx="0.046em" dy="-0.3" style="font-size:90%" stroke="#000" stroke-width="0.35">–</tspan><tspan dx="0.042em" dy="0.3">0</tspan>5<tspan dx="0.046em" dy="-0.3" style="font-size:90%" stroke="#000" stroke-width="0.35">–</tspan><tspan dx="0.042em" dy="0.3">1</tspan>2 10:59:59 UTC</text>
<text transform="translate(245.50 506.60) rotate(-90) scale(0.945 1)" font-size="25.39" text-anchor="middle" font-weight="normal" >Typical noise level</text>
<text transform="translate(1388.00 308.10) rotate(-90) scale(0.964 1)" font-size="24.87" text-anchor="middle" font-weight="normal" >1 DIV = 0.5 hPa/h</text>
<text transform="translate(1428.00 309.00) rotate(-90) scale(0.957 1)" font-size="24.98" text-anchor="middle" font-weight="normal" >average = 0.8310</text>
</g>
<g id="legend">
<rect x="167.0" y="18.5" width="372.5" height="163.0" fill="#fff" stroke="#000" stroke-width="0.55"/>
<line x1="204.00" y1="39.30" x2="260.10" y2="39.30" stroke="#0000ff" stroke-width="0.55" />
<circle cx="232.1" cy="39.3" r="4.2" fill="#0000ff"/>
<line x1="204.00" y1="69.60" x2="260.10" y2="69.60" stroke="#00c5c5" stroke-width="0.55" />
<circle cx="232.1" cy="69.6" r="4.2" fill="#00c5c5"/>
<line x1="204.00" y1="100.20" x2="260.10" y2="100.20" stroke="#000" stroke-width="3.1" />
<line x1="204.00" y1="130.50" x2="260.10" y2="130.50" stroke="#bebebe" stroke-width="3.1" />
<line x1="204.00" y1="161.20" x2="260.10" y2="161.20" stroke="#ff0000" stroke-width="0.55" />
<circle cx="232.1" cy="161.2" r="4.2" fill="#ff0000"/>
<g font-family="Liberation Sans, sans-serif" fill="#000">
<text transform="translate(278.50 48.00) scale(1.006 1)" font-size="24.30" text-anchor="start" font-weight="normal" >Pressure</text>
<text transform="translate(278.50 78.30) scale(0.991 1)" font-size="24.30" text-anchor="start" font-weight="normal" >dP/dt low<tspan dx="0.046em" dy="-0.3" style="font-size:90%" stroke="#000" stroke-width="0.35">–</tspan><tspan dx="0.042em" dy="0.3">p</tspan>assed</text>
<text transform="translate(278.50 108.90) scale(1.006 1)" font-size="24.30" text-anchor="start" font-weight="normal" >Residual</text>
<text transform="translate(278.50 139.20) scale(1.006 1)" font-size="24.30" text-anchor="start" font-weight="normal" >... last 10 min.</text>
<text transform="translate(278.50 169.90) scale(0.988 1)" font-size="24.30" text-anchor="start" font-weight="normal" >Theor.Tide</text>
</g></g>
<g id="scale" fill="none">
<g stroke="#008b8b" stroke-width="1.05">
<line x1="1346.0" y1="110.6" x2="1346.0" y2="506.7"/>
<line x1="1329.6" y1="110.6" x2="1362.0" y2="110.6"/>
<line x1="1329.6" y1="506.7" x2="1362.0" y2="506.7"/>
</g>
<g stroke="#008b8b" stroke-width="0.55">
<line x1="1346.0" y1="467.04" x2="1354.2" y2="467.04"/>
<line x1="1346.0" y1="427.44" x2="1354.2" y2="427.44"/>
<line x1="1346.0" y1="387.83" x2="1354.2" y2="387.83"/>
<line x1="1346.0" y1="348.23" x2="1354.2" y2="348.23"/>
<line x1="1346.0" y1="308.62" x2="1354.2" y2="308.62"/>
<line x1="1346.0" y1="269.02" x2="1354.2" y2="269.02"/>
<line x1="1346.0" y1="229.42" x2="1354.2" y2="229.42"/>
<line x1="1346.0" y1="189.81" x2="1354.2" y2="189.81"/>
<line x1="1346.0" y1="150.20" x2="1354.2" y2="150.20"/>
</g>
</g>
<path id="gray10" d="M325.2,749.4L326.8,743.9L328.8,744.4L331.5,747.8L336.6,734.2L338.5,736.8L342.4,751.0L346.4,761.9L348.2,762.7L352.6,753.8L355.0,754.9L356.6,758.8L358.9,772.1L361.3,775.3L364.4,751.0L367.5,742.0L369.9,747.8L372.2,755.2L374.6,754.1L377.7,741.5L380.1,722.7L382.1,715.2L384.0,714.9L387.1,741.5L389.5,785.5L391.8,794.1L394.2,782.3L396.5,725.9L399.7,713.3L402.0,721.2L404.4,747.8L406.0,780.7L409.1,795.6L411.4,785.5L413.8,760.4L415.4,736.8L417.7,725.5L419.3,728.2L421.6,746.2L423.5,768.2L425.6,777.6L427.9,768.2L429.5,754.1L431.8,714.9L433.7,699.2L435.7,701.1L438.1,722.7L440.5,754.1L442.0,768.2L443.6,775.3L445.5,775.7L447.5,768.2L449.9,754.1L451.7,749.1L453.3,747.8L455.3,754.1L456.9,769.8L458.5,783.9L460.8,797.2L462.4,796.4L464.8,780.7L466.3,754.1L467.9,725.9L469.5,699.2L470.7,693.2L472.6,699.2L474.2,722.7L476.5,757.2L478.9,780.7L481.2,776.0L482.8,754.1L485.1,722.7L487.2,713.6L489.1,722.7L491.4,747.8L493.0,763.5L495.3,772.9L498.5,780.7L501.6,787.0L504.0,782.3L506.3,760.4L508.7,746.2L509.9,743.1L511.8,746.2L514.2,751.7L516.5,747.8L518.9,740.0L522.0,732.1L525.9,719.6L527.5,721.9L529.8,735.3L532.2,752.5L534.5,761.9L536.4,761.1L538.9,752.2L540.8,753.8L542.7,761.9L544.7,780.7L547.1,788.9L549.4,782.3L551.0,769.8L553.4,747.8L554.9,741.5L556.8,739.2L558.8,743.1L561.5,751.0L564.0,748.6L565.9,738.4L568.3,722.7L569.8,714.1L571.4,713.0L573.4,719.6L573.6,721.2L576.0,741.5L578.3,757.2L579.9,763.5L582.2,769.8L585.4,780.0L587.7,781.1L591.7,779.5L594.0,776.8L595.6,769.8L597.1,758.8L599.5,744.7L601.9,740.3L605.5,740.0L607.3,736.8L609.7,722.7L611.7,702.3L613.3,695.8L615.2,700.8L616.7,719.6L619.1,747.8L621.1,776.0L623.0,794.9L625.4,797.2L626.9,785.5L629.3,775.3L631.6,779.2L634.8,783.9L636.8,780.7L638.4,769.8L640.3,749.4L642.2,725.9L643.9,716.8L646.1,716.1L648.1,729.0L650.5,743.1L652.5,747.0L654.4,741.5L656.3,722.7L658.6,702.3L660.7,701.1L662.2,713.3L664.1,741.5L666.1,772.9L668.2,799.6L670.1,812.1L672.1,813.7L674.8,810.5L677.1,805.8L679.2,798.0L680.7,788.6L681.8,776.0L682.9,757.2L684.2,735.3L685.7,707.0L691.3,639.6L693.0,649.6L694.7,677.5L696.4,717.8L698.0,762.6L699.7,802.9L701.4,830.8L703.1,840.8L706.1,816.8L707.7,798.0L709.3,788.6L711.2,785.8L713.2,786.7L714.8,788.6L716.3,779.2L717.9,757.2L719.5,722.7L721.0,691.4L722.6,669.4L725.4,650.6L727.0,656.1L728.6,671.8L730.3,695.9L731.9,725.4L733.5,756.9L735.1,786.4L736.8,810.5L738.4,826.2L740.0,831.7L741.6,825.7L743.1,808.5L744.7,782.9L746.2,752.7L747.8,722.4L749.4,696.8L750.9,679.6L752.5,673.6L754.1,680.8L755.7,701.0L757.3,730.2L759.0,762.6L760.6,791.8L762.2,812.0L763.8,819.2L765.4,814.1L766.9,799.7L768.5,778.0L770.0,752.5L771.6,727.0L773.2,705.3L774.7,690.9L776.3,685.8L779.0,693.0L781.4,705.5L783.8,729.0L792.0,864.7L793.7,854.8L795.4,826.4L797.1,784.1L798.9,734.1L800.6,684.1L802.3,641.8L804.0,613.4L805.7,603.5L807.3,615.9L809.0,651.2L810.6,704.0L812.2,766.2L813.8,828.5L815.5,881.3L817.1,916.6L818.7,929.0L820.3,910.4L821.9,858.4L823.5,783.1L825.2,699.7L826.8,624.4L828.4,572.4L830.0,553.8L831.6,572.3L833.3,624.3L834.9,699.3L836.5,782.7L838.1,857.7L839.8,909.7L841.4,928.2L843.1,904.9L844.9,841.2L846.6,754.1L848.4,667.1L850.1,603.3L851.9,580.0L853.6,596.1L855.3,641.3L857.0,706.5L858.7,778.9L860.4,844.1L862.1,889.3L863.8,905.4L865.4,890.8L866.9,849.8L868.5,790.5L870.1,724.7L871.7,665.4L873.2,624.4L874.8,609.8L876.3,621.4L877.8,653.9L879.3,700.8L880.9,752.8L882.4,799.7L883.9,832.2L885.4,843.8L886.9,834.4L888.4,808.8L889.9,773.8L891.4,738.7L892.9,713.1L894.4,703.7L896.1,713.4L897.9,738.7L899.6,769.9L901.4,795.2L903.1,804.9L904.8,796.3L906.5,773.0L908.2,741.0L910.0,709.1L911.7,685.7L913.4,677.1L919.2,766.5L921.1,780.6L922.7,788.4L926.7,781.4L928.6,788.4L930.5,797.8L932.5,801.7L934.9,788.4L936.8,749.2L938.3,710.0L942.3,652.7L944.0,666.4L945.7,703.9L947.3,755.0L949.0,806.2L950.7,843.7L952.4,857.4L953.9,844.7L955.4,810.0L957.0,762.5L958.5,715.1L960.0,680.3L961.5,667.6L963.2,683.6L964.9,725.6L966.5,777.4L968.2,819.4L969.9,835.4L971.5,824.0L973.1,792.8L974.8,750.1L976.4,707.4L978.0,676.2L979.6,664.8L981.2,676.8L982.8,709.4L984.5,754.0L986.1,798.7L987.7,831.3L989.3,843.3L990.9,830.3L992.4,794.8L994.0,746.3L995.6,697.8L997.1,662.3L998.7,649.3L1000.2,663.9L1001.7,703.8L1003.2,758.4L1004.8,812.9L1006.3,852.9L1007.8,867.5L1009.5,845.4L1011.2,787.6L1013.0,716.2L1014.7,658.4L1016.4,636.3L1018.1,654.5L1019.9,702.1L1021.6,761.0L1023.4,808.6L1025.1,826.8L1026.8,808.7L1028.6,764.9L1030.3,721.0L1032.1,702.9L1033.6,714.8L1035.1,746.1L1036.5,784.7L1038.0,816.0L1039.5,827.9L1041.2,810.5L1042.8,764.8L1044.5,708.5L1046.1,662.8L1047.8,645.4L1049.4,664.4L1051.0,714.2L1052.7,775.7L1054.3,825.5L1055.9,844.5L1057.6,831.6L1059.3,797.9L1060.9,756.1L1062.6,722.4L1064.3,709.5L1067.4,733.5L1070.2,756.3L1072.1,752.3L1074.4,735.1L1076.8,733.2L1079.2,749.2L1082.3,768.0L1084.3,774.3L1086.2,769.6L1088.6,755.5L1091.4,742.1L1094.0,752.3L1096.4,759.9L1098.7,752.3L1101.1,742.9L1103.5,740.6L1105.8,743.7L1108.2,753.9L1110.0,760.5L1111.5,767.9L1113.2,766.8L1115.1,756.6L1117.6,741.4L1120.2,733.7L1122.1,731.8L1124.0,735.0L1125.9,742.6L1127.8,752.8L1130.4,764.3L1132.3,768.1L1134.0,768.8L1136.1,767.1L1138.7,761.7L1140.6,752.8L1142.5,747.1L1144.4,745.2L1147.0,744.2L1148.9,740.7L1150.8,737.3L1152.7,736.5L1154.6,738.8L1156.5,745.2L1158.4,754.1L1160.3,764.3L1162.2,778.3L1164.5,779.8L1166.1,771.9L1168.0,751.5L1169.9,731.2L1172.4,726.7L1173.7,731.2L1175.6,746.5L1177.5,761.7L1178.8,768.1L1181.1,766.8L1182.6,759.2L1184.5,745.2L1186.5,733.1L1188.4,731.8L1190.0,736.3L1191.5,746.5L1193.5,759.2L1195.4,768.1L1196.6,770.9L1198.6,766.8L1200.5,757.9L1202.4,751.5L1204.5,748.4L1206.8,750.3L1208.8,756.6L1211.3,759.2L1213.2,755.4L1215.1,746.5L1217.7,735.0L1219.6,731.2L1221.5,733.1L1223.4,743.9L1225.3,755.4L1227.2,761.1L1229.8,759.2L1232.3,752.8L1234.2,745.2L1235.5,741.4L1237.8,745.2L1239.3,759.2L1241.2,777.0L1243.5,781.5L1245.1,771.9L1247.0,751.5L1248.9,729.9L1250.8,719.7L1251.7,718.4L1253.3,726.1L1255.3,746.5L1257.2,769.4L1259.1,786.0L1260.1,789.1L1261.6,782.1L1263.5,759.2L1265.5,731.2L1267.4,709.5L1269.5,701.2L1271.6,707.0L1273.1,724.8L1275.0,756.6L1276.9,784.7L1278.8,798.7L1279.7,801.5L1281.4,797.4L1283.3,778.3L1285.2,756.6L1287.1,738.8L1289.0,729.9L1290.9,725.4L1293.5,724.5L1295.4,724.8" fill="none" stroke="#bebebe" stroke-width="2.25" stroke-linejoin="round"/>
</svg>
</body>
</html>
